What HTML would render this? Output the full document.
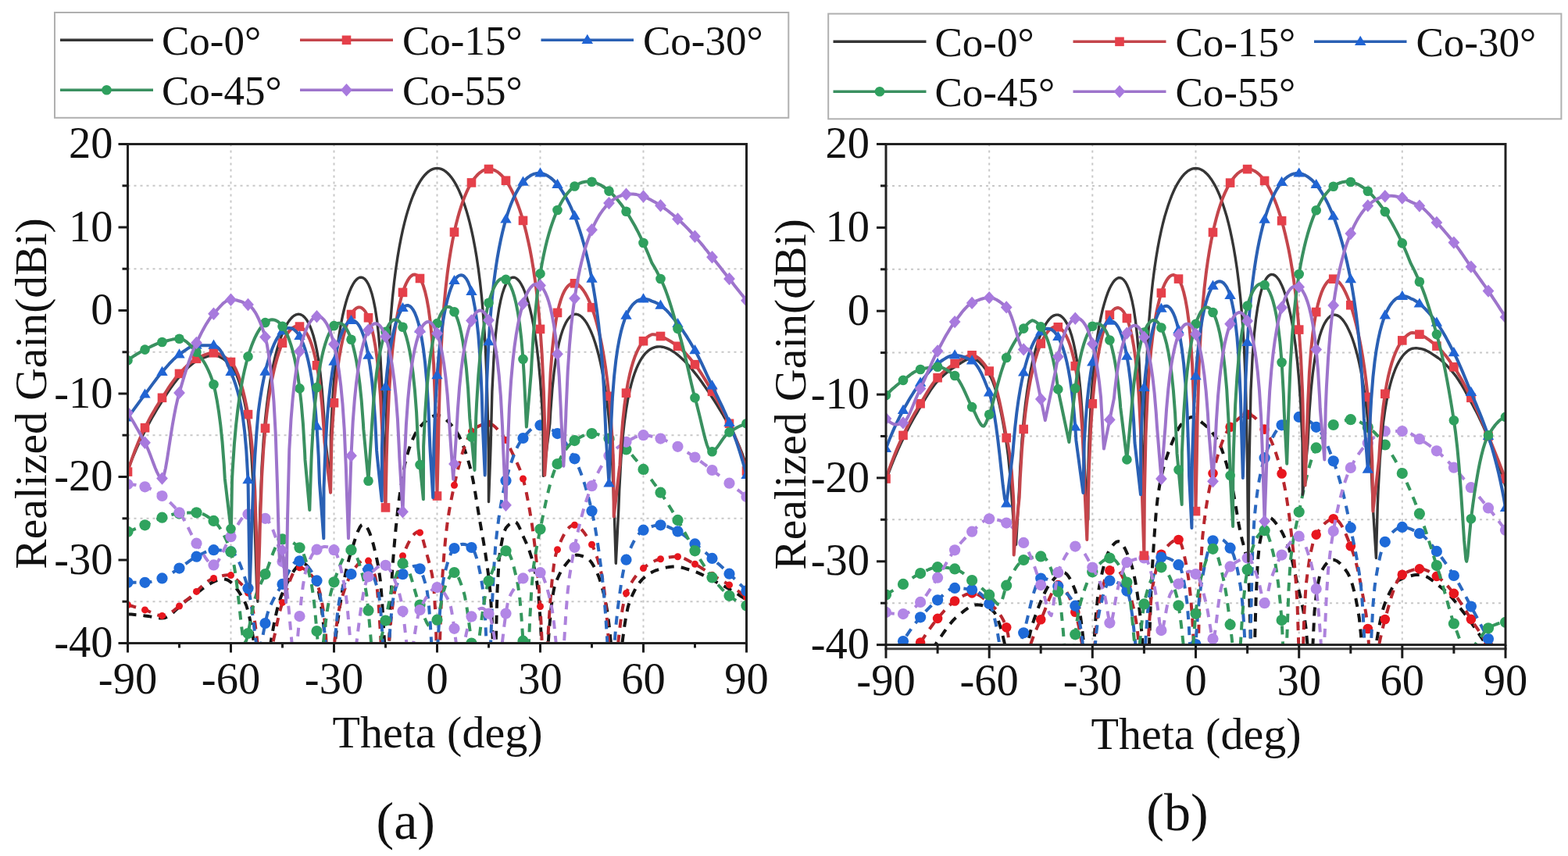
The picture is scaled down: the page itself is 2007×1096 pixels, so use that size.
<!DOCTYPE html><html><head><meta charset="utf-8"><style>html,body{margin:0;padding:0;background:#fff;overflow:hidden}svg{display:block}</style></head><body><svg width="2007" height="1096" viewBox="0 0 2007 1096" font-family="'Liberation Serif', 'Times New Roman', serif" font-size="54" fill="#111">
<rect width="2007" height="1096" fill="#fff"/>
<line x1="295.5" y1="184.5" x2="295.5" y2="823.5" stroke="#c8c8c8" stroke-width="2" stroke-dasharray="3 5"/>
<line x1="427.5" y1="184.5" x2="427.5" y2="823.5" stroke="#c8c8c8" stroke-width="2" stroke-dasharray="3 5"/>
<line x1="559.5" y1="184.5" x2="559.5" y2="823.5" stroke="#c8c8c8" stroke-width="2" stroke-dasharray="3 5"/>
<line x1="691.5" y1="184.5" x2="691.5" y2="823.5" stroke="#c8c8c8" stroke-width="2" stroke-dasharray="3 5"/>
<line x1="823.5" y1="184.5" x2="823.5" y2="823.5" stroke="#c8c8c8" stroke-width="2" stroke-dasharray="3 5"/>
<line x1="163.5" y1="237.8" x2="955.5" y2="237.8" stroke="#c8c8c8" stroke-width="2" stroke-dasharray="3 5"/>
<line x1="163.5" y1="344.2" x2="955.5" y2="344.2" stroke="#c8c8c8" stroke-width="2" stroke-dasharray="3 5"/>
<line x1="163.5" y1="450.8" x2="955.5" y2="450.8" stroke="#c8c8c8" stroke-width="2" stroke-dasharray="3 5"/>
<line x1="163.5" y1="557.2" x2="955.5" y2="557.2" stroke="#c8c8c8" stroke-width="2" stroke-dasharray="3 5"/>
<line x1="163.5" y1="663.8" x2="955.5" y2="663.8" stroke="#c8c8c8" stroke-width="2" stroke-dasharray="3 5"/>
<line x1="163.5" y1="770.2" x2="955.5" y2="770.2" stroke="#c8c8c8" stroke-width="2" stroke-dasharray="3 5"/>
<line x1="1266.2" y1="184.5" x2="1266.2" y2="825.6" stroke="#c8c8c8" stroke-width="2" stroke-dasharray="3 5"/>
<line x1="1398.3" y1="184.5" x2="1398.3" y2="825.6" stroke="#c8c8c8" stroke-width="2" stroke-dasharray="3 5"/>
<line x1="1530.5" y1="184.5" x2="1530.5" y2="825.6" stroke="#c8c8c8" stroke-width="2" stroke-dasharray="3 5"/>
<line x1="1662.7" y1="184.5" x2="1662.7" y2="825.6" stroke="#c8c8c8" stroke-width="2" stroke-dasharray="3 5"/>
<line x1="1794.8" y1="184.5" x2="1794.8" y2="825.6" stroke="#c8c8c8" stroke-width="2" stroke-dasharray="3 5"/>
<line x1="1134.0" y1="237.9" x2="1927.0" y2="237.9" stroke="#c8c8c8" stroke-width="2" stroke-dasharray="3 5"/>
<line x1="1134.0" y1="344.8" x2="1927.0" y2="344.8" stroke="#c8c8c8" stroke-width="2" stroke-dasharray="3 5"/>
<line x1="1134.0" y1="451.6" x2="1927.0" y2="451.6" stroke="#c8c8c8" stroke-width="2" stroke-dasharray="3 5"/>
<line x1="1134.0" y1="558.5" x2="1927.0" y2="558.5" stroke="#c8c8c8" stroke-width="2" stroke-dasharray="3 5"/>
<line x1="1134.0" y1="665.3" x2="1927.0" y2="665.3" stroke="#c8c8c8" stroke-width="2" stroke-dasharray="3 5"/>
<line x1="1134.0" y1="772.2" x2="1927.0" y2="772.2" stroke="#c8c8c8" stroke-width="2" stroke-dasharray="3 5"/>
<clipPath id="clipa"><rect x="163.5" y="184.5" width="792.0" height="639.0"/></clipPath>
<g clip-path="url(#clipa)" fill="none" stroke-linejoin="round" stroke-linecap="butt">
<path d="M163.5,786.2L165.7,786.4L167.9,786.6L170.1,786.8L172.3,787.0L174.5,787.2L176.7,787.4L178.9,787.6L181.1,787.9L183.3,788.1L185.5,788.4L187.7,788.7L189.9,789.0L192.1,789.4L194.3,789.8L196.5,790.3L198.7,790.7L200.9,791.0L203.1,791.3L205.3,791.5L207.5,791.5L209.7,791.3L211.9,790.7L214.1,789.7L216.3,788.4L218.5,786.8L220.7,785.1L222.9,783.1L225.1,781.1L227.3,779.1L229.5,777.0L231.7,774.9L233.9,772.9L236.1,771.0L238.3,769.1L240.5,767.5L242.7,766.0L244.9,764.5L247.1,763.0L249.3,761.4L251.5,759.7L253.7,758.0L255.9,756.3L258.1,754.7L260.3,753.0L262.5,751.5L264.7,749.9L266.9,748.5L269.1,747.2L271.3,746.0L273.5,744.9L275.7,743.9L277.9,743.1L280.1,742.4L282.3,741.9L284.5,741.6L286.7,741.5L288.9,741.8L291.1,742.5L293.3,743.8L295.5,745.4L297.7,747.5L299.9,749.9L302.1,752.7L304.3,755.7L306.5,759.0L308.7,762.6L310.9,766.4L313.1,770.2L315.3,775.3L317.5,782.7L319.7,792.1L321.9,803.5L324.1,816.8L326.3,831.4L328.5,846.8L330.7,861.3L332.9,872.4L335.1,876.8L337.3,873.4L339.5,864.7L341.7,852.6L343.9,839.0L346.1,825.3L348.3,812.2L350.5,800.2L352.7,789.3L354.9,779.8L357.1,771.7L359.3,764.9L361.5,759.6L363.7,754.9L365.9,750.2L368.1,745.5L370.3,741.1L372.5,736.9L374.7,733.1L376.9,729.7L379.1,726.9L381.3,724.5L383.5,722.7L385.7,721.6L387.9,721.3L390.1,721.8L392.3,723.5L394.5,726.1L396.7,729.5L398.9,733.6L401.1,738.3L403.3,743.5L405.5,748.9L407.7,756.4L409.9,767.8L412.1,782.8L414.3,801.6L416.5,823.6L418.7,847.2L420.9,867.8L423.1,876.8L425.3,863.3L427.5,837.9L429.7,815.4L431.9,798.3L434.1,782.3L436.3,767.5L438.5,754.0L440.7,742.0L442.9,731.2L445.1,721.8L447.3,713.5L449.5,706.4L451.7,699.4L453.9,692.3L456.1,685.6L458.3,679.8L460.5,675.3L462.7,672.3L464.9,671.2L467.1,672.1L469.3,674.5L471.5,678.4L473.7,683.6L475.9,690.1L478.1,697.9L480.3,706.8L482.5,716.8L484.7,727.6L486.9,743.9L489.1,770.2L491.3,807.2L493.5,851.1L495.7,876.8L497.9,831.4L500.1,770.5L502.3,728.0L504.5,700.1L506.7,676.0L508.9,655.2L511.1,637.5L513.3,622.6L515.5,608.8L517.7,596.6L519.9,587.1L522.1,579.5L524.3,572.7L526.5,566.7L528.7,561.3L530.9,556.7L533.1,552.6L535.3,549.3L537.5,546.6L539.7,544.3L541.9,542.0L544.1,539.9L546.3,537.9L548.5,536.2L550.7,534.7L552.9,533.4L555.1,532.5L557.3,531.9L559.5,531.7L561.7,531.9L563.9,532.6L566.1,533.7L568.3,535.2L570.5,536.9L572.7,538.9L574.9,541.2L577.1,543.6L579.3,546.1L581.5,548.7L583.7,551.7L585.9,555.2L588.1,559.4L590.3,564.2L592.5,569.6L594.7,575.6L596.9,582.1L599.1,589.1L601.3,596.7L603.5,605.4L605.7,616.0L607.9,628.3L610.1,641.9L612.3,655.8L614.5,668.8L616.7,681.1L618.9,693.7L621.1,707.4L623.3,722.4L625.5,738.9L627.7,759.6L629.9,795.6L632.1,862.9L634.3,838.7L636.5,756.2L638.7,717.0L640.9,701.2L643.1,689.4L645.3,681.1L647.5,676.1L649.7,673.5L651.9,671.3L654.1,669.6L656.3,668.5L658.5,668.0L660.7,668.8L662.9,671.6L665.1,675.9L667.3,681.0L669.5,686.3L671.7,691.0L673.9,695.9L676.1,701.3L678.3,707.3L680.5,714.2L682.7,722.4L684.9,732.2L687.1,744.1L689.3,761.9L691.5,791.9L693.7,832.9L695.9,871.6L698.1,870.6L700.3,843.4L702.5,812.2L704.7,785.8L706.9,766.2L709.1,753.8L711.3,746.7L713.5,741.0L715.7,736.1L717.9,731.9L720.1,728.3L722.3,725.1L724.5,722.3L726.7,719.6L728.9,716.9L731.1,714.4L733.3,712.4L735.5,711.1L737.7,710.6L739.9,710.7L742.1,711.1L744.3,711.7L746.5,712.5L748.7,713.4L750.9,714.4L753.1,715.7L755.3,717.9L757.5,720.8L759.7,724.4L761.9,728.5L764.1,733.0L766.3,738.2L768.5,744.6L770.7,752.2L772.9,760.8L775.1,770.2L777.3,782.5L779.5,799.5L781.7,820.8L783.9,844.8L786.1,866.8L788.3,876.8L790.5,870.3L792.7,855.0L794.9,836.3L797.1,818.0L799.3,801.7L801.5,788.1L803.7,777.6L805.9,770.2L808.1,764.9L810.3,760.0L812.5,755.6L814.7,751.7L816.9,748.2L819.1,745.2L821.3,742.6L823.5,740.4L825.7,738.5L827.9,736.8L830.1,735.2L832.3,733.8L834.5,732.6L836.7,731.5L838.9,730.5L841.1,729.8L843.3,729.1L845.5,728.5L847.7,727.9L849.9,727.3L852.1,726.8L854.3,726.4L856.5,726.0L858.7,725.8L860.9,725.6L863.1,725.5L865.3,725.6L867.5,725.8L869.7,726.1L871.9,726.5L874.1,727.0L876.3,727.6L878.5,728.3L880.7,729.0L882.9,729.7L885.1,730.4L887.3,731.2L889.5,731.9L891.7,732.7L893.9,733.6L896.1,734.6L898.3,735.6L900.5,736.7L902.7,737.9L904.9,739.1L907.1,740.2L909.3,741.4L911.5,742.6L913.7,743.7L915.9,744.8L918.1,745.9L920.3,747.1L922.5,748.2L924.7,749.4L926.9,750.6L929.1,751.8L931.3,753.0L933.5,754.3L935.7,755.6L937.9,756.9L940.1,758.2L942.3,759.5L944.5,760.9L946.7,762.3L948.9,763.7L951.1,765.1L953.3,766.6L955.5,768.1" stroke="#141414" stroke-width="4" stroke-dasharray="11 9"/>
<path d="M163.5,774.5L165.7,775.1L167.9,775.7L170.1,776.3L172.3,777.0L174.5,777.6L176.7,778.2L178.9,778.9L181.1,779.5L183.3,780.2L185.5,780.9L187.7,781.7L189.9,782.5L192.1,783.5L194.3,784.5L196.5,785.5L198.7,786.4L200.9,787.2L203.1,787.8L205.3,788.2L207.5,788.4L209.7,788.2L211.9,787.7L214.1,786.9L216.3,785.8L218.5,784.5L220.7,783.0L222.9,781.4L225.1,779.6L227.3,777.8L229.5,776.0L231.7,774.1L233.9,772.2L236.1,770.4L238.3,768.6L240.5,767.0L242.7,765.3L244.9,763.6L247.1,761.6L249.3,759.5L251.5,757.4L253.7,755.2L255.9,753.0L258.1,750.9L260.3,748.9L262.5,747.0L264.7,745.3L266.9,743.7L269.1,742.4L271.3,741.3L273.5,740.4L275.7,739.7L277.9,739.0L280.1,738.4L282.3,737.8L284.5,737.2L286.7,736.8L288.9,736.5L291.1,736.2L293.3,736.2L295.5,736.6L297.7,737.9L299.9,739.6L302.1,741.6L304.3,743.6L306.5,745.5L308.7,747.6L310.9,749.9L313.1,752.5L315.3,755.5L317.5,759.1L319.7,763.8L321.9,771.7L324.1,782.8L326.3,797.1L328.5,814.2L330.7,833.5L332.9,853.4L335.1,869.8L337.3,876.8L339.5,873.4L341.7,864.7L343.9,853.1L346.1,840.7L348.3,828.6L350.5,817.6L352.7,807.9L354.9,797.0L357.1,786.9L359.3,778.7L361.5,771.4L363.7,764.9L365.9,758.5L368.1,752.0L370.3,745.6L372.5,739.9L374.7,734.9L376.9,730.9L379.1,728.1L381.3,726.7L383.5,726.7L385.7,727.1L387.9,727.9L390.1,729.1L392.3,730.6L394.5,732.4L396.7,734.5L398.9,737.0L401.1,739.6L403.3,742.6L405.5,746.6L407.7,752.5L409.9,760.6L412.1,771.2L414.3,784.7L416.5,802.2L418.7,844.2L420.9,876.4L423.1,866.6L425.3,848.3L427.5,827.9L429.7,808.9L431.9,792.7L434.1,779.7L436.3,770.2L438.5,762.8L440.7,755.9L442.9,749.6L445.1,743.9L447.3,738.8L449.5,734.4L451.7,730.7L453.9,727.6L456.1,725.0L458.3,722.4L460.5,720.1L462.7,718.1L464.9,716.7L467.1,716.0L469.3,716.3L471.5,718.1L473.7,721.4L475.9,726.0L478.1,731.7L480.3,738.3L482.5,751.0L484.7,775.0L486.9,809.9L489.1,852.0L491.3,876.8L493.5,867.1L495.7,845.2L497.9,820.3L500.1,797.2L502.3,777.4L504.5,761.3L506.7,748.9L508.9,738.2L511.1,728.0L513.3,719.0L515.5,711.8L517.7,706.4L519.9,701.4L522.1,696.7L524.3,692.4L526.5,688.6L528.7,685.5L530.9,683.1L533.1,681.5L535.3,680.8L537.5,681.9L539.7,686.2L541.9,692.7L544.1,700.9L546.3,709.5L548.5,717.4L550.7,725.3L552.9,735.1L555.1,748.9L557.3,784.3L559.5,850.8L561.7,864.2L563.9,793.6L566.1,741.2L568.3,710.9L570.5,687.0L572.7,668.8L574.9,654.4L577.1,642.3L579.3,631.4L581.5,621.2L583.7,611.2L585.9,601.7L588.1,592.9L590.3,584.9L592.5,578.0L594.7,571.9L596.9,566.1L599.1,560.5L601.3,555.8L603.5,552.1L605.7,549.8L607.9,548.4L610.1,547.0L612.3,545.9L614.5,544.8L616.7,544.0L618.9,543.3L621.1,542.8L623.3,542.4L625.5,542.3L627.7,542.7L629.9,543.7L632.1,545.2L634.3,547.1L636.5,549.4L638.7,552.0L640.9,554.6L643.1,557.2L645.3,560.1L647.5,563.6L649.7,567.6L651.9,571.9L654.1,576.5L656.3,581.2L658.5,585.9L660.7,590.4L662.9,595.1L665.1,600.2L667.3,606.0L669.5,613.0L671.7,621.5L673.9,631.5L676.1,642.8L678.3,655.3L680.5,668.6L682.7,683.9L684.9,701.9L687.1,722.9L689.3,747.0L691.5,776.5L693.7,821.3L695.9,869.7L698.1,868.9L700.3,834.6L702.5,796.7L704.7,764.9L706.9,740.2L709.1,722.2L711.3,710.4L713.5,703.7L715.7,698.0L717.9,692.7L720.1,688.0L722.3,683.8L724.5,680.2L726.7,677.2L728.9,674.9L731.1,673.3L733.3,672.4L735.5,672.3L737.7,672.9L739.9,674.1L742.1,675.7L744.3,677.9L746.5,680.4L748.7,683.3L750.9,686.5L753.1,689.9L755.3,693.5L757.5,697.2L759.7,701.7L761.9,707.1L764.1,713.4L766.3,720.6L768.5,728.9L770.7,738.3L772.9,751.4L775.1,770.8L777.3,796.8L779.5,828.4L781.7,860.6L783.9,876.8L786.1,869.0L788.3,850.9L790.5,829.7L792.7,809.4L794.9,791.9L797.1,777.6L799.3,766.8L801.5,759.6L803.7,754.6L805.9,750.2L808.1,746.2L810.3,742.7L812.5,739.5L814.7,736.6L816.9,734.0L819.1,731.7L821.3,729.6L823.5,727.6L825.7,725.9L827.9,724.1L830.1,722.6L832.3,721.1L834.5,719.8L836.7,718.7L838.9,717.7L841.1,717.0L843.3,716.4L845.5,715.8L847.7,715.3L849.9,714.8L852.1,714.3L854.3,713.9L856.5,713.5L858.7,713.2L860.9,713.0L863.1,712.8L865.3,712.7L867.5,712.8L869.7,713.1L871.9,713.6L874.1,714.4L876.3,715.3L878.5,716.4L880.7,717.5L882.9,718.7L885.1,720.0L887.3,721.2L889.5,722.3L891.7,723.5L893.9,724.7L896.1,726.1L898.3,727.5L900.5,728.9L902.7,730.4L904.9,731.9L907.1,733.4L909.3,734.8L911.5,736.2L913.7,737.5L915.9,738.8L918.1,740.0L920.3,741.2L922.5,742.5L924.7,743.7L926.9,745.0L929.1,746.2L931.3,747.6L933.5,748.9L935.7,750.4L937.9,751.8L940.1,753.4L942.3,754.9L944.5,756.5L946.7,758.1L948.9,759.7L951.1,761.4L953.3,763.1L955.5,764.9" stroke="#b8262d" stroke-width="4" stroke-dasharray="11 9"/>
<circle cx="163.5" cy="774.5" r="4.5" fill="#e8161e"/>
<circle cx="185.5" cy="780.9" r="4.5" fill="#e8161e"/>
<circle cx="207.5" cy="788.4" r="4.5" fill="#e8161e"/>
<circle cx="229.5" cy="776.0" r="4.5" fill="#e8161e"/>
<circle cx="251.5" cy="757.4" r="4.5" fill="#e8161e"/>
<circle cx="273.5" cy="740.4" r="4.5" fill="#e8161e"/>
<circle cx="295.5" cy="736.6" r="4.5" fill="#e8161e"/>
<circle cx="317.5" cy="759.1" r="4.5" fill="#e8161e"/>
<circle cx="361.5" cy="771.4" r="4.5" fill="#e8161e"/>
<circle cx="383.5" cy="726.7" r="4.5" fill="#e8161e"/>
<circle cx="405.5" cy="746.6" r="4.5" fill="#e8161e"/>
<circle cx="427.5" cy="827.9" r="4.5" fill="#e8161e"/>
<circle cx="449.5" cy="734.4" r="4.5" fill="#e8161e"/>
<circle cx="471.5" cy="718.1" r="4.5" fill="#e8161e"/>
<circle cx="515.5" cy="711.8" r="4.5" fill="#e8161e"/>
<circle cx="537.5" cy="681.9" r="4.5" fill="#e8161e"/>
<circle cx="581.5" cy="621.2" r="4.5" fill="#e8161e"/>
<circle cx="603.5" cy="552.1" r="4.5" fill="#e8161e"/>
<circle cx="625.5" cy="542.3" r="4.5" fill="#e8161e"/>
<circle cx="647.5" cy="563.6" r="4.5" fill="#e8161e"/>
<circle cx="669.5" cy="613.0" r="4.5" fill="#e8161e"/>
<circle cx="691.5" cy="776.5" r="4.5" fill="#e8161e"/>
<circle cx="713.5" cy="703.7" r="4.5" fill="#e8161e"/>
<circle cx="735.5" cy="672.3" r="4.5" fill="#e8161e"/>
<circle cx="757.5" cy="697.2" r="4.5" fill="#e8161e"/>
<circle cx="779.5" cy="828.4" r="4.5" fill="#e8161e"/>
<circle cx="801.5" cy="759.6" r="4.5" fill="#e8161e"/>
<circle cx="823.5" cy="727.6" r="4.5" fill="#e8161e"/>
<circle cx="845.5" cy="715.8" r="4.5" fill="#e8161e"/>
<circle cx="867.5" cy="712.8" r="4.5" fill="#e8161e"/>
<circle cx="889.5" cy="722.3" r="4.5" fill="#e8161e"/>
<circle cx="911.5" cy="736.2" r="4.5" fill="#e8161e"/>
<circle cx="933.5" cy="748.9" r="4.5" fill="#e8161e"/>
<circle cx="955.5" cy="764.9" r="4.5" fill="#e8161e"/>
<path d="M163.5,745.8L165.7,745.8L167.9,745.8L170.1,745.8L172.3,745.8L174.5,745.8L176.7,745.8L178.9,745.8L181.1,745.8L183.3,745.8L185.5,745.8L187.7,745.7L189.9,745.4L192.1,745.1L194.3,744.6L196.5,744.0L198.7,743.4L200.9,742.7L203.1,741.9L205.3,741.2L207.5,740.4L209.7,739.6L211.9,738.6L214.1,737.4L216.3,736.1L218.5,734.8L220.7,733.4L222.9,731.9L225.1,730.5L227.3,729.0L229.5,727.6L231.7,726.2L233.9,724.7L236.1,723.1L238.3,721.4L240.5,719.8L242.7,718.2L244.9,716.7L247.1,715.2L249.3,713.9L251.5,712.7L253.7,711.6L255.9,710.5L258.1,709.3L260.3,708.2L262.5,707.1L264.7,706.2L266.9,705.4L269.1,704.8L271.3,704.4L273.5,704.2L275.7,704.2L277.9,704.3L280.1,704.4L282.3,704.6L284.5,704.8L286.7,705.0L288.9,705.3L291.1,705.6L293.3,706.0L295.5,706.4L297.7,707.3L299.9,709.3L302.1,712.3L304.3,716.1L306.5,720.7L308.7,726.1L310.9,732.2L313.1,738.8L315.3,745.9L317.5,753.2L319.7,762.8L321.9,776.5L324.1,793.3L326.3,811.5L328.5,827.3L330.7,834.1L332.9,830.3L335.1,821.0L337.3,809.4L339.5,798.0L341.7,788.2L343.9,780.9L346.1,775.5L348.3,770.8L350.5,766.5L352.7,762.5L354.9,758.8L357.1,755.1L359.3,751.5L361.5,747.9L363.7,743.9L365.9,739.4L368.1,734.8L370.3,730.4L372.5,726.4L374.7,723.0L376.9,720.4L379.1,718.7L381.3,718.1L383.5,718.3L385.7,719.1L387.9,720.3L390.1,721.9L392.3,723.9L394.5,726.3L396.7,729.0L398.9,732.1L401.1,735.5L403.3,739.2L405.5,743.4L407.7,751.1L409.9,762.7L412.1,778.2L414.3,797.5L416.5,820.4L418.7,845.1L420.9,867.1L423.1,876.8L425.3,863.5L427.5,836.3L429.7,808.8L431.9,786.1L434.1,769.6L436.3,759.6L438.5,753.4L440.7,748.0L442.9,743.4L445.1,739.6L447.3,736.9L449.5,735.1L451.7,733.9L453.9,732.9L456.1,731.9L458.3,731.0L460.5,730.3L462.7,729.7L464.9,729.2L467.1,728.9L469.3,728.7L471.5,728.9L473.7,730.4L475.9,733.6L478.1,738.2L480.3,744.1L482.5,751.3L484.7,759.6L486.9,776.4L489.1,807.9L491.3,850.1L493.5,876.8L495.7,858.7L497.9,825.0L500.1,794.6L502.3,772.5L504.5,759.6L506.7,752.3L508.9,746.2L511.1,741.4L513.3,737.8L515.5,735.2L517.7,733.0L519.9,731.0L522.1,729.1L524.3,727.5L526.5,726.3L528.7,725.3L530.9,724.7L533.1,724.5L535.3,725.5L537.5,728.3L539.7,732.8L541.9,738.8L544.1,746.0L546.3,754.3L548.5,769.6L550.7,797.5L552.9,836.0L555.1,872.0L557.3,869.2L559.5,836.9L561.7,801.6L563.9,772.7L566.1,751.6L568.3,738.3L570.5,729.3L572.7,721.3L574.9,714.4L577.1,708.8L579.3,704.7L581.5,702.1L583.7,700.4L585.9,698.9L588.1,697.8L590.3,697.0L592.5,696.8L594.7,697.0L596.9,697.6L599.1,698.5L601.3,699.6L603.5,701.0L605.7,703.6L607.9,708.1L610.1,714.6L612.3,723.0L614.5,733.4L616.7,745.9L618.9,761.0L621.1,791.4L623.3,840.4L625.5,876.8L627.7,834.8L629.9,774.4L632.1,729.1L634.3,698.0L636.5,677.9L638.7,661.7L640.9,647.5L643.1,635.2L645.3,624.5L647.5,615.4L649.7,607.3L651.9,599.8L654.1,592.9L656.3,586.5L658.5,580.7L660.7,575.5L662.9,570.9L665.1,567.0L667.3,563.7L669.5,561.0L671.7,558.3L673.9,555.7L676.1,553.3L678.3,551.0L680.5,549.1L682.7,547.4L684.9,546.0L687.1,545.1L689.3,544.6L691.5,544.5L693.7,544.7L695.9,545.2L698.1,546.0L700.3,546.9L702.5,548.0L704.7,549.2L706.9,550.6L709.1,552.1L711.3,553.6L713.5,555.1L715.7,556.9L717.9,559.0L720.1,561.6L722.3,564.5L724.5,567.7L726.7,571.2L728.9,574.9L731.1,578.9L733.3,583.0L735.5,587.3L737.7,591.7L739.9,596.6L742.1,602.0L744.3,607.8L746.5,614.2L748.7,621.0L750.9,628.4L753.1,636.4L755.3,645.0L757.5,654.2L759.7,664.4L761.9,676.2L764.1,689.6L766.3,704.6L768.5,721.0L770.7,738.3L772.9,759.2L775.1,787.0L777.3,821.6L779.5,858.0L781.7,876.8L783.9,860.7L786.1,830.0L788.3,801.7L790.5,780.9L792.7,764.2L794.9,748.6L797.1,735.1L799.3,724.4L801.5,716.7L803.7,710.5L805.9,704.8L808.1,699.7L810.3,695.1L812.5,691.0L814.7,687.5L816.9,684.5L819.1,682.0L821.3,680.1L823.5,678.7L825.7,677.6L827.9,676.6L830.1,675.6L832.3,674.8L834.5,674.0L836.7,673.4L838.9,672.9L841.1,672.5L843.3,672.3L845.5,672.3L847.7,672.5L849.9,672.9L852.1,673.5L854.3,674.2L856.5,675.1L858.7,676.1L860.9,677.2L863.1,678.2L865.3,679.3L867.5,680.4L869.7,681.6L871.9,682.9L874.1,684.4L876.3,686.0L878.5,687.7L880.7,689.4L882.9,691.2L885.1,692.9L887.3,694.7L889.5,696.4L891.7,698.1L893.9,699.9L896.1,701.7L898.3,703.5L900.5,705.4L902.7,707.2L904.9,709.1L907.1,711.0L909.3,713.0L911.5,714.9L913.7,716.8L915.9,718.7L918.1,720.7L920.3,722.6L922.5,724.6L924.7,726.6L926.9,728.6L929.1,730.6L931.3,732.6L933.5,734.7L935.7,736.8L937.9,738.9L940.1,741.0L942.3,743.1L944.5,745.3L946.7,747.5L948.9,749.7L951.1,751.9L953.3,754.1L955.5,756.4" stroke="#2a68c0" stroke-width="4" stroke-dasharray="11 9"/>
<circle cx="163.5" cy="745.8" r="7.1" fill="#1e6ad8"/>
<circle cx="185.5" cy="745.8" r="7.1" fill="#1e6ad8"/>
<circle cx="207.5" cy="740.4" r="7.1" fill="#1e6ad8"/>
<circle cx="229.5" cy="727.6" r="7.1" fill="#1e6ad8"/>
<circle cx="251.5" cy="712.7" r="7.1" fill="#1e6ad8"/>
<circle cx="273.5" cy="704.2" r="7.1" fill="#1e6ad8"/>
<circle cx="295.5" cy="706.4" r="7.1" fill="#1e6ad8"/>
<circle cx="317.5" cy="753.2" r="7.1" fill="#1e6ad8"/>
<circle cx="339.5" cy="798.0" r="7.1" fill="#1e6ad8"/>
<circle cx="361.5" cy="747.9" r="7.1" fill="#1e6ad8"/>
<circle cx="383.5" cy="718.3" r="7.1" fill="#1e6ad8"/>
<circle cx="405.5" cy="743.4" r="7.1" fill="#1e6ad8"/>
<circle cx="427.5" cy="836.3" r="7.1" fill="#1e6ad8"/>
<circle cx="449.5" cy="735.1" r="7.1" fill="#1e6ad8"/>
<circle cx="471.5" cy="728.9" r="7.1" fill="#1e6ad8"/>
<circle cx="515.5" cy="735.2" r="7.1" fill="#1e6ad8"/>
<circle cx="537.5" cy="728.3" r="7.1" fill="#1e6ad8"/>
<circle cx="559.5" cy="836.9" r="7.1" fill="#1e6ad8"/>
<circle cx="581.5" cy="702.1" r="7.1" fill="#1e6ad8"/>
<circle cx="603.5" cy="701.0" r="7.1" fill="#1e6ad8"/>
<circle cx="647.5" cy="615.4" r="7.1" fill="#1e6ad8"/>
<circle cx="669.5" cy="561.0" r="7.1" fill="#1e6ad8"/>
<circle cx="691.5" cy="544.5" r="7.1" fill="#1e6ad8"/>
<circle cx="713.5" cy="555.1" r="7.1" fill="#1e6ad8"/>
<circle cx="735.5" cy="587.3" r="7.1" fill="#1e6ad8"/>
<circle cx="757.5" cy="654.2" r="7.1" fill="#1e6ad8"/>
<circle cx="801.5" cy="716.7" r="7.1" fill="#1e6ad8"/>
<circle cx="823.5" cy="678.7" r="7.1" fill="#1e6ad8"/>
<circle cx="845.5" cy="672.3" r="7.1" fill="#1e6ad8"/>
<circle cx="867.5" cy="680.4" r="7.1" fill="#1e6ad8"/>
<circle cx="889.5" cy="696.4" r="7.1" fill="#1e6ad8"/>
<circle cx="911.5" cy="714.9" r="7.1" fill="#1e6ad8"/>
<circle cx="933.5" cy="734.7" r="7.1" fill="#1e6ad8"/>
<circle cx="955.5" cy="756.4" r="7.1" fill="#1e6ad8"/>
<path d="M163.5,680.8L165.7,680.0L167.9,679.2L170.1,678.4L172.3,677.5L174.5,676.7L176.7,675.8L178.9,674.9L181.1,674.1L183.3,673.2L185.5,672.3L187.7,671.3L189.9,670.3L192.1,669.3L194.3,668.2L196.5,667.2L198.7,666.2L200.9,665.2L203.1,664.3L205.3,663.4L207.5,662.7L209.7,662.0L211.9,661.3L214.1,660.6L216.3,660.0L218.5,659.4L220.7,658.8L222.9,658.3L225.1,657.9L227.3,657.6L229.5,657.4L231.7,657.2L233.9,657.0L236.1,656.9L238.3,656.7L240.5,656.6L242.7,656.5L244.9,656.4L247.1,656.3L249.3,656.3L251.5,656.3L253.7,656.4L255.9,656.9L258.1,657.5L260.3,658.4L262.5,659.5L264.7,660.8L266.9,662.2L269.1,663.7L271.3,665.3L273.5,666.9L275.7,668.8L277.9,671.2L280.1,674.0L282.3,677.3L284.5,681.0L286.7,685.2L288.9,689.8L291.1,694.8L293.3,700.4L295.5,706.4L297.7,714.3L299.9,725.6L302.1,740.2L304.3,757.8L306.5,777.8L308.7,798.6L310.9,816.1L313.1,823.5L315.3,819.9L317.5,811.0L319.7,799.5L321.9,787.5L324.1,776.3L326.3,766.9L328.5,759.6L330.7,754.0L332.9,749.0L335.1,744.4L337.3,739.8L339.5,735.1L341.7,729.7L343.9,723.7L346.1,717.4L348.3,711.2L350.5,705.6L352.7,700.5L354.9,696.3L357.1,693.1L359.3,691.1L361.5,690.4L363.7,690.5L365.9,690.9L368.1,691.5L370.3,692.3L372.5,693.3L374.7,694.6L376.9,696.0L379.1,697.6L381.3,699.3L383.5,701.3L385.7,703.7L387.9,707.7L390.1,713.4L392.3,720.6L394.5,729.1L396.7,738.7L398.9,748.9L401.1,762.9L403.3,783.1L405.5,808.1L407.7,832.8L409.9,844.8L412.1,836.8L414.3,819.1L416.5,799.6L418.7,782.7L420.9,770.2L423.1,760.6L425.3,752.2L427.5,745.3L429.7,738.7L431.9,732.4L434.1,726.5L436.3,721.1L438.5,716.3L440.7,712.2L442.9,708.8L445.1,706.3L447.3,704.8L449.5,704.2L451.7,705.1L453.9,707.7L456.1,711.8L458.3,717.2L460.5,723.8L462.7,731.4L464.9,739.9L467.1,748.9L469.3,761.9L471.5,781.7L473.7,806.9L475.9,832.3L478.1,844.8L480.3,842.8L482.5,837.4L484.7,829.8L486.9,821.1L489.1,812.3L491.3,803.8L493.5,794.6L495.7,783.0L497.9,771.0L500.1,759.9L502.3,750.6L504.5,743.6L506.7,737.7L508.9,732.0L511.1,727.0L513.3,723.4L515.5,721.4L517.7,721.7L519.9,724.0L522.1,728.0L524.3,733.6L526.5,740.3L528.7,747.8L530.9,755.6L533.1,763.1L535.3,769.2L537.5,774.6L539.7,780.6L541.9,786.6L544.1,792.5L546.3,797.4L548.5,800.9L550.7,802.2L552.9,801.5L555.1,799.6L557.3,796.9L559.5,793.7L561.7,787.0L563.9,776.4L566.1,765.1L568.3,755.5L570.5,748.9L572.7,744.3L574.9,739.9L577.1,736.3L579.3,733.9L581.5,733.0L583.7,734.2L585.9,737.5L588.1,742.3L590.3,748.2L592.5,754.3L594.7,762.2L596.9,773.7L599.1,788.5L601.3,805.6L603.5,823.5L605.7,838.5L607.9,844.8L610.1,839.2L612.3,825.5L614.5,808.4L616.7,791.2L618.9,775.6L621.1,762.3L623.3,751.6L625.5,743.8L627.7,737.9L629.9,732.3L632.1,726.8L634.3,721.8L636.5,717.3L638.7,713.4L640.9,710.1L643.1,707.7L645.3,706.0L647.5,705.3L649.7,706.1L651.9,709.1L654.1,714.1L656.3,720.9L658.5,729.2L660.7,738.7L662.9,748.9L665.1,764.0L667.3,788.1L669.5,820.7L671.7,857.0L673.9,876.8L676.1,842.5L678.3,790.9L680.5,752.1L682.7,727.6L684.9,712.2L687.1,699.6L689.3,688.3L691.5,677.6L693.7,666.8L695.9,655.9L698.1,645.3L700.3,635.4L702.5,626.2L704.7,617.9L706.9,610.5L709.1,604.0L711.3,598.6L713.5,594.0L715.7,589.6L717.9,585.6L720.1,581.8L722.3,578.3L724.5,575.1L726.7,572.2L728.9,569.7L731.1,567.5L733.3,565.6L735.5,564.1L737.7,562.7L739.9,561.4L742.1,560.1L744.3,558.9L746.5,557.8L748.7,556.9L750.9,556.2L753.1,555.6L755.3,555.2L757.5,555.1L759.7,555.2L761.9,555.5L764.1,555.9L766.3,556.5L768.5,557.2L770.7,558.0L772.9,558.8L775.1,559.7L777.3,560.6L779.5,561.5L781.7,562.4L783.9,563.5L786.1,564.7L788.3,565.9L790.5,567.3L792.7,568.7L794.9,570.3L797.1,571.9L799.3,573.6L801.5,575.4L803.7,577.3L805.9,579.4L808.1,581.7L810.3,584.2L812.5,586.9L814.7,589.6L816.9,592.4L819.1,595.3L821.3,598.1L823.5,600.9L825.7,603.7L827.9,606.5L830.1,609.4L832.3,612.3L834.5,615.2L836.7,618.3L838.9,621.3L841.1,624.4L843.3,627.6L845.5,630.7L847.7,634.0L849.9,637.3L852.1,640.7L854.3,644.1L856.5,647.7L858.7,651.3L860.9,654.9L863.1,658.5L865.3,662.2L867.5,665.9L869.7,669.6L871.9,673.5L874.1,677.4L876.3,681.4L878.5,685.5L880.7,689.6L882.9,693.7L885.1,697.7L887.3,701.6L889.5,705.3L891.7,708.9L893.9,712.5L896.1,716.2L898.3,719.8L900.5,723.3L902.7,726.8L904.9,730.2L907.1,733.4L909.3,736.5L911.5,739.4L913.7,742.1L915.9,744.8L918.1,747.4L920.3,750.0L922.5,752.4L924.7,754.8L926.9,757.0L929.1,759.1L931.3,761.0L933.5,762.8L935.7,764.4L937.9,766.1L940.1,767.6L942.3,769.1L944.5,770.6L946.7,771.9L948.9,773.1L951.1,774.1L953.3,774.9L955.5,775.6" stroke="#34975d" stroke-width="4" stroke-dasharray="11 9"/>
<circle cx="163.5" cy="680.8" r="7.1" fill="#2fa35e"/>
<circle cx="185.5" cy="672.3" r="7.1" fill="#2fa35e"/>
<circle cx="207.5" cy="662.7" r="7.1" fill="#2fa35e"/>
<circle cx="229.5" cy="657.4" r="7.1" fill="#2fa35e"/>
<circle cx="251.5" cy="656.3" r="7.1" fill="#2fa35e"/>
<circle cx="273.5" cy="666.9" r="7.1" fill="#2fa35e"/>
<circle cx="295.5" cy="706.4" r="7.1" fill="#2fa35e"/>
<circle cx="317.5" cy="811.0" r="7.1" fill="#2fa35e"/>
<circle cx="339.5" cy="735.1" r="7.1" fill="#2fa35e"/>
<circle cx="361.5" cy="690.4" r="7.1" fill="#2fa35e"/>
<circle cx="383.5" cy="701.3" r="7.1" fill="#2fa35e"/>
<circle cx="405.5" cy="808.1" r="7.1" fill="#2fa35e"/>
<circle cx="427.5" cy="745.3" r="7.1" fill="#2fa35e"/>
<circle cx="449.5" cy="704.2" r="7.1" fill="#2fa35e"/>
<circle cx="471.5" cy="781.7" r="7.1" fill="#2fa35e"/>
<circle cx="493.5" cy="794.6" r="7.1" fill="#2fa35e"/>
<circle cx="515.5" cy="721.4" r="7.1" fill="#2fa35e"/>
<circle cx="537.5" cy="774.6" r="7.1" fill="#2fa35e"/>
<circle cx="559.5" cy="793.7" r="7.1" fill="#2fa35e"/>
<circle cx="581.5" cy="733.0" r="7.1" fill="#2fa35e"/>
<circle cx="603.5" cy="823.5" r="7.1" fill="#2fa35e"/>
<circle cx="625.5" cy="743.8" r="7.1" fill="#2fa35e"/>
<circle cx="647.5" cy="705.3" r="7.1" fill="#2fa35e"/>
<circle cx="669.5" cy="820.7" r="7.1" fill="#2fa35e"/>
<circle cx="691.5" cy="677.6" r="7.1" fill="#2fa35e"/>
<circle cx="713.5" cy="594.0" r="7.1" fill="#2fa35e"/>
<circle cx="735.5" cy="564.1" r="7.1" fill="#2fa35e"/>
<circle cx="757.5" cy="555.1" r="7.1" fill="#2fa35e"/>
<circle cx="779.5" cy="561.5" r="7.1" fill="#2fa35e"/>
<circle cx="801.5" cy="575.4" r="7.1" fill="#2fa35e"/>
<circle cx="823.5" cy="600.9" r="7.1" fill="#2fa35e"/>
<circle cx="845.5" cy="630.7" r="7.1" fill="#2fa35e"/>
<circle cx="867.5" cy="665.9" r="7.1" fill="#2fa35e"/>
<circle cx="889.5" cy="705.3" r="7.1" fill="#2fa35e"/>
<circle cx="911.5" cy="739.4" r="7.1" fill="#2fa35e"/>
<circle cx="933.5" cy="762.8" r="7.1" fill="#2fa35e"/>
<circle cx="955.5" cy="775.6" r="7.1" fill="#2fa35e"/>
<path d="M163.5,620.1L165.7,620.1L167.9,620.3L170.1,620.5L172.3,620.7L174.5,621.1L176.7,621.4L178.9,621.9L181.1,622.3L183.3,622.8L185.5,623.3L187.7,623.9L189.9,624.7L192.1,625.6L194.3,626.7L196.5,627.9L198.7,629.2L200.9,630.5L203.1,632.0L205.3,633.5L207.5,635.0L209.7,636.6L211.9,638.3L214.1,640.1L216.3,642.0L218.5,644.1L220.7,646.3L222.9,648.6L225.1,651.1L227.3,653.6L229.5,656.3L231.7,659.3L233.9,662.7L236.1,666.5L238.3,670.6L240.5,674.9L242.7,679.3L244.9,683.8L247.1,688.1L249.3,692.2L251.5,695.7L253.7,699.0L255.9,702.6L258.1,706.2L260.3,709.8L262.5,713.3L264.7,716.5L266.9,719.2L269.1,721.4L271.3,722.9L273.5,723.4L275.7,722.6L277.9,720.3L280.1,717.0L282.3,712.9L284.5,708.4L286.7,703.7L288.9,699.0L291.1,694.7L293.3,690.7L295.5,687.2L297.7,683.7L299.9,679.9L302.1,675.9L304.3,672.0L306.5,668.4L308.7,665.1L310.9,662.4L313.1,660.3L315.3,658.9L317.5,658.4L319.7,658.5L321.9,658.7L324.1,659.0L326.3,659.4L328.5,659.9L330.7,660.5L332.9,661.2L335.1,662.0L337.3,662.8L339.5,663.8L341.7,665.3L343.9,667.9L346.1,671.5L348.3,676.0L350.5,681.5L352.7,687.7L354.9,694.7L357.1,702.4L359.3,710.6L361.5,719.1L363.7,729.9L365.9,744.8L368.1,763.9L370.3,786.8L372.5,812.0L374.7,834.7L376.9,844.8L379.1,835.0L381.3,813.2L383.5,789.1L385.7,767.4L387.9,749.6L390.1,736.3L392.3,727.6L394.5,721.6L396.7,716.2L398.9,711.6L401.1,707.9L403.3,705.2L405.5,703.7L407.7,702.5L409.9,701.5L412.1,700.7L414.3,700.1L416.5,700.0L418.7,700.2L420.9,700.7L423.1,701.7L425.3,702.8L427.5,704.2L429.7,707.0L431.9,712.1L434.1,719.3L436.3,728.1L438.5,738.3L440.7,748.9L442.9,763.0L445.1,783.3L447.3,808.3L449.5,832.9L451.7,844.8L453.9,839.0L456.1,824.9L458.3,807.5L460.5,790.1L462.7,774.4L464.9,761.0L467.1,750.5L469.3,742.8L471.5,738.3L473.7,735.6L475.9,733.0L478.1,730.7L480.3,728.7L482.5,726.9L484.7,725.5L486.9,724.4L489.1,723.7L491.3,723.4L493.5,723.8L495.7,725.3L497.9,727.9L500.1,731.5L502.3,735.9L504.5,741.0L506.7,746.8L508.9,753.0L511.1,759.6L513.3,768.8L515.5,782.6L517.7,800.1L519.9,819.7L522.1,837.1L524.3,844.8L526.5,839.3L528.7,826.5L530.9,811.6L533.1,798.0L535.3,787.4L537.5,781.0L539.7,776.2L541.9,771.6L544.1,767.5L546.3,763.7L548.5,760.4L550.7,757.6L552.9,755.3L555.1,753.6L557.3,752.5L559.5,752.1L561.7,752.6L563.9,754.0L566.1,756.1L568.3,758.9L570.5,762.2L572.7,766.1L574.9,770.2L577.1,777.3L579.3,789.2L581.5,804.8L583.7,822.4L585.9,837.9L588.1,844.8L590.3,841.3L592.5,832.7L594.7,821.8L596.9,810.9L599.1,801.3L601.3,793.9L603.5,789.4L605.7,786.7L607.9,784.1L610.1,782.0L612.3,780.3L614.5,779.2L616.7,778.8L618.9,779.3L621.1,780.8L623.3,783.0L625.5,785.7L627.7,790.3L629.9,799.5L632.1,812.3L634.3,826.7L636.5,839.3L638.7,844.8L640.9,837.4L643.1,820.7L645.3,802.0L647.5,785.5L649.7,772.8L651.9,764.9L654.1,760.3L656.3,756.5L658.5,753.3L660.7,750.5L662.9,748.0L665.1,745.5L667.3,743.1L669.5,740.4L671.7,737.4L673.9,734.5L676.1,732.1L678.3,730.4L680.5,729.8L682.7,729.9L684.9,730.4L687.1,731.2L689.3,732.1L691.5,733.2L693.7,735.8L695.9,740.2L698.1,746.2L700.3,753.4L702.5,761.6L704.7,770.2L706.9,781.7L709.1,798.2L711.3,819.4L713.5,843.8L715.7,866.4L717.9,876.8L720.1,856.4L722.3,818.5L724.5,783.8L726.7,757.0L728.9,738.3L731.1,724.5L733.3,712.3L735.5,700.8L737.7,690.0L739.9,679.9L742.1,670.6L744.3,661.9L746.5,653.9L748.7,646.5L750.9,639.6L753.1,633.3L755.3,627.5L757.5,622.2L759.7,617.2L761.9,612.4L764.1,607.8L766.3,603.4L768.5,599.3L770.7,595.5L772.9,592.0L775.1,588.8L777.3,586.0L779.5,583.5L781.7,581.1L783.9,578.9L786.1,576.8L788.3,574.9L790.5,573.0L792.7,571.3L794.9,569.8L797.1,568.3L799.3,567.0L801.5,565.8L803.7,564.6L805.9,563.4L808.1,562.2L810.3,561.1L812.5,560.0L814.7,559.1L816.9,558.4L819.1,557.8L821.3,557.4L823.5,557.2L825.7,557.3L827.9,557.5L830.1,557.8L832.3,558.2L834.5,558.7L836.7,559.2L838.9,559.8L841.1,560.4L843.3,561.0L845.5,561.6L847.7,562.3L849.9,563.1L852.1,564.0L854.3,565.0L856.5,566.1L858.7,567.2L860.9,568.3L863.1,569.5L865.3,570.6L867.5,571.8L869.7,573.0L871.9,574.3L874.1,575.6L876.3,576.9L878.5,578.3L880.7,579.7L882.9,581.1L885.1,582.6L887.3,584.1L889.5,585.5L891.7,587.1L893.9,588.6L896.1,590.2L898.3,591.9L900.5,593.6L902.7,595.2L904.9,596.9L907.1,598.6L909.3,600.3L911.5,602.0L913.7,603.6L915.9,605.3L918.1,606.9L920.3,608.6L922.5,610.3L924.7,611.9L926.9,613.6L929.1,615.3L931.3,617.0L933.5,618.7L935.7,620.4L937.9,622.1L940.1,623.8L942.3,625.6L944.5,627.3L946.7,629.0L948.9,630.8L951.1,632.5L953.3,634.3L955.5,636.1" stroke="#ad82dc" stroke-width="4" stroke-dasharray="11 9"/>
<circle cx="163.5" cy="620.1" r="7.1" fill="#b286e6"/>
<circle cx="185.5" cy="623.3" r="7.1" fill="#b286e6"/>
<circle cx="207.5" cy="635.0" r="7.1" fill="#b286e6"/>
<circle cx="229.5" cy="656.3" r="7.1" fill="#b286e6"/>
<circle cx="251.5" cy="695.7" r="7.1" fill="#b286e6"/>
<circle cx="273.5" cy="723.4" r="7.1" fill="#b286e6"/>
<circle cx="295.5" cy="687.2" r="7.1" fill="#b286e6"/>
<circle cx="317.5" cy="658.4" r="7.1" fill="#b286e6"/>
<circle cx="339.5" cy="663.8" r="7.1" fill="#b286e6"/>
<circle cx="361.5" cy="719.1" r="7.1" fill="#b286e6"/>
<circle cx="383.5" cy="789.1" r="7.1" fill="#b286e6"/>
<circle cx="405.5" cy="703.7" r="7.1" fill="#b286e6"/>
<circle cx="427.5" cy="704.2" r="7.1" fill="#b286e6"/>
<circle cx="449.5" cy="832.9" r="7.1" fill="#b286e6"/>
<circle cx="471.5" cy="738.3" r="7.1" fill="#b286e6"/>
<circle cx="493.5" cy="723.8" r="7.1" fill="#b286e6"/>
<circle cx="515.5" cy="782.6" r="7.1" fill="#b286e6"/>
<circle cx="537.5" cy="781.0" r="7.1" fill="#b286e6"/>
<circle cx="559.5" cy="752.1" r="7.1" fill="#b286e6"/>
<circle cx="581.5" cy="804.8" r="7.1" fill="#b286e6"/>
<circle cx="603.5" cy="789.4" r="7.1" fill="#b286e6"/>
<circle cx="625.5" cy="785.7" r="7.1" fill="#b286e6"/>
<circle cx="647.5" cy="785.5" r="7.1" fill="#b286e6"/>
<circle cx="669.5" cy="740.4" r="7.1" fill="#b286e6"/>
<circle cx="691.5" cy="733.2" r="7.1" fill="#b286e6"/>
<circle cx="735.5" cy="700.8" r="7.1" fill="#b286e6"/>
<circle cx="757.5" cy="622.2" r="7.1" fill="#b286e6"/>
<circle cx="779.5" cy="583.5" r="7.1" fill="#b286e6"/>
<circle cx="801.5" cy="565.8" r="7.1" fill="#b286e6"/>
<circle cx="823.5" cy="557.2" r="7.1" fill="#b286e6"/>
<circle cx="845.5" cy="561.6" r="7.1" fill="#b286e6"/>
<circle cx="867.5" cy="571.8" r="7.1" fill="#b286e6"/>
<circle cx="889.5" cy="585.5" r="7.1" fill="#b286e6"/>
<circle cx="911.5" cy="602.0" r="7.1" fill="#b286e6"/>
<circle cx="933.5" cy="618.7" r="7.1" fill="#b286e6"/>
<circle cx="955.5" cy="636.1" r="7.1" fill="#b286e6"/>
<path d="M163.5,602.0L165.7,596.2L167.9,590.6L170.1,585.2L172.3,580.0L174.5,574.9L176.7,570.0L178.9,565.3L181.1,560.7L183.3,556.3L185.5,551.9L187.7,547.7L189.9,543.6L192.1,539.5L194.3,535.5L196.5,531.6L198.7,527.8L200.9,524.1L203.1,520.5L205.3,517.0L207.5,513.6L209.7,510.2L211.9,506.8L214.1,503.4L216.3,500.1L218.5,496.9L220.7,493.8L222.9,490.8L225.1,487.9L227.3,485.2L229.5,482.7L231.7,480.3L233.9,477.8L236.1,475.4L238.3,473.1L240.5,470.8L242.7,468.8L244.9,466.9L247.1,465.2L249.3,463.7L251.5,462.5L253.7,461.4L255.9,460.3L258.1,459.2L260.3,458.3L262.5,457.4L264.7,456.6L266.9,455.9L269.1,455.4L271.3,455.1L273.5,455.0L275.7,455.2L277.9,455.7L280.1,456.4L282.3,457.5L284.5,458.7L286.7,460.2L288.9,461.9L291.1,463.7L293.3,465.7L295.5,467.8L297.7,470.4L299.9,474.0L302.1,478.4L304.3,483.8L306.5,490.2L308.7,497.5L310.9,505.9L313.1,515.4L315.3,526.1L317.5,538.1L319.7,555.3L321.9,582.4L324.1,622.1L326.3,678.7L328.5,748.5L329.8,770.2L330.7,738.5L331.8,698.9L332.9,652.1L335.1,597.4L337.3,562.8L339.5,537.3L341.7,517.2L343.9,500.7L346.1,486.7L348.3,474.6L350.5,464.0L352.7,454.7L354.9,446.5L357.1,439.2L359.3,432.7L361.5,427.0L363.7,421.9L365.9,417.5L368.1,413.6L370.3,410.4L372.5,407.7L374.7,405.5L376.9,403.9L379.1,402.8L381.3,402.3L383.5,402.4L385.7,403.1L387.9,404.4L390.1,406.5L392.3,409.2L394.5,412.8L396.7,417.4L398.9,423.0L401.1,429.8L403.3,438.2L405.5,448.4L407.7,461.1L409.9,477.1L412.1,498.1L414.3,527.2L415.8,556.4L416.5,562.3L418.7,581.9L420.9,601.5L423.1,621.2L423.5,554.9L425.3,518.7L427.5,486.9L429.7,463.1L431.9,444.2L434.1,428.7L436.3,415.7L438.5,404.5L440.7,395.0L442.9,386.7L445.1,379.6L447.3,373.6L449.5,368.4L451.7,364.2L453.9,360.7L456.1,358.1L458.3,356.3L460.5,355.3L462.7,355.1L464.9,355.8L467.1,357.4L469.3,360.1L471.5,363.9L473.7,369.0L475.9,375.7L478.1,384.3L480.3,395.4L482.5,409.9L484.7,429.4L486.9,457.0L489.1,501.1L490.9,570.1L491.3,582.2L493.5,642.5L493.7,576.1L495.7,490.2L497.9,440.7L500.1,407.4L502.3,382.0L504.5,361.5L506.7,344.3L508.9,329.4L511.1,316.5L513.3,304.9L515.5,294.7L517.7,285.4L519.9,277.0L522.1,269.4L524.3,262.5L526.5,256.2L528.7,250.5L530.9,245.3L533.1,240.6L535.3,236.4L537.5,232.6L539.7,229.3L541.9,226.3L544.1,223.7L546.3,221.5L548.5,219.6L550.7,218.1L552.9,216.9L555.1,216.1L557.3,215.6L559.5,215.4L561.7,215.6L563.9,216.1L566.1,216.9L568.3,218.1L570.5,219.6L572.7,221.5L574.9,223.7L577.1,226.3L579.3,229.3L581.5,232.6L583.7,236.4L585.9,240.6L588.1,245.3L590.3,250.5L592.5,256.2L594.7,262.5L596.9,269.4L599.1,277.0L601.3,285.4L603.5,294.7L605.7,304.9L607.9,316.5L610.1,329.4L612.3,344.3L614.5,361.5L616.7,382.0L618.9,407.4L621.1,440.7L623.3,490.2L625.3,576.1L625.5,642.5L627.7,582.2L628.1,570.1L629.9,501.1L632.1,457.0L634.3,429.4L636.5,409.9L638.7,395.4L640.9,384.3L643.1,375.7L645.3,369.0L647.5,363.9L649.7,360.1L651.9,357.4L654.1,355.8L656.3,355.1L658.5,355.3L660.7,356.3L662.9,358.1L665.1,360.7L667.3,364.2L669.5,368.4L671.7,373.6L673.9,379.6L676.1,386.7L678.3,395.0L680.5,404.5L682.7,415.7L684.9,428.7L687.1,444.2L689.3,463.1L691.5,486.9L693.7,518.7L695.0,544.5L695.5,609.4L695.9,605.9L698.1,588.3L700.3,570.8L702.5,553.2L703.8,542.6L704.7,527.2L706.9,498.1L709.1,477.1L711.3,461.1L713.5,448.4L715.7,438.2L717.9,429.8L720.1,423.0L722.3,417.4L724.5,412.8L726.7,409.2L728.9,406.5L731.1,404.4L733.3,403.1L735.5,402.4L737.7,402.3L739.9,402.8L742.1,403.9L744.3,405.5L746.5,407.7L748.7,410.4L750.9,413.6L753.1,417.5L755.3,421.9L757.5,427.0L759.7,432.7L761.9,439.2L764.1,446.5L766.3,454.7L768.5,464.0L770.7,474.6L772.9,486.7L775.1,500.7L777.3,517.2L779.5,537.3L781.7,562.8L783.9,597.4L786.1,652.1L788.3,721.3L790.5,677.8L791.8,651.7L792.7,627.9L794.9,587.2L797.1,560.0L799.3,539.9L801.5,524.1L803.7,511.2L805.9,500.6L808.1,491.6L810.3,483.9L812.5,477.3L814.7,471.6L816.9,466.7L819.1,462.4L821.3,458.8L823.5,455.6L825.7,452.9L827.9,450.7L830.1,448.8L832.3,447.2L834.5,446.0L836.7,445.1L838.9,444.4L841.1,444.0L843.3,443.9L845.5,443.9L847.7,444.2L849.9,444.6L852.1,445.3L854.3,446.1L856.5,447.1L858.7,448.3L860.9,449.6L863.1,451.0L865.3,452.6L867.5,454.4L869.7,456.2L871.9,458.2L874.1,460.2L876.3,462.4L878.5,464.7L880.7,467.1L882.9,469.6L885.1,472.2L887.3,474.9L889.5,477.6L891.7,480.4L893.9,483.3L896.1,486.3L898.3,489.3L900.5,492.4L902.7,495.6L904.9,498.8L907.1,502.1L909.3,505.4L911.5,508.8L913.7,512.2L915.9,515.7L918.1,519.2L920.3,522.8L922.5,526.4L924.7,530.0L926.9,533.8L929.1,537.6L931.3,541.4L933.5,545.4L935.7,549.5L937.9,553.6L940.1,558.0L942.3,562.5L944.5,567.3L946.7,572.4L948.9,577.8L951.1,583.8L953.3,590.4L955.5,598.0" stroke="#353535" stroke-width="3.4"/>
<path d="M163.5,604.1L165.7,597.0L167.9,590.4L170.1,584.1L172.3,578.1L174.5,572.5L176.7,567.1L178.9,561.9L181.1,557.0L183.3,552.2L185.5,547.7L187.7,543.3L189.9,539.1L192.1,535.0L194.3,531.0L196.5,527.2L198.7,523.4L200.9,519.8L203.1,516.2L205.3,512.7L207.5,509.3L209.7,505.9L211.9,502.5L214.1,499.1L216.3,495.7L218.5,492.5L220.7,489.4L222.9,486.4L225.1,483.5L227.3,480.9L229.5,478.4L231.7,476.1L233.9,473.8L236.1,471.5L238.3,469.3L240.5,467.2L242.7,465.3L244.9,463.5L247.1,461.9L249.3,460.5L251.5,459.3L253.7,458.2L255.9,457.1L258.1,456.1L260.3,455.1L262.5,454.2L264.7,453.4L266.9,452.7L269.1,452.2L271.3,451.9L273.5,451.8L275.7,452.0L277.9,452.4L280.1,453.1L282.3,454.0L284.5,455.2L286.7,456.6L288.9,458.1L291.1,459.8L293.3,461.6L295.5,463.5L297.7,466.0L299.9,469.3L302.1,473.5L304.3,478.7L306.5,484.7L308.7,491.7L310.9,499.7L313.1,508.8L315.3,519.1L317.5,530.6L319.7,545.6L321.9,564.6L324.1,590.2L326.3,628.0L328.5,697.4L329.8,766.0L330.7,741.3L332.2,698.0L332.9,669.5L335.1,610.5L337.3,574.3L339.5,548.3L341.7,527.9L343.9,511.3L346.1,497.3L348.3,485.4L350.5,475.0L352.7,465.9L354.9,457.9L357.1,450.9L359.3,444.6L361.5,439.2L363.7,434.4L365.9,430.3L368.1,426.8L370.3,423.8L372.5,421.5L374.7,419.7L376.9,418.4L379.1,417.7L381.3,417.6L383.5,418.1L385.7,419.1L387.9,420.8L390.1,423.2L392.3,426.4L394.5,430.4L396.7,435.3L398.9,441.3L401.1,448.5L403.3,457.2L405.5,467.8L407.7,480.7L409.9,496.9L412.1,517.9L414.3,546.5L415.4,565.7L416.5,575.0L418.7,593.6L420.9,612.2L423.1,630.7L424.4,564.9L425.3,548.0L427.5,515.8L429.7,492.1L431.9,473.5L434.1,458.4L436.3,445.8L438.5,435.3L440.7,426.3L442.9,418.7L445.1,412.3L447.3,406.9L449.5,402.5L451.7,399.0L453.9,396.4L456.1,394.5L458.3,393.6L460.5,393.4L462.7,394.1L464.9,395.8L467.1,398.3L469.3,402.0L471.5,406.8L473.7,412.9L475.9,420.7L478.1,430.3L480.3,442.5L482.5,458.0L484.7,478.3L486.9,506.4L489.1,550.0L490.2,584.6L491.3,606.4L493.5,649.9L494.8,585.2L495.7,554.5L497.9,504.6L500.1,472.2L502.3,448.3L504.5,429.6L506.7,414.3L508.9,401.6L511.1,391.0L513.3,382.0L515.5,374.4L517.7,368.1L519.9,362.9L522.1,358.7L524.3,355.4L526.5,353.2L528.7,351.8L530.9,351.5L533.1,352.1L535.3,353.7L537.5,356.5L539.7,360.6L541.9,366.1L544.1,373.4L546.3,382.9L548.5,395.2L550.7,411.4L552.9,433.6L555.1,466.3L557.3,523.6L558.2,565.0L559.5,635.0L561.0,570.3L561.7,532.9L563.9,462.2L566.1,421.0L568.3,391.6L570.5,368.6L572.7,349.8L574.9,333.8L577.1,320.0L579.3,307.9L581.5,297.2L583.7,287.5L585.9,278.9L588.1,271.1L590.3,264.1L592.5,257.7L594.7,251.9L596.9,246.7L599.1,241.9L601.3,237.7L603.5,233.9L605.7,230.5L607.9,227.5L610.1,225.0L612.3,222.7L614.5,220.8L616.7,219.3L618.9,218.1L621.1,217.2L623.3,216.7L625.5,216.5L627.7,216.5L629.9,216.9L632.1,217.6L634.3,218.6L636.5,219.9L638.7,221.5L640.9,223.5L643.1,225.7L645.3,228.3L647.5,231.2L649.7,234.5L651.9,238.1L654.1,242.1L656.3,246.5L658.5,251.3L660.7,256.5L662.9,262.2L665.1,268.4L667.3,275.1L669.5,282.4L671.7,290.4L673.9,299.1L676.1,308.7L678.3,319.2L680.5,330.9L682.7,344.1L684.9,358.9L687.1,376.1L689.3,396.4L691.5,421.4L693.7,453.8L695.9,501.2L697.0,536.9L697.2,608.4L698.1,595.5L700.3,563.2L702.1,537.3L702.5,523.6L704.7,476.7L706.9,447.8L709.1,427.5L711.3,412.2L713.5,400.4L715.7,391.1L717.9,383.6L720.1,377.6L722.3,372.9L724.5,369.3L726.7,366.5L728.9,364.5L731.1,363.3L733.3,362.8L735.5,362.8L737.7,363.5L739.9,364.7L742.1,366.4L744.3,368.7L746.5,371.5L748.7,374.8L750.9,378.7L753.1,383.1L755.3,388.1L757.5,393.7L759.7,400.0L761.9,407.0L764.1,414.7L766.3,423.4L768.5,433.1L770.7,444.0L772.9,456.4L775.1,470.6L777.3,487.3L779.5,507.3L781.7,532.4L783.9,565.9L785.2,593.3L785.7,661.6L786.1,657.8L788.3,638.9L790.5,620.0L792.7,601.1L793.4,595.4L794.9,567.7L797.1,539.6L799.3,519.1L801.5,503.2L803.7,490.4L805.9,479.8L808.1,471.0L810.3,463.5L812.5,457.1L814.7,451.7L816.9,447.0L819.1,443.0L821.3,439.6L823.5,436.7L825.7,434.2L827.9,432.2L830.1,430.5L832.3,429.2L834.5,428.2L836.7,428.2L838.9,428.4L841.1,428.9L843.3,429.6L845.5,430.5L847.7,431.5L849.9,432.5L852.1,433.6L854.3,434.7L856.5,436.0L858.7,437.3L860.9,438.7L863.1,440.1L865.3,441.7L867.5,443.3L869.7,445.0L871.9,446.9L874.1,449.0L876.3,451.2L878.5,453.6L880.7,456.0L882.9,458.6L885.1,461.2L887.3,464.0L889.5,466.7L891.7,469.6L893.9,472.6L896.1,475.9L898.3,479.2L900.5,482.8L902.7,486.4L904.9,490.1L907.1,493.8L909.3,497.6L911.5,501.3L913.7,505.1L915.9,508.8L918.1,512.7L920.3,516.6L922.5,520.6L924.7,524.6L926.9,528.8L929.1,533.2L931.3,537.7L933.5,542.3L935.7,547.2L937.9,552.3L940.1,557.6L942.3,563.1L944.5,568.9L946.7,575.0L948.9,581.4L951.1,588.2L953.3,595.4L955.5,603.0" stroke="#c4454b" stroke-width="4"/>
<rect x="157.7" y="598.3" width="11.6" height="11.6" fill="#e5404a"/>
<rect x="179.7" y="541.9" width="11.6" height="11.6" fill="#e5404a"/>
<rect x="201.7" y="503.5" width="11.6" height="11.6" fill="#e5404a"/>
<rect x="223.7" y="472.6" width="11.6" height="11.6" fill="#e5404a"/>
<rect x="245.7" y="453.5" width="11.6" height="11.6" fill="#e5404a"/>
<rect x="267.7" y="446.0" width="11.6" height="11.6" fill="#e5404a"/>
<rect x="289.7" y="457.7" width="11.6" height="11.6" fill="#e5404a"/>
<rect x="311.7" y="524.8" width="11.6" height="11.6" fill="#e5404a"/>
<rect x="333.7" y="542.5" width="11.6" height="11.6" fill="#e5404a"/>
<rect x="355.7" y="433.4" width="11.6" height="11.6" fill="#e5404a"/>
<rect x="377.7" y="412.3" width="11.6" height="11.6" fill="#e5404a"/>
<rect x="399.7" y="462.0" width="11.6" height="11.6" fill="#e5404a"/>
<rect x="421.7" y="510.0" width="11.6" height="11.6" fill="#e5404a"/>
<rect x="443.7" y="396.7" width="11.6" height="11.6" fill="#e5404a"/>
<rect x="465.7" y="401.0" width="11.6" height="11.6" fill="#e5404a"/>
<rect x="487.7" y="644.1" width="11.6" height="11.6" fill="#e5404a"/>
<rect x="509.7" y="368.6" width="11.6" height="11.6" fill="#e5404a"/>
<rect x="531.7" y="350.7" width="11.6" height="11.6" fill="#e5404a"/>
<rect x="553.7" y="629.2" width="11.6" height="11.6" fill="#e5404a"/>
<rect x="575.7" y="291.4" width="11.6" height="11.6" fill="#e5404a"/>
<rect x="597.7" y="228.1" width="11.6" height="11.6" fill="#e5404a"/>
<rect x="619.7" y="210.7" width="11.6" height="11.6" fill="#e5404a"/>
<rect x="641.7" y="225.4" width="11.6" height="11.6" fill="#e5404a"/>
<rect x="663.7" y="276.6" width="11.6" height="11.6" fill="#e5404a"/>
<rect x="685.7" y="415.6" width="11.6" height="11.6" fill="#e5404a"/>
<rect x="707.7" y="394.6" width="11.6" height="11.6" fill="#e5404a"/>
<rect x="729.7" y="357.0" width="11.6" height="11.6" fill="#e5404a"/>
<rect x="751.7" y="387.9" width="11.6" height="11.6" fill="#e5404a"/>
<rect x="773.7" y="501.5" width="11.6" height="11.6" fill="#e5404a"/>
<rect x="795.7" y="497.4" width="11.6" height="11.6" fill="#e5404a"/>
<rect x="817.7" y="430.9" width="11.6" height="11.6" fill="#e5404a"/>
<rect x="839.7" y="424.7" width="11.6" height="11.6" fill="#e5404a"/>
<rect x="861.7" y="437.5" width="11.6" height="11.6" fill="#e5404a"/>
<rect x="883.7" y="460.9" width="11.6" height="11.6" fill="#e5404a"/>
<rect x="905.7" y="495.5" width="11.6" height="11.6" fill="#e5404a"/>
<rect x="927.7" y="536.5" width="11.6" height="11.6" fill="#e5404a"/>
<rect x="949.7" y="597.2" width="11.6" height="11.6" fill="#e5404a"/>
<path d="M163.5,534.9L165.7,531.9L167.9,528.9L170.1,525.9L172.3,522.9L174.5,519.9L176.7,516.9L178.9,513.9L181.1,510.9L183.3,508.0L185.5,505.1L187.7,502.1L189.9,499.1L192.1,496.1L194.3,493.1L196.5,490.1L198.7,487.2L200.9,484.3L203.1,481.5L205.3,478.9L207.5,476.3L209.7,473.8L211.9,471.2L214.1,468.7L216.3,466.2L218.5,463.9L220.7,461.6L222.9,459.4L225.1,457.4L227.3,455.6L229.5,453.9L231.7,452.4L233.9,450.7L236.1,449.1L238.3,447.6L240.5,446.1L242.7,444.8L244.9,443.8L247.1,442.9L249.3,442.4L251.5,442.2L253.7,442.2L255.9,442.2L258.1,442.2L260.3,442.2L262.5,442.2L264.7,442.2L266.9,442.2L269.1,442.2L271.3,442.2L273.5,442.2L275.7,442.7L277.9,444.1L280.1,446.2L282.3,449.0L284.5,452.5L286.7,456.5L288.9,461.0L291.1,465.9L293.3,471.1L295.5,476.3L297.7,481.7L299.9,487.6L302.1,494.2L304.3,501.7L306.5,510.5L308.7,521.3L310.9,534.7L313.1,552.3L315.3,576.8L317.5,614.8L319.7,752.1L321.2,709.0L321.9,683.2L324.1,624.2L326.3,584.1L328.5,553.0L330.7,527.0L332.9,511.1L335.1,497.6L337.3,486.1L339.5,476.1L341.7,467.3L343.9,459.6L346.1,452.7L348.3,446.7L350.5,441.4L352.7,436.8L354.9,432.8L357.1,429.3L359.3,426.4L361.5,424.1L363.7,422.2L365.9,420.9L368.1,420.1L370.3,419.9L372.5,420.2L374.7,421.0L376.9,422.4L379.1,424.4L381.3,427.1L383.5,430.5L385.7,434.7L387.9,439.8L390.1,445.9L392.3,453.1L394.5,461.8L396.7,472.1L398.9,484.7L401.1,500.1L403.3,519.7L405.5,545.8L407.7,583.8L409.0,618.3L409.9,630.1L412.1,659.7L414.3,689.3L414.5,625.0L416.5,573.0L418.7,537.0L420.9,511.4L423.1,491.8L425.3,476.0L427.5,463.1L429.7,452.3L431.9,443.2L434.1,435.5L436.3,429.1L438.5,423.7L440.7,419.3L442.9,415.8L445.1,413.2L447.3,411.5L449.5,410.5L451.7,410.4L453.9,411.0L456.1,412.6L458.3,415.0L460.5,418.4L462.7,422.9L464.9,428.7L467.1,435.7L469.3,444.5L471.5,455.3L473.7,468.7L475.9,485.7L478.1,508.1L480.3,539.3L482.1,576.9L482.5,581.2L484.7,602.7L486.9,624.2L488.7,641.4L488.9,574.3L489.1,568.5L491.3,524.7L493.5,495.3L495.7,473.5L497.9,456.3L500.1,442.4L502.3,431.0L504.5,421.5L506.7,413.6L508.9,407.1L511.1,401.9L513.3,397.7L515.5,394.6L517.7,392.4L519.9,391.3L522.1,391.0L524.3,391.8L526.5,393.6L528.7,396.5L530.9,400.5L533.1,405.9L535.3,412.8L537.5,421.6L539.7,432.6L541.9,446.5L544.1,464.6L546.3,489.0L548.5,524.8L550.3,571.1L550.7,578.5L552.9,615.1L554.2,637.1L555.1,589.6L555.5,565.8L557.3,518.4L559.5,480.7L561.7,454.1L563.9,433.7L566.1,417.4L568.3,404.0L570.5,392.9L572.7,383.5L574.9,375.7L577.1,369.2L579.3,363.8L581.5,359.5L583.7,356.2L585.9,353.9L588.1,352.6L590.3,352.2L592.5,352.7L594.7,354.4L596.9,357.1L599.1,361.0L601.3,366.4L603.5,373.4L605.7,382.4L607.9,394.0L610.1,409.0L612.3,429.3L614.5,458.2L616.7,505.0L617.8,544.4L618.9,569.0L620.7,608.4L621.1,580.9L621.8,539.7L623.3,484.8L625.5,437.7L627.7,405.7L629.9,381.2L632.1,361.5L634.3,344.9L636.5,330.7L638.7,318.3L640.9,307.3L643.1,297.5L645.3,288.7L647.5,280.8L649.7,273.6L651.9,267.1L654.1,261.2L656.3,255.9L658.5,251.1L660.7,246.7L662.9,242.7L665.1,239.2L667.3,236.0L669.5,233.2L671.7,230.8L673.9,228.6L676.1,226.8L678.3,225.3L680.5,224.0L682.7,223.0L684.9,222.4L687.1,221.9L689.3,221.8L691.5,221.9L693.7,222.2L695.9,222.8L698.1,223.6L700.3,224.7L702.5,226.1L704.7,227.6L706.9,229.4L709.1,231.5L711.3,233.8L713.5,236.3L715.7,239.1L717.9,242.2L720.1,245.5L722.3,249.1L724.5,252.9L726.7,257.1L728.9,261.5L731.1,266.2L733.3,271.3L735.5,276.7L737.7,282.4L739.9,288.6L742.1,295.2L744.3,302.2L746.5,309.7L748.7,317.7L750.9,326.4L753.1,335.8L755.3,346.0L757.5,357.1L759.7,369.4L761.9,383.0L764.1,398.5L766.3,416.2L768.5,437.2L770.7,462.9L772.9,496.7L775.1,546.9L775.3,553.6L777.3,584.6L779.5,619.0L781.7,553.7L783.9,509.7L786.1,481.8L788.3,461.8L790.5,446.5L792.7,434.4L794.9,424.6L797.1,416.5L799.3,409.8L801.5,404.1L803.7,399.4L805.9,395.5L808.1,392.3L810.3,389.6L812.5,387.5L814.7,385.8L816.9,384.5L819.1,383.6L821.3,383.0L823.5,382.8L825.7,382.8L827.9,383.2L830.1,383.7L832.3,384.6L834.5,385.6L836.7,386.3L838.9,387.2L841.1,388.3L843.3,389.6L845.5,391.1L847.7,392.6L849.9,394.4L852.1,396.4L854.3,398.6L856.5,401.0L858.7,403.6L860.9,406.2L863.1,409.0L865.3,411.8L867.5,414.5L869.7,417.4L871.9,420.4L874.1,423.5L876.3,426.8L878.5,430.1L880.7,433.7L882.9,437.3L885.1,441.0L887.3,444.8L889.5,448.6L891.7,452.6L893.9,456.8L896.1,461.2L898.3,465.7L900.5,470.4L902.7,475.2L904.9,480.0L907.1,484.7L909.3,489.4L910.2,491.2L911.5,493.9L913.7,498.4L915.9,502.9L918.1,507.4L920.3,512.0L922.5,516.6L924.7,521.2L926.9,526.0L929.1,530.9L931.3,536.0L932.6,539.1L933.5,541.3L935.7,546.8L937.9,552.5L940.1,558.5L942.3,564.7L944.5,571.2L946.7,578.0L948.9,585.1L951.1,592.5L953.3,600.2L955.5,608.4" stroke="#2a60b4" stroke-width="4"/>
<path d="M163.5,527.3L170.7,539.4L156.3,539.4Z" fill="#2064d4"/>
<path d="M185.5,497.5L192.7,509.6L178.3,509.6Z" fill="#2064d4"/>
<path d="M207.5,468.7L214.7,480.9L200.3,480.9Z" fill="#2064d4"/>
<path d="M229.5,446.3L236.7,458.5L222.3,458.5Z" fill="#2064d4"/>
<path d="M251.5,434.6L258.7,446.8L244.3,446.8Z" fill="#2064d4"/>
<path d="M273.5,434.6L280.7,446.8L266.3,446.8Z" fill="#2064d4"/>
<path d="M295.5,468.7L302.7,480.9L288.3,480.9Z" fill="#2064d4"/>
<path d="M317.5,607.2L324.7,619.3L310.3,619.3Z" fill="#2064d4"/>
<path d="M339.5,468.5L346.7,480.7L332.3,480.7Z" fill="#2064d4"/>
<path d="M361.5,416.5L368.7,428.6L354.3,428.6Z" fill="#2064d4"/>
<path d="M383.5,422.9L390.7,435.1L376.3,435.1Z" fill="#2064d4"/>
<path d="M405.5,538.2L412.7,550.4L398.3,550.4Z" fill="#2064d4"/>
<path d="M427.5,455.5L434.7,467.7L420.3,467.7Z" fill="#2064d4"/>
<path d="M449.5,402.9L456.7,415.1L442.3,415.1Z" fill="#2064d4"/>
<path d="M471.5,447.7L478.7,459.8L464.3,459.8Z" fill="#2064d4"/>
<path d="M493.5,487.7L500.7,499.9L486.3,499.9Z" fill="#2064d4"/>
<path d="M515.5,387.0L522.7,399.1L508.3,399.1Z" fill="#2064d4"/>
<path d="M537.5,414.0L544.7,426.1L530.3,426.1Z" fill="#2064d4"/>
<path d="M559.5,473.1L566.7,485.3L552.3,485.3Z" fill="#2064d4"/>
<path d="M581.5,351.9L588.7,364.1L574.3,364.1Z" fill="#2064d4"/>
<path d="M603.5,365.8L610.7,377.9L596.3,377.9Z" fill="#2064d4"/>
<path d="M625.5,430.1L632.7,442.3L618.3,442.3Z" fill="#2064d4"/>
<path d="M647.5,273.2L654.7,285.4L640.3,285.4Z" fill="#2064d4"/>
<path d="M669.5,225.6L676.7,237.8L662.3,237.8Z" fill="#2064d4"/>
<path d="M691.5,214.3L698.7,226.4L684.3,226.4Z" fill="#2064d4"/>
<path d="M713.5,228.7L720.7,240.9L706.3,240.9Z" fill="#2064d4"/>
<path d="M735.5,269.1L742.7,281.2L728.3,281.2Z" fill="#2064d4"/>
<path d="M757.5,349.5L764.7,361.7L750.3,361.7Z" fill="#2064d4"/>
<path d="M779.5,611.4L786.7,623.6L772.3,623.6Z" fill="#2064d4"/>
<path d="M801.5,396.5L808.7,408.7L794.3,408.7Z" fill="#2064d4"/>
<path d="M823.5,375.2L830.7,387.4L816.3,387.4Z" fill="#2064d4"/>
<path d="M845.5,383.5L852.7,395.7L838.3,395.7Z" fill="#2064d4"/>
<path d="M867.5,406.9L874.7,419.1L860.3,419.1Z" fill="#2064d4"/>
<path d="M889.5,441.0L896.7,453.2L882.3,453.2Z" fill="#2064d4"/>
<path d="M911.5,486.3L918.7,498.5L904.3,498.5Z" fill="#2064d4"/>
<path d="M933.5,533.7L940.7,545.9L926.3,545.9Z" fill="#2064d4"/>
<path d="M955.5,600.8L962.7,612.9L948.3,612.9Z" fill="#2064d4"/>
<path d="M163.5,461.4L165.7,459.8L167.9,458.2L170.1,456.7L172.3,455.2L174.5,453.8L176.7,452.5L178.9,451.2L181.1,449.9L183.3,448.7L185.5,447.6L187.7,446.4L189.9,445.3L192.1,444.2L194.3,443.1L196.5,442.1L198.7,441.1L200.9,440.2L203.1,439.4L205.3,438.6L207.5,438.0L209.7,437.4L211.9,436.8L214.1,436.2L216.3,435.6L218.5,435.1L220.7,434.6L222.9,434.3L225.1,434.0L227.3,433.8L229.5,433.7L231.7,434.0L233.9,434.7L236.1,435.8L238.3,437.3L240.5,439.2L242.7,441.2L244.9,443.5L247.1,445.9L249.3,448.3L251.5,450.8L253.7,453.3L255.9,456.0L258.1,459.0L260.3,462.3L262.5,465.9L264.7,470.0L266.9,474.6L269.1,479.7L271.3,485.6L273.5,492.3L275.7,502.2L277.9,513.7L280.1,527.5L282.3,544.3L284.5,565.5L286.7,594.1L287.8,612.9L288.9,622.1L291.1,640.4L293.3,658.8L295.5,677.1L295.9,680.8L297.0,614.6L297.7,601.8L299.9,568.5L302.1,544.0L304.3,524.7L306.5,508.7L308.7,495.2L310.9,483.6L313.1,473.4L315.3,464.5L317.5,456.5L319.7,449.4L321.9,443.1L324.1,437.5L326.3,432.4L328.5,428.0L330.7,424.1L332.9,420.6L335.1,417.7L337.3,415.2L339.5,413.1L341.7,411.5L343.9,410.4L346.1,409.6L348.3,409.3L350.5,409.5L352.7,410.1L354.9,411.2L357.1,412.8L359.3,415.0L361.5,417.7L363.7,421.0L365.9,425.0L368.1,429.7L370.3,435.3L372.5,441.8L374.7,449.5L376.9,458.5L379.1,469.1L381.3,481.9L383.5,497.4L385.7,516.9L387.9,542.5L390.1,579.1L390.5,588.7L392.3,608.5L394.5,633.3L396.3,653.1L396.7,640.3L398.5,589.2L398.9,579.4L401.1,542.1L403.3,516.0L405.5,496.1L407.7,480.2L409.9,467.2L412.1,456.4L414.3,447.3L416.5,439.6L418.7,433.1L420.9,427.8L423.1,423.3L425.3,419.8L427.5,417.1L429.7,415.2L431.9,414.0L434.1,413.7L436.3,414.1L438.5,415.2L440.7,417.2L442.9,420.1L445.1,423.9L447.3,428.7L449.5,434.7L451.7,442.0L453.9,450.9L456.1,461.7L458.3,474.9L460.5,491.5L462.7,512.9L464.9,542.1L465.3,549.4L467.1,568.4L469.3,592.1L471.5,615.8L473.7,581.1L475.7,549.8L475.9,545.9L478.1,514.6L480.3,491.8L482.5,474.1L484.7,460.0L486.9,448.5L489.1,439.0L491.3,431.1L493.5,424.7L495.7,419.5L497.9,415.5L500.1,412.5L502.3,410.4L504.5,409.4L506.7,409.3L508.9,410.1L511.1,411.9L513.3,414.8L515.5,418.8L517.7,424.0L519.9,430.6L522.1,438.9L524.3,449.1L526.5,461.9L528.7,478.1L530.9,499.2L533.1,528.2L535.3,573.1L537.5,595.1L539.7,617.2L541.9,639.3L542.1,571.4L544.1,529.1L546.3,497.8L548.5,475.0L550.7,457.3L552.9,443.1L555.1,431.5L557.3,422.0L559.5,414.1L561.7,407.7L563.9,402.6L566.1,398.6L568.3,395.7L570.5,393.7L572.7,392.8L574.9,392.9L577.1,393.9L579.3,396.0L581.5,399.3L583.7,403.7L585.9,409.5L588.1,416.8L590.3,426.1L592.5,437.7L594.7,452.4L596.9,471.4L599.1,497.4L601.3,535.9L603.5,559.5L605.7,583.1L607.5,602.0L607.9,585.3L609.2,535.4L610.1,516.3L612.3,481.0L614.5,455.7L616.7,436.2L618.9,420.5L621.1,407.6L623.3,396.8L625.5,387.7L627.7,380.1L629.9,373.8L632.1,368.5L634.3,364.3L636.5,361.0L638.7,358.7L640.9,357.1L643.1,356.5L645.3,356.8L647.5,357.9L649.7,360.0L651.9,363.2L654.1,367.4L656.3,373.0L658.5,380.1L660.7,389.1L662.9,400.4L665.1,414.8L667.3,433.7L669.5,459.9L670.8,481.4L671.7,500.0L673.9,546.6L676.1,521.1L678.3,495.6L679.8,477.8L680.5,464.3L682.7,429.0L684.9,403.0L687.1,382.3L689.3,365.1L691.5,350.4L693.7,337.7L695.9,326.5L698.1,316.5L700.3,307.6L702.5,299.5L704.7,292.2L706.9,285.6L709.1,279.5L711.3,274.0L713.5,269.0L715.7,264.4L717.9,260.2L720.1,256.4L722.3,253.0L724.5,249.8L726.7,247.0L728.9,244.5L731.1,242.2L733.3,240.2L735.5,238.5L737.7,237.0L739.9,235.7L742.1,234.7L744.3,233.8L746.5,233.2L748.7,232.7L750.9,232.5L753.1,232.4L755.3,232.5L757.5,232.8L759.7,233.3L761.9,233.9L764.1,234.7L766.3,235.7L768.5,236.8L770.7,238.0L772.9,239.5L775.1,241.0L777.3,242.7L779.5,244.6L781.7,246.6L783.9,248.7L786.1,251.0L788.3,253.4L790.5,256.0L792.7,258.7L794.9,261.5L797.1,264.5L799.3,267.6L801.5,270.8L803.7,274.2L805.9,277.7L808.1,281.4L810.3,285.2L812.5,289.1L814.7,293.2L816.9,297.4L819.1,301.8L821.3,306.3L823.5,311.0L825.7,315.9L827.9,320.9L830.1,326.0L832.3,331.4L834.5,336.9L836.7,340.5L838.9,344.3L841.1,348.3L843.3,352.6L845.5,357.0L847.7,361.5L849.9,366.5L852.1,372.1L854.3,378.1L856.5,384.7L858.7,391.6L860.9,398.8L863.1,406.2L865.3,413.7L867.5,420.9L869.7,428.2L871.9,436.1L874.1,444.5L876.3,453.4L878.5,462.7L880.7,472.3L882.9,482.1L885.1,491.8L887.3,501.0L889.5,509.3L891.7,517.3L893.9,525.9L896.1,534.9L898.3,544.2L900.5,553.4L902.7,562.1L904.9,569.6L907.1,575.3L909.3,578.3L910.2,578.5L911.5,578.3L913.7,577.1L915.9,575.1L918.1,572.4L920.3,569.3L922.5,566.1L924.7,562.9L926.9,559.9L929.1,557.3L931.3,555.1L932.6,554.1L933.5,553.4L935.7,552.0L937.9,550.6L940.1,549.2L942.3,548.0L944.5,546.8L946.7,545.7L948.9,544.8L951.1,543.9L953.3,543.0L955.5,542.3" stroke="#3a9060" stroke-width="4"/>
<circle cx="163.5" cy="461.4" r="6.3" fill="#2fa05e"/>
<circle cx="185.5" cy="447.6" r="6.3" fill="#2fa05e"/>
<circle cx="207.5" cy="438.0" r="6.3" fill="#2fa05e"/>
<circle cx="229.5" cy="433.7" r="6.3" fill="#2fa05e"/>
<circle cx="251.5" cy="450.8" r="6.3" fill="#2fa05e"/>
<circle cx="273.5" cy="492.3" r="6.3" fill="#2fa05e"/>
<circle cx="295.5" cy="677.1" r="6.3" fill="#2fa05e"/>
<circle cx="317.5" cy="456.5" r="6.3" fill="#2fa05e"/>
<circle cx="339.5" cy="413.1" r="6.3" fill="#2fa05e"/>
<circle cx="361.5" cy="417.7" r="6.3" fill="#2fa05e"/>
<circle cx="383.5" cy="497.4" r="6.3" fill="#2fa05e"/>
<circle cx="405.5" cy="496.1" r="6.3" fill="#2fa05e"/>
<circle cx="427.5" cy="417.1" r="6.3" fill="#2fa05e"/>
<circle cx="449.5" cy="434.7" r="6.3" fill="#2fa05e"/>
<circle cx="471.5" cy="615.8" r="6.3" fill="#2fa05e"/>
<circle cx="493.5" cy="424.7" r="6.3" fill="#2fa05e"/>
<circle cx="515.5" cy="418.8" r="6.3" fill="#2fa05e"/>
<circle cx="537.5" cy="595.1" r="6.3" fill="#2fa05e"/>
<circle cx="559.5" cy="414.1" r="6.3" fill="#2fa05e"/>
<circle cx="581.5" cy="399.3" r="6.3" fill="#2fa05e"/>
<circle cx="603.5" cy="559.5" r="6.3" fill="#2fa05e"/>
<circle cx="625.5" cy="387.7" r="6.3" fill="#2fa05e"/>
<circle cx="647.5" cy="357.9" r="6.3" fill="#2fa05e"/>
<circle cx="669.5" cy="459.9" r="6.3" fill="#2fa05e"/>
<circle cx="691.5" cy="350.4" r="6.3" fill="#2fa05e"/>
<circle cx="713.5" cy="269.0" r="6.3" fill="#2fa05e"/>
<circle cx="735.5" cy="238.5" r="6.3" fill="#2fa05e"/>
<circle cx="757.5" cy="232.8" r="6.3" fill="#2fa05e"/>
<circle cx="779.5" cy="244.6" r="6.3" fill="#2fa05e"/>
<circle cx="801.5" cy="270.8" r="6.3" fill="#2fa05e"/>
<circle cx="823.5" cy="311.0" r="6.3" fill="#2fa05e"/>
<circle cx="845.5" cy="357.0" r="6.3" fill="#2fa05e"/>
<circle cx="867.5" cy="420.9" r="6.3" fill="#2fa05e"/>
<circle cx="889.5" cy="509.3" r="6.3" fill="#2fa05e"/>
<circle cx="911.5" cy="578.3" r="6.3" fill="#2fa05e"/>
<circle cx="933.5" cy="553.4" r="6.3" fill="#2fa05e"/>
<circle cx="955.5" cy="542.3" r="6.3" fill="#2fa05e"/>
<path d="M163.5,528.5L165.7,532.0L167.9,535.7L170.1,539.3L172.3,543.1L174.5,546.9L176.7,550.8L178.9,554.7L181.1,558.7L183.3,562.8L185.5,566.8L187.7,571.3L189.9,576.3L192.1,581.8L194.3,587.6L196.5,593.5L198.7,599.3L200.9,604.4L203.1,608.7L205.3,611.6L207.5,612.6L209.7,609.0L211.9,599.6L214.1,586.8L216.3,572.5L218.5,558.2L220.7,544.5L222.9,532.1L225.1,520.9L227.3,511.2L229.5,502.9L231.7,495.4L233.9,487.9L236.1,480.6L238.3,473.6L240.5,466.9L242.7,460.6L244.9,454.6L247.1,449.0L249.3,443.8L251.5,439.0L253.7,434.5L255.9,430.0L258.1,425.7L260.3,421.5L262.5,417.6L264.7,413.8L266.9,410.4L269.1,407.2L271.3,404.3L273.5,401.8L275.7,399.3L277.9,396.7L280.1,394.2L282.3,391.8L284.5,389.6L286.7,387.6L288.9,386.0L291.1,384.7L293.3,383.9L295.5,383.7L297.7,383.7L299.9,384.0L302.1,384.3L304.3,384.8L306.5,385.5L308.7,386.2L310.9,387.0L313.1,388.0L315.3,389.0L317.5,390.0L319.7,391.5L321.9,393.5L324.1,396.1L326.3,399.3L328.5,403.1L330.7,407.5L332.9,412.6L335.1,418.2L337.3,424.5L339.5,431.6L341.7,440.9L343.9,453.9L346.1,470.4L348.3,490.1L349.2,498.7L350.5,514.4L352.7,554.6L354.9,618.4L357.1,702.6L358.0,718.1L359.3,709.6L361.5,704.4L363.7,723.2L364.1,733.5L365.9,767.0L366.1,771.2L368.1,660.5L370.3,575.3L372.5,536.8L374.7,510.1L376.9,490.0L379.1,474.0L381.3,460.9L383.5,450.0L385.7,440.8L387.9,433.0L390.1,426.4L392.3,420.9L394.5,416.3L396.7,412.6L398.9,409.6L401.1,407.4L403.3,406.0L405.5,405.2L407.7,405.1L409.9,405.7L412.1,407.0L414.3,409.1L416.5,411.9L418.7,415.6L420.9,420.2L423.1,425.8L425.3,432.6L427.5,440.7L429.7,450.4L431.9,462.1L434.1,476.4L436.3,494.3L438.5,517.4L440.7,549.3L442.9,599.6L443.6,622.5L445.1,665.0L446.0,689.3L447.3,649.9L448.4,617.1L449.5,583.5L451.7,540.0L453.9,511.2L456.1,489.9L458.3,473.4L460.5,460.2L462.7,449.4L464.9,440.5L467.1,433.2L469.3,427.3L471.5,422.6L473.7,419.0L475.9,416.5L478.1,414.9L480.3,414.2L482.5,414.4L484.7,415.7L486.9,417.8L489.1,421.0L491.3,425.3L493.5,430.9L495.7,437.8L497.9,446.4L500.1,456.9L502.3,469.9L504.5,486.2L506.7,507.3L508.9,536.1L511.1,579.9L511.3,585.7L513.3,618.6L515.5,655.2L517.7,593.3L517.9,587.1L519.9,543.7L522.1,512.1L524.3,489.3L526.5,471.8L528.7,457.9L530.9,446.7L533.1,437.6L535.3,430.1L537.5,424.2L539.7,419.5L541.9,416.0L544.1,413.7L546.3,412.3L548.5,412.0L550.7,412.8L552.9,414.6L555.1,417.5L557.3,421.5L559.5,426.9L561.7,433.8L563.9,442.3L566.1,453.0L568.3,466.4L570.5,483.4L572.7,505.8L574.9,537.1L575.6,549.4L577.1,570.8L579.3,601.4L580.2,613.7L581.5,594.1L583.7,561.3L584.6,548.2L585.9,524.6L588.1,495.5L590.3,474.0L592.5,457.3L594.7,443.8L596.9,432.8L599.1,423.8L601.3,416.4L603.5,410.5L605.7,405.7L607.9,402.1L610.1,399.6L612.3,398.0L614.5,397.5L616.7,397.9L618.9,399.3L621.1,401.7L623.3,405.3L625.5,410.1L627.7,416.2L629.9,423.9L632.1,433.6L634.3,445.6L636.5,460.7L638.7,480.4L640.9,507.1L643.1,547.1L644.2,577.2L645.3,600.4L647.5,646.7L649.7,577.4L651.9,522.1L654.1,487.8L656.3,463.1L658.5,443.9L660.7,428.5L662.9,415.8L665.1,405.2L667.3,396.2L669.5,388.7L671.7,382.3L673.9,377.0L676.1,372.7L678.3,369.3L680.5,366.7L682.7,364.9L684.9,363.9L687.1,363.6L689.3,364.2L691.5,365.5L693.7,367.7L695.9,370.9L698.1,375.0L700.3,380.2L702.5,386.7L704.7,394.8L706.9,404.8L709.1,417.1L711.3,432.7L713.5,453.2L715.7,481.5L717.9,525.5L718.1,531.5L720.1,570.6L721.4,596.7L722.3,576.9L724.3,532.4L724.5,525.6L726.7,475.8L728.9,442.9L731.1,418.2L733.3,398.5L735.5,382.1L737.7,368.1L739.9,355.9L742.1,345.1L744.3,335.5L746.5,326.9L748.7,319.1L750.9,312.0L753.1,305.6L755.3,299.7L757.5,294.3L759.7,289.4L761.9,284.9L764.1,280.7L766.3,276.9L768.5,273.4L770.7,270.3L772.9,267.4L775.1,264.7L777.3,262.3L779.5,260.1L781.7,258.2L783.9,256.4L786.1,254.9L788.3,253.5L790.5,252.3L792.7,251.3L794.9,250.5L797.1,249.8L799.3,249.2L801.5,248.8L803.7,248.6L805.9,248.4L808.1,248.4L810.3,248.5L812.5,248.8L814.7,249.1L816.9,249.6L819.1,250.1L821.3,250.8L823.5,251.5L825.7,252.4L827.9,253.4L830.1,254.4L832.3,255.5L834.5,256.7L836.7,257.9L838.9,259.1L841.1,260.5L843.3,261.8L845.5,263.3L847.7,264.8L849.9,266.3L852.1,267.9L854.3,269.5L856.5,271.2L858.7,273.0L860.9,274.7L863.1,276.6L865.3,278.4L867.5,280.4L869.7,282.3L871.9,284.4L874.1,286.5L876.3,288.7L878.5,290.9L880.7,293.2L882.9,295.5L885.1,297.9L887.3,300.3L889.5,302.7L891.7,305.2L893.9,307.7L896.1,310.3L898.3,312.9L900.5,315.6L902.7,318.4L904.9,321.1L907.1,323.9L909.3,326.6L911.5,329.3L913.7,332.0L915.9,334.8L918.1,337.5L920.3,340.3L922.5,343.1L924.7,345.9L926.9,348.7L929.1,351.5L931.3,354.3L933.5,357.0L935.7,359.8L937.9,362.6L940.1,365.4L942.3,368.2L944.5,371.0L946.7,373.8L948.9,376.5L951.1,379.3L953.3,382.0L955.5,384.7" stroke="#9d74cb" stroke-width="4"/>
<path d="M163.5,520.3L170.9,528.5L163.5,536.7L156.1,528.5Z" fill="#a87ade"/>
<path d="M185.5,558.6L192.9,566.8L185.5,575.0L178.1,566.8Z" fill="#a87ade"/>
<path d="M207.5,604.4L214.9,612.6L207.5,620.8L200.1,612.6Z" fill="#a87ade"/>
<path d="M229.5,494.7L236.9,502.9L229.5,511.1L222.1,502.9Z" fill="#a87ade"/>
<path d="M251.5,430.8L258.9,439.0L251.5,447.2L244.1,439.0Z" fill="#a87ade"/>
<path d="M273.5,393.6L280.9,401.8L273.5,410.0L266.1,401.8Z" fill="#a87ade"/>
<path d="M295.5,375.5L302.9,383.7L295.5,391.9L288.1,383.7Z" fill="#a87ade"/>
<path d="M317.5,381.8L324.9,390.0L317.5,398.2L310.1,390.0Z" fill="#a87ade"/>
<path d="M339.5,423.4L346.9,431.6L339.5,439.8L332.1,431.6Z" fill="#a87ade"/>
<path d="M361.5,696.2L368.9,704.4L361.5,712.6L354.1,704.4Z" fill="#a87ade"/>
<path d="M383.5,441.8L390.9,450.0L383.5,458.2L376.1,450.0Z" fill="#a87ade"/>
<path d="M405.5,397.0L412.9,405.2L405.5,413.4L398.1,405.2Z" fill="#a87ade"/>
<path d="M427.5,432.5L434.9,440.7L427.5,448.9L420.1,440.7Z" fill="#a87ade"/>
<path d="M449.5,575.3L456.9,583.5L449.5,591.7L442.1,583.5Z" fill="#a87ade"/>
<path d="M471.5,414.4L478.9,422.6L471.5,430.8L464.1,422.6Z" fill="#a87ade"/>
<path d="M493.5,422.7L500.9,430.9L493.5,439.1L486.1,430.9Z" fill="#a87ade"/>
<path d="M515.5,647.0L522.9,655.2L515.5,663.4L508.1,655.2Z" fill="#a87ade"/>
<path d="M537.5,416.0L544.9,424.2L537.5,432.4L530.1,424.2Z" fill="#a87ade"/>
<path d="M559.5,418.7L566.9,426.9L559.5,435.1L552.1,426.9Z" fill="#a87ade"/>
<path d="M581.5,585.9L588.9,594.1L581.5,602.3L574.1,594.1Z" fill="#a87ade"/>
<path d="M603.5,402.3L610.9,410.5L603.5,418.7L596.1,410.5Z" fill="#a87ade"/>
<path d="M625.5,401.9L632.9,410.1L625.5,418.3L618.1,410.1Z" fill="#a87ade"/>
<path d="M647.5,638.5L654.9,646.7L647.5,654.9L640.1,646.7Z" fill="#a87ade"/>
<path d="M669.5,380.5L676.9,388.7L669.5,396.9L662.1,388.7Z" fill="#a87ade"/>
<path d="M691.5,357.3L698.9,365.5L691.5,373.7L684.1,365.5Z" fill="#a87ade"/>
<path d="M713.5,445.0L720.9,453.2L713.5,461.4L706.1,453.2Z" fill="#a87ade"/>
<path d="M735.5,373.9L742.9,382.1L735.5,390.3L728.1,382.1Z" fill="#a87ade"/>
<path d="M757.5,286.1L764.9,294.3L757.5,302.5L750.1,294.3Z" fill="#a87ade"/>
<path d="M779.5,251.9L786.9,260.1L779.5,268.3L772.1,260.1Z" fill="#a87ade"/>
<path d="M801.5,240.6L808.9,248.8L801.5,257.0L794.1,248.8Z" fill="#a87ade"/>
<path d="M823.5,243.3L830.9,251.5L823.5,259.7L816.1,251.5Z" fill="#a87ade"/>
<path d="M845.5,255.1L852.9,263.3L845.5,271.5L838.1,263.3Z" fill="#a87ade"/>
<path d="M867.5,272.2L874.9,280.4L867.5,288.6L860.1,280.4Z" fill="#a87ade"/>
<path d="M889.5,294.5L896.9,302.7L889.5,310.9L882.1,302.7Z" fill="#a87ade"/>
<path d="M911.5,321.1L918.9,329.3L911.5,337.5L904.1,329.3Z" fill="#a87ade"/>
<path d="M933.5,348.8L940.9,357.0L933.5,365.2L926.1,357.0Z" fill="#a87ade"/>
<path d="M955.5,376.5L962.9,384.7L955.5,392.9L948.1,384.7Z" fill="#a87ade"/>
</g>
<clipPath id="clipb"><rect x="1134.0" y="184.5" width="793.0" height="641.1"/></clipPath>
<g clip-path="url(#clipb)" fill="none" stroke-linejoin="round" stroke-linecap="butt">
<path d="M1134.0,911.1L1136.2,910.1L1138.4,908.8L1140.6,907.1L1142.8,905.2L1145.0,902.9L1147.2,900.4L1149.4,897.8L1151.6,894.9L1153.8,892.0L1156.0,888.9L1158.2,885.8L1160.4,882.6L1162.6,879.4L1164.8,876.2L1167.0,873.0L1169.2,869.8L1171.4,866.7L1173.7,863.6L1175.9,860.6L1178.1,857.7L1180.3,854.5L1182.5,851.0L1184.7,847.3L1186.9,843.4L1189.1,839.5L1191.3,835.6L1193.5,831.7L1195.7,828.0L1197.9,824.4L1200.1,821.1L1202.3,817.9L1204.5,814.8L1206.7,811.6L1208.9,808.5L1211.1,805.4L1213.3,802.4L1215.5,799.6L1217.7,796.9L1219.9,794.4L1222.1,792.1L1224.3,790.0L1226.5,788.2L1228.7,786.5L1230.9,784.7L1233.1,782.9L1235.3,781.2L1237.5,779.6L1239.7,778.1L1241.9,776.9L1244.1,775.8L1246.3,775.0L1248.5,774.5L1250.7,774.3L1253.0,774.4L1255.2,774.7L1257.4,775.2L1259.6,775.9L1261.8,776.8L1264.0,777.8L1266.2,779.0L1268.4,780.3L1270.6,781.8L1272.8,784.1L1275.0,787.8L1277.2,792.9L1279.4,799.2L1281.6,806.6L1283.8,815.1L1286.0,824.5L1288.2,838.4L1290.4,860.0L1292.6,888.1L1294.8,911.1L1297.0,911.1L1299.2,911.1L1301.4,911.1L1303.6,902.9L1305.8,886.8L1308.0,870.7L1310.2,855.6L1312.4,841.7L1314.6,829.2L1316.8,818.2L1319.0,808.6L1321.2,800.4L1323.4,793.5L1325.6,787.4L1327.8,781.3L1330.0,775.5L1332.2,769.9L1334.5,764.7L1336.7,759.9L1338.9,755.5L1341.1,751.6L1343.3,748.3L1345.5,745.5L1347.7,742.9L1349.9,740.3L1352.1,737.9L1354.3,735.8L1356.5,734.1L1358.7,733.0L1360.9,732.6L1363.1,733.3L1365.3,735.0L1367.5,737.7L1369.7,741.3L1371.9,745.7L1374.1,750.7L1376.3,756.1L1378.5,763.5L1380.7,774.3L1382.9,788.4L1385.1,805.7L1387.3,825.6L1389.5,855.8L1391.7,901.1L1393.9,911.1L1396.1,906.1L1398.3,859.9L1400.5,819.4L1402.7,788.4L1404.9,765.9L1407.1,750.8L1409.3,739.7L1411.5,729.7L1413.8,721.0L1416.0,713.7L1418.2,707.9L1420.4,703.8L1422.6,700.6L1424.8,697.7L1427.0,695.3L1429.2,693.7L1431.4,693.1L1433.6,693.8L1435.8,695.8L1438.0,698.9L1440.2,703.0L1442.4,707.8L1444.6,713.1L1446.8,718.8L1449.0,725.5L1451.2,734.5L1453.4,745.7L1455.6,759.2L1457.8,775.1L1460.0,793.5L1462.2,821.1L1464.4,864.8L1466.6,911.1L1468.8,911.1L1471.0,825.9L1473.2,760.1L1475.4,718.8L1477.6,684.9L1479.8,655.6L1482.0,635.4L1484.2,621.8L1486.4,610.6L1488.6,601.2L1490.8,593.1L1493.1,586.0L1495.3,579.5L1497.5,573.6L1499.7,568.1L1501.9,562.7L1504.1,557.5L1506.3,552.7L1508.5,548.5L1510.7,545.1L1512.9,542.4L1515.1,540.3L1517.3,538.3L1519.5,536.6L1521.7,535.2L1523.9,534.2L1526.1,533.9L1528.3,534.2L1530.5,535.1L1532.7,536.3L1534.9,537.9L1537.1,539.8L1539.3,541.7L1541.5,543.5L1543.7,545.4L1545.9,547.5L1548.1,549.7L1550.3,552.2L1552.5,554.9L1554.7,557.9L1556.9,561.2L1559.1,564.9L1561.3,569.2L1563.5,574.5L1565.7,580.6L1567.9,587.6L1570.2,595.2L1572.4,603.4L1574.6,611.9L1576.8,621.4L1579.0,632.4L1581.2,644.9L1583.4,658.0L1585.6,671.1L1587.8,682.4L1590.0,691.5L1592.2,699.7L1594.4,709.0L1596.6,722.1L1598.8,749.9L1601.0,826.1L1603.2,911.1L1605.4,847.3L1607.6,766.6L1609.8,720.1L1612.0,697.4L1614.2,686.0L1616.4,676.6L1618.6,669.2L1620.8,664.3L1623.0,662.2L1625.2,662.5L1627.4,663.7L1629.6,665.7L1631.8,668.2L1634.0,671.0L1636.2,673.9L1638.4,677.0L1640.6,680.7L1642.8,685.0L1645.0,689.8L1647.2,695.2L1649.5,701.3L1651.7,708.8L1653.9,717.5L1656.1,727.2L1658.3,737.4L1660.5,747.4L1662.7,756.9L1664.9,766.1L1667.1,776.0L1669.3,787.7L1671.5,803.5L1673.7,828.0L1675.9,896.6L1678.1,911.1L1680.3,828.0L1682.5,782.9L1684.7,762.8L1686.9,747.9L1689.1,737.6L1691.3,731.8L1693.5,727.8L1695.7,724.3L1697.9,721.5L1700.1,719.2L1702.3,717.6L1704.5,716.8L1706.7,716.7L1708.9,717.2L1711.1,718.2L1713.3,719.8L1715.5,721.7L1717.7,724.0L1719.9,726.7L1722.1,729.5L1724.3,732.6L1726.5,736.5L1728.8,741.8L1731.0,748.5L1733.2,756.7L1735.4,766.5L1737.6,778.0L1739.8,791.4L1742.0,813.3L1744.2,850.1L1746.4,899.7L1748.6,911.1L1750.8,911.1L1753.0,898.3L1755.2,873.6L1757.4,852.4L1759.6,836.3L1761.8,822.7L1764.0,809.5L1766.2,797.5L1768.4,787.2L1770.6,778.7L1772.8,772.2L1775.0,766.9L1777.2,762.0L1779.4,757.5L1781.6,753.5L1783.8,750.0L1786.0,747.1L1788.2,744.7L1790.4,743.0L1792.6,741.9L1794.8,740.9L1797.0,740.0L1799.2,739.2L1801.4,738.4L1803.6,737.8L1805.8,737.2L1808.0,736.7L1810.3,736.3L1812.5,736.0L1814.7,735.9L1816.9,735.9L1819.1,736.1L1821.3,736.6L1823.5,737.3L1825.7,738.3L1827.9,739.4L1830.1,740.8L1832.3,742.3L1834.5,743.9L1836.7,745.7L1838.9,747.5L1841.1,749.3L1843.3,751.1L1845.5,753.0L1847.7,754.7L1849.9,756.6L1852.1,758.7L1854.3,760.9L1856.5,763.2L1858.7,765.7L1860.9,768.3L1863.1,771.0L1865.3,773.8L1867.5,776.6L1869.7,779.4L1871.9,782.2L1874.1,785.0L1876.3,787.8L1878.5,790.7L1880.7,793.7L1882.9,796.8L1885.1,800.0L1887.3,803.2L1889.6,806.5L1891.8,809.8L1894.0,813.1L1896.2,816.4L1898.4,819.6L1900.6,822.7L1902.8,825.7L1905.0,828.7L1907.2,831.8L1909.4,834.8L1911.6,837.8L1913.8,840.8L1916.0,843.8L1918.2,846.8L1920.4,849.6L1922.6,852.4L1924.8,855.1L1927.0,857.7" stroke="#141414" stroke-width="4" stroke-dasharray="11 9"/>
<path d="M1134.0,911.1L1136.2,904.3L1138.4,897.9L1140.6,891.9L1142.8,886.3L1145.0,880.9L1147.2,875.8L1149.4,871.0L1151.6,866.3L1153.8,861.9L1156.0,857.7L1158.2,853.6L1160.4,849.7L1162.6,846.0L1164.8,842.5L1167.0,839.0L1169.2,835.6L1171.4,832.3L1173.7,829.1L1175.9,825.8L1178.1,822.6L1180.3,819.4L1182.5,816.1L1184.7,812.9L1186.9,809.6L1189.1,806.4L1191.3,803.3L1193.5,800.3L1195.7,797.4L1197.9,794.5L1200.1,791.9L1202.3,789.3L1204.5,786.8L1206.7,784.2L1208.9,781.7L1211.1,779.3L1213.3,777.0L1215.5,774.9L1217.7,772.9L1219.9,771.1L1222.1,769.5L1224.3,768.1L1226.5,766.8L1228.7,765.4L1230.9,764.1L1233.1,762.8L1235.3,761.7L1237.5,760.8L1239.7,760.1L1241.9,759.6L1244.1,759.4L1246.3,759.5L1248.5,760.0L1250.7,760.8L1253.0,762.0L1255.2,763.3L1257.4,764.9L1259.6,766.6L1261.8,768.4L1264.0,770.3L1266.2,772.2L1268.4,774.0L1270.6,776.0L1272.8,778.1L1275.0,780.4L1277.2,783.0L1279.4,786.0L1281.6,789.3L1283.8,793.2L1286.0,797.8L1288.2,803.2L1290.4,812.9L1292.6,830.0L1294.8,854.2L1297.0,884.7L1299.2,911.1L1301.4,911.1L1303.6,911.1L1305.8,911.1L1308.0,894.0L1310.2,875.9L1312.4,859.5L1314.6,845.5L1316.8,834.2L1319.0,825.6L1321.2,819.0L1323.4,813.1L1325.6,807.7L1327.8,802.7L1330.0,797.9L1332.2,793.2L1334.5,788.4L1336.7,783.0L1338.9,777.3L1341.1,771.6L1343.3,766.1L1345.5,761.2L1347.7,756.8L1349.9,753.3L1352.1,750.7L1354.3,749.1L1356.5,748.7L1358.7,749.5L1360.9,751.4L1363.1,754.2L1365.3,757.8L1367.5,762.0L1369.7,766.9L1371.9,772.1L1374.1,777.5L1376.3,783.8L1378.5,791.6L1380.7,801.2L1382.9,812.5L1385.1,825.6L1387.3,845.4L1389.5,875.8L1391.7,911.1L1393.9,911.1L1396.1,911.1L1398.3,872.5L1400.5,836.2L1402.7,807.5L1404.9,786.4L1407.1,772.2L1409.3,761.5L1411.5,751.7L1413.8,743.3L1416.0,736.8L1418.2,732.6L1420.4,730.4L1422.6,728.8L1424.8,727.7L1427.0,727.3L1429.2,728.0L1431.4,729.9L1433.6,732.8L1435.8,736.6L1438.0,741.0L1440.2,745.8L1442.4,750.8L1444.6,756.3L1446.8,762.9L1449.0,770.7L1451.2,780.0L1453.4,791.1L1455.6,804.2L1457.8,825.4L1460.0,860.0L1462.2,904.6L1464.4,911.1L1466.6,896.0L1468.8,840.7L1471.0,798.0L1473.2,768.6L1475.4,750.8L1477.6,739.2L1479.8,729.2L1482.0,721.0L1484.2,714.5L1486.4,709.8L1488.6,706.5L1490.8,703.5L1493.1,700.7L1495.3,698.2L1497.5,696.1L1499.7,694.2L1501.9,692.8L1504.1,691.7L1506.3,691.1L1508.5,691.0L1510.7,693.6L1512.9,699.4L1515.1,707.7L1517.3,718.0L1519.5,729.4L1521.7,743.7L1523.9,763.6L1526.1,790.3L1528.3,832.4L1530.5,911.1L1532.7,884.1L1534.9,781.1L1537.1,720.2L1539.3,686.7L1541.5,666.6L1543.7,650.5L1545.9,637.0L1548.1,625.4L1550.3,615.2L1552.5,606.1L1554.7,597.7L1556.9,589.6L1559.1,582.0L1561.3,574.9L1563.5,568.4L1565.7,562.7L1567.9,557.6L1570.2,553.2L1572.4,549.6L1574.6,546.7L1576.8,544.3L1579.0,542.0L1581.2,539.8L1583.4,537.7L1585.6,535.8L1587.8,534.2L1590.0,532.9L1592.2,531.8L1594.4,531.1L1596.6,530.7L1598.8,530.8L1601.0,531.4L1603.2,532.5L1605.4,534.0L1607.6,536.0L1609.8,538.3L1612.0,540.8L1614.2,543.6L1616.4,546.6L1618.6,549.6L1620.8,552.7L1623.0,556.2L1625.2,560.3L1627.4,565.0L1629.6,570.3L1631.8,576.2L1634.0,582.8L1636.2,590.0L1638.4,597.9L1640.6,606.5L1642.8,615.8L1645.0,626.8L1647.2,640.0L1649.5,655.3L1651.7,672.7L1653.9,692.0L1656.1,713.4L1658.3,738.8L1660.5,772.2L1662.7,840.1L1664.9,911.1L1667.1,858.2L1669.3,786.8L1671.5,750.8L1673.7,732.3L1675.9,717.5L1678.1,705.6L1680.3,696.3L1682.5,689.3L1684.7,684.6L1686.9,681.1L1689.1,677.9L1691.3,675.0L1693.5,672.4L1695.7,670.2L1697.9,668.3L1700.1,666.7L1702.3,665.5L1704.5,664.7L1706.7,664.3L1708.9,664.4L1711.1,665.5L1713.3,667.5L1715.5,670.3L1717.7,673.8L1719.9,678.0L1722.1,682.7L1724.3,687.9L1726.5,693.4L1728.8,699.2L1731.0,705.0L1733.2,711.5L1735.4,719.2L1737.6,728.2L1739.8,738.2L1742.0,749.4L1744.2,761.5L1746.4,773.7L1748.6,786.9L1750.8,805.0L1753.0,843.2L1755.2,911.1L1757.4,908.6L1759.6,871.9L1761.8,847.0L1764.0,832.3L1766.2,820.3L1768.4,810.2L1770.6,801.2L1772.8,793.0L1775.0,785.0L1777.2,777.0L1779.4,769.2L1781.6,762.0L1783.8,755.4L1786.0,749.6L1788.2,744.7L1790.4,740.7L1792.6,737.7L1794.8,735.8L1797.0,734.6L1799.2,733.4L1801.4,732.4L1803.6,731.4L1805.8,730.6L1808.0,729.9L1810.3,729.3L1812.5,728.8L1814.7,728.5L1816.9,728.4L1819.1,728.4L1821.3,728.7L1823.5,729.3L1825.7,730.1L1827.9,731.1L1830.1,732.3L1832.3,733.6L1834.5,735.0L1836.7,736.4L1838.9,737.9L1841.1,739.3L1843.3,740.9L1845.5,742.8L1847.7,744.8L1849.9,747.0L1852.1,749.4L1854.3,751.9L1856.5,754.5L1858.7,757.2L1860.9,759.9L1863.1,762.6L1865.3,765.5L1867.5,768.6L1869.7,771.8L1871.9,775.2L1874.1,778.8L1876.3,782.3L1878.5,785.9L1880.7,789.4L1882.9,792.9L1885.1,796.2L1887.3,799.5L1889.6,802.9L1891.8,806.2L1894.0,809.6L1896.2,812.9L1898.4,816.2L1900.6,819.4L1902.8,822.6L1905.0,825.8L1907.2,829.0L1909.4,832.3L1911.6,835.6L1913.8,838.9L1916.0,842.1L1918.2,845.4L1920.4,848.6L1922.6,851.7L1924.8,854.7L1927.0,857.7" stroke="#b8262d" stroke-width="4" stroke-dasharray="11 9"/>
<circle cx="1178.1" cy="822.6" r="6.3" fill="#e8161e"/>
<circle cx="1200.1" cy="791.9" r="6.3" fill="#e8161e"/>
<circle cx="1222.1" cy="769.5" r="6.3" fill="#e8161e"/>
<circle cx="1244.1" cy="759.4" r="6.3" fill="#e8161e"/>
<circle cx="1266.2" cy="772.2" r="6.3" fill="#e8161e"/>
<circle cx="1288.2" cy="803.2" r="6.3" fill="#e8161e"/>
<circle cx="1332.2" cy="793.2" r="6.3" fill="#e8161e"/>
<circle cx="1354.3" cy="749.1" r="6.3" fill="#e8161e"/>
<circle cx="1376.3" cy="783.8" r="6.3" fill="#e8161e"/>
<circle cx="1420.4" cy="730.4" r="6.3" fill="#e8161e"/>
<circle cx="1442.4" cy="750.8" r="6.3" fill="#e8161e"/>
<circle cx="1486.4" cy="709.8" r="6.3" fill="#e8161e"/>
<circle cx="1508.5" cy="691.0" r="6.3" fill="#e8161e"/>
<circle cx="1552.5" cy="606.1" r="6.3" fill="#e8161e"/>
<circle cx="1574.6" cy="546.7" r="6.3" fill="#e8161e"/>
<circle cx="1596.6" cy="530.7" r="6.3" fill="#e8161e"/>
<circle cx="1618.6" cy="549.6" r="6.3" fill="#e8161e"/>
<circle cx="1640.6" cy="606.5" r="6.3" fill="#e8161e"/>
<circle cx="1662.7" cy="840.1" r="6.3" fill="#e8161e"/>
<circle cx="1684.7" cy="684.6" r="6.3" fill="#e8161e"/>
<circle cx="1706.7" cy="664.3" r="6.3" fill="#e8161e"/>
<circle cx="1728.8" cy="699.2" r="6.3" fill="#e8161e"/>
<circle cx="1750.8" cy="805.0" r="6.3" fill="#e8161e"/>
<circle cx="1772.8" cy="793.0" r="6.3" fill="#e8161e"/>
<circle cx="1794.8" cy="735.8" r="6.3" fill="#e8161e"/>
<circle cx="1816.9" cy="728.4" r="6.3" fill="#e8161e"/>
<circle cx="1838.9" cy="737.9" r="6.3" fill="#e8161e"/>
<circle cx="1860.9" cy="759.9" r="6.3" fill="#e8161e"/>
<circle cx="1882.9" cy="792.9" r="6.3" fill="#e8161e"/>
<circle cx="1905.0" cy="825.8" r="6.3" fill="#e8161e"/>
<path d="M1134.0,868.3L1136.2,862.3L1138.4,856.7L1140.6,851.3L1142.8,846.3L1145.0,841.6L1147.2,837.1L1149.4,832.8L1151.6,828.7L1153.8,824.7L1156.0,821.0L1158.2,817.4L1160.4,813.9L1162.6,810.6L1164.8,807.4L1167.0,804.2L1169.2,801.3L1171.4,798.4L1173.7,795.6L1175.9,792.9L1178.1,790.3L1180.3,787.8L1182.5,785.3L1184.7,782.9L1186.9,780.6L1189.1,778.4L1191.3,776.2L1193.5,774.1L1195.7,772.1L1197.9,770.1L1200.1,768.3L1202.3,766.4L1204.5,764.3L1206.7,762.2L1208.9,760.1L1211.1,758.1L1213.3,756.4L1215.5,754.9L1217.7,753.8L1219.9,753.1L1222.1,752.9L1224.3,753.0L1226.5,753.1L1228.7,753.2L1230.9,753.3L1233.1,753.5L1235.3,753.8L1237.5,754.0L1239.7,754.3L1241.9,754.7L1244.1,755.0L1246.3,755.5L1248.5,756.2L1250.7,757.3L1253.0,758.7L1255.2,760.3L1257.4,762.3L1259.6,764.5L1261.8,767.0L1264.0,769.8L1266.2,773.0L1268.4,776.8L1270.6,782.7L1272.8,790.6L1275.0,800.6L1277.2,812.3L1279.4,825.6L1281.6,845.3L1283.8,875.6L1286.0,911.1L1288.2,911.1L1290.4,911.1L1292.6,901.1L1294.8,878.7L1297.0,860.1L1299.2,847.0L1301.4,838.0L1303.6,830.4L1305.8,823.6L1308.0,817.1L1310.2,810.3L1312.4,802.7L1314.6,793.8L1316.8,784.2L1319.0,774.8L1321.2,766.0L1323.4,758.2L1325.6,751.6L1327.8,746.3L1330.0,742.6L1332.2,740.5L1334.5,740.2L1336.7,740.5L1338.9,741.1L1341.1,742.1L1343.3,743.2L1345.5,744.6L1347.7,746.0L1349.9,747.6L1352.1,749.2L1354.3,750.8L1356.5,752.4L1358.7,754.0L1360.9,755.8L1363.1,757.7L1365.3,759.8L1367.5,762.1L1369.7,764.8L1371.9,767.9L1374.1,771.5L1376.3,775.7L1378.5,780.9L1380.7,789.7L1382.9,802.1L1385.1,817.9L1387.3,836.3L1389.5,864.1L1391.7,905.1L1393.9,911.1L1396.1,911.1L1398.3,877.3L1400.5,843.0L1402.7,815.8L1404.9,795.8L1407.1,782.9L1409.3,773.4L1411.5,764.4L1413.8,756.6L1416.0,750.3L1418.2,745.8L1420.4,743.5L1422.6,743.4L1424.8,743.7L1427.0,744.3L1429.2,745.2L1431.4,746.4L1433.6,747.8L1435.8,749.6L1438.0,751.6L1440.2,754.0L1442.4,756.6L1444.6,761.4L1446.8,771.3L1449.0,786.0L1451.2,804.6L1453.4,825.6L1455.6,855.9L1457.8,901.2L1460.0,911.1L1462.2,904.7L1464.4,857.1L1466.6,816.3L1468.8,785.8L1471.0,764.3L1473.2,750.8L1475.4,741.4L1477.6,732.7L1479.8,725.2L1482.0,719.3L1484.2,715.2L1486.4,713.5L1488.6,713.5L1490.8,713.7L1493.1,714.2L1495.3,714.9L1497.5,715.7L1499.7,716.8L1501.9,718.1L1504.1,719.6L1506.3,721.3L1508.5,723.2L1510.7,726.2L1512.9,732.8L1515.1,742.9L1517.3,756.3L1519.5,772.2L1521.7,799.9L1523.9,845.6L1526.1,879.0L1528.3,860.3L1530.5,825.0L1532.7,792.4L1534.9,767.5L1537.1,750.8L1539.3,738.3L1541.5,726.4L1543.7,715.9L1545.9,707.0L1548.1,700.0L1550.3,695.0L1552.5,692.3L1554.7,691.3L1556.9,690.6L1559.1,690.1L1561.3,689.9L1563.5,690.3L1565.7,691.5L1567.9,693.3L1570.2,695.7L1572.4,698.5L1574.6,701.7L1576.8,705.4L1579.0,710.7L1581.2,718.0L1583.4,727.2L1585.6,738.2L1587.8,750.8L1590.0,769.3L1592.2,799.0L1594.4,841.9L1596.6,896.7L1598.8,911.1L1601.0,797.4L1603.2,707.4L1605.4,665.3L1607.6,643.6L1609.8,626.8L1612.0,613.3L1614.2,602.5L1616.4,593.6L1618.6,586.2L1620.8,579.6L1623.0,573.5L1625.2,568.0L1627.4,563.0L1629.6,558.6L1631.8,554.7L1634.0,551.3L1636.2,548.4L1638.4,546.1L1640.6,544.3L1642.8,542.6L1645.0,541.1L1647.2,539.6L1649.5,538.3L1651.7,537.1L1653.9,536.0L1656.1,535.2L1658.3,534.5L1660.5,534.1L1662.7,533.9L1664.9,534.0L1667.1,534.5L1669.3,535.2L1671.5,536.3L1673.7,537.5L1675.9,539.1L1678.1,540.8L1680.3,542.7L1682.5,544.7L1684.7,546.8L1686.9,549.0L1689.1,551.4L1691.3,554.5L1693.5,558.2L1695.7,562.5L1697.9,567.4L1700.1,572.8L1702.3,578.5L1704.5,584.4L1706.7,590.3L1708.9,596.3L1711.1,602.7L1713.3,609.8L1715.5,617.4L1717.7,625.7L1719.9,634.6L1722.1,644.1L1724.3,654.2L1726.5,664.8L1728.8,675.7L1731.0,686.8L1733.2,697.7L1735.4,708.7L1737.6,720.5L1739.8,734.0L1742.0,750.8L1744.2,777.6L1746.4,821.5L1748.6,884.6L1750.8,911.1L1753.0,882.0L1755.2,818.0L1757.4,775.1L1759.6,750.8L1761.8,736.1L1764.0,723.7L1766.2,713.3L1768.4,704.9L1770.6,698.4L1772.8,693.8L1775.0,690.5L1777.2,687.5L1779.4,684.8L1781.6,682.3L1783.8,680.2L1786.0,678.4L1788.2,676.9L1790.4,675.8L1792.6,675.2L1794.8,674.9L1797.0,675.1L1799.2,675.4L1801.4,675.9L1803.6,676.6L1805.8,677.4L1808.0,678.4L1810.3,679.5L1812.5,680.6L1814.7,681.8L1816.9,683.0L1819.1,684.3L1821.3,685.9L1823.5,687.7L1825.7,689.9L1827.9,692.2L1830.1,694.8L1832.3,697.4L1834.5,700.2L1836.7,703.1L1838.9,705.9L1841.1,708.6L1843.3,711.4L1845.5,714.3L1847.7,717.3L1849.9,720.4L1852.1,723.5L1854.3,726.8L1856.5,730.1L1858.7,733.5L1860.9,737.0L1863.1,740.5L1865.3,744.1L1867.5,747.8L1869.7,751.7L1871.9,755.7L1874.1,759.8L1876.3,764.0L1878.5,768.2L1880.7,772.4L1882.9,776.6L1885.1,780.7L1887.3,784.8L1889.6,789.0L1891.8,793.1L1894.0,797.4L1896.2,801.6L1898.4,805.8L1900.6,810.0L1902.8,814.1L1905.0,818.1L1907.2,822.1L1909.4,826.2L1911.6,830.3L1913.8,834.4L1916.0,838.5L1918.2,842.5L1920.4,846.5L1922.6,850.4L1924.8,854.1L1927.0,857.7" stroke="#2a68c0" stroke-width="4" stroke-dasharray="11 9"/>
<circle cx="1156.0" cy="821.0" r="7.1" fill="#1e6ad8"/>
<circle cx="1178.1" cy="790.3" r="7.1" fill="#1e6ad8"/>
<circle cx="1200.1" cy="768.3" r="7.1" fill="#1e6ad8"/>
<circle cx="1222.1" cy="752.9" r="7.1" fill="#1e6ad8"/>
<circle cx="1244.1" cy="755.0" r="7.1" fill="#1e6ad8"/>
<circle cx="1266.2" cy="773.0" r="7.1" fill="#1e6ad8"/>
<circle cx="1310.2" cy="810.3" r="7.1" fill="#1e6ad8"/>
<circle cx="1332.2" cy="740.5" r="7.1" fill="#1e6ad8"/>
<circle cx="1354.3" cy="750.8" r="7.1" fill="#1e6ad8"/>
<circle cx="1376.3" cy="775.7" r="7.1" fill="#1e6ad8"/>
<circle cx="1420.4" cy="743.5" r="7.1" fill="#1e6ad8"/>
<circle cx="1442.4" cy="756.6" r="7.1" fill="#1e6ad8"/>
<circle cx="1486.4" cy="713.5" r="7.1" fill="#1e6ad8"/>
<circle cx="1508.5" cy="723.2" r="7.1" fill="#1e6ad8"/>
<circle cx="1530.5" cy="825.0" r="7.1" fill="#1e6ad8"/>
<circle cx="1552.5" cy="692.3" r="7.1" fill="#1e6ad8"/>
<circle cx="1574.6" cy="701.7" r="7.1" fill="#1e6ad8"/>
<circle cx="1618.6" cy="586.2" r="7.1" fill="#1e6ad8"/>
<circle cx="1640.6" cy="544.3" r="7.1" fill="#1e6ad8"/>
<circle cx="1662.7" cy="533.9" r="7.1" fill="#1e6ad8"/>
<circle cx="1684.7" cy="546.8" r="7.1" fill="#1e6ad8"/>
<circle cx="1706.7" cy="590.3" r="7.1" fill="#1e6ad8"/>
<circle cx="1728.8" cy="675.7" r="7.1" fill="#1e6ad8"/>
<circle cx="1772.8" cy="693.8" r="7.1" fill="#1e6ad8"/>
<circle cx="1794.8" cy="674.9" r="7.1" fill="#1e6ad8"/>
<circle cx="1816.9" cy="683.0" r="7.1" fill="#1e6ad8"/>
<circle cx="1838.9" cy="705.9" r="7.1" fill="#1e6ad8"/>
<circle cx="1860.9" cy="737.0" r="7.1" fill="#1e6ad8"/>
<circle cx="1882.9" cy="776.6" r="7.1" fill="#1e6ad8"/>
<circle cx="1905.0" cy="818.1" r="7.1" fill="#1e6ad8"/>
<path d="M1134.0,761.5L1136.2,760.1L1138.4,758.8L1140.6,757.4L1142.8,756.1L1145.0,754.7L1147.2,753.3L1149.4,752.0L1151.6,750.6L1153.8,749.2L1156.0,747.9L1158.2,746.5L1160.4,745.0L1162.6,743.5L1164.8,742.1L1167.0,740.6L1169.2,739.1L1171.4,737.7L1173.7,736.4L1175.9,735.2L1178.1,734.1L1180.3,733.1L1182.5,732.1L1184.7,731.0L1186.9,730.0L1189.1,729.0L1191.3,728.2L1193.5,727.4L1195.7,726.8L1197.9,726.4L1200.1,726.2L1202.3,726.2L1204.5,726.3L1206.7,726.4L1208.9,726.6L1211.1,726.8L1213.3,727.1L1215.5,727.4L1217.7,727.7L1219.9,728.1L1222.1,728.4L1224.3,729.1L1226.5,730.0L1228.7,731.2L1230.9,732.6L1233.1,734.1L1235.3,735.9L1237.5,737.6L1239.7,739.5L1241.9,741.3L1244.1,743.0L1246.3,744.7L1248.5,746.4L1250.7,748.1L1253.0,750.0L1255.2,751.8L1257.4,753.8L1259.6,755.7L1261.8,757.7L1264.0,759.7L1266.2,761.7L1268.4,763.9L1270.6,766.5L1272.8,769.2L1275.0,771.8L1277.2,773.6L1279.4,774.3L1281.6,771.4L1283.8,764.7L1286.0,756.7L1288.2,749.7L1290.4,744.8L1292.6,740.5L1294.8,736.3L1297.0,732.3L1299.2,728.7L1301.4,725.4L1303.6,722.5L1305.8,720.1L1308.0,718.3L1310.2,717.0L1312.4,716.2L1314.6,715.5L1316.8,714.9L1319.0,714.3L1321.2,713.8L1323.4,713.3L1325.6,713.0L1327.8,712.7L1330.0,712.5L1332.2,712.4L1334.5,712.4L1336.7,713.6L1338.9,715.9L1341.1,719.2L1343.3,723.6L1345.5,728.9L1347.7,735.0L1349.9,741.9L1352.1,749.5L1354.3,757.7L1356.5,768.3L1358.7,785.3L1360.9,808.6L1363.1,836.9L1365.3,865.2L1367.5,879.0L1369.7,871.3L1371.9,853.2L1374.1,832.2L1376.3,812.3L1378.5,795.4L1380.7,781.9L1382.9,772.2L1385.1,764.6L1387.3,757.6L1389.5,751.2L1391.7,745.4L1393.9,740.4L1396.1,736.0L1398.3,732.3L1400.5,729.4L1402.7,727.0L1404.9,724.6L1407.1,722.3L1409.3,720.3L1411.5,718.5L1413.8,717.0L1416.0,715.8L1418.2,714.9L1420.4,714.5L1422.6,714.6L1424.8,715.5L1427.0,717.1L1429.2,719.4L1431.4,722.4L1433.6,726.0L1435.8,730.1L1438.0,734.7L1440.2,739.9L1442.4,745.5L1444.6,754.5L1446.8,769.5L1449.0,789.7L1451.2,813.6L1453.4,836.4L1455.6,847.0L1457.8,835.4L1460.0,812.2L1462.2,789.8L1464.4,773.4L1466.6,763.6L1468.8,755.6L1471.0,748.8L1473.2,743.0L1475.4,738.3L1477.6,734.8L1479.8,731.8L1482.0,729.2L1484.2,727.2L1486.4,726.3L1488.6,726.7L1490.8,728.3L1493.1,731.1L1495.3,734.9L1497.5,739.4L1499.7,744.6L1501.9,750.3L1504.1,756.1L1506.3,763.9L1508.5,775.3L1510.7,790.1L1512.9,808.4L1515.1,829.5L1517.3,851.8L1519.5,870.8L1521.7,879.0L1523.9,866.4L1526.1,839.4L1528.3,810.8L1530.5,785.8L1532.7,765.7L1534.9,750.5L1537.1,740.1L1539.3,732.2L1541.5,724.6L1543.7,717.7L1545.9,711.8L1548.1,707.2L1550.3,704.1L1552.5,702.8L1554.7,703.7L1556.9,707.5L1559.1,713.6L1561.3,721.6L1563.5,730.7L1565.7,740.1L1567.9,751.0L1570.2,764.9L1572.4,781.6L1574.6,799.8L1576.8,818.2L1579.0,841.5L1581.2,866.4L1583.4,879.0L1585.6,860.7L1587.8,825.0L1590.0,791.0L1592.2,763.6L1594.4,743.2L1596.6,729.4L1598.8,719.3L1601.0,710.2L1603.2,702.2L1605.4,695.6L1607.6,690.3L1609.8,686.7L1612.0,683.9L1614.2,681.5L1616.4,679.9L1618.6,679.2L1620.8,680.8L1623.0,685.2L1625.2,691.6L1627.4,699.5L1629.6,708.1L1631.8,718.1L1634.0,731.3L1636.2,748.0L1638.4,768.6L1640.6,794.1L1642.8,839.6L1645.0,879.0L1647.2,819.0L1649.5,754.0L1651.7,718.8L1653.9,700.7L1656.1,687.2L1658.3,676.1L1660.5,665.8L1662.7,655.6L1664.9,645.1L1667.1,634.5L1669.3,624.3L1671.5,614.6L1673.7,605.6L1675.9,597.4L1678.1,590.1L1680.3,583.7L1682.5,578.1L1684.7,573.4L1686.9,569.3L1689.1,565.3L1691.3,561.6L1693.5,558.1L1695.7,554.9L1697.9,552.0L1700.1,549.4L1702.3,547.2L1704.5,545.4L1706.7,544.0L1708.9,542.9L1711.1,541.9L1713.3,541.0L1715.5,540.2L1717.7,539.4L1719.9,538.7L1722.1,538.2L1724.3,537.7L1726.5,537.4L1728.8,537.2L1731.0,537.1L1733.2,537.4L1735.4,537.9L1737.6,538.7L1739.8,539.8L1742.0,541.0L1744.2,542.4L1746.4,543.8L1748.6,545.4L1750.8,546.9L1753.0,548.4L1755.2,550.1L1757.4,552.0L1759.6,554.0L1761.8,556.3L1764.0,558.7L1766.2,561.2L1768.4,563.9L1770.6,566.6L1772.8,569.5L1775.0,572.4L1777.2,575.4L1779.4,578.6L1781.6,582.1L1783.8,585.7L1786.0,589.5L1788.2,593.5L1790.4,597.6L1792.6,601.8L1794.8,606.1L1797.0,610.4L1799.2,614.9L1801.4,619.7L1803.6,624.6L1805.8,629.8L1808.0,635.1L1810.3,640.6L1812.5,646.3L1814.7,652.0L1816.9,657.7L1819.1,663.5L1821.3,669.5L1823.5,675.8L1825.7,682.4L1827.9,689.1L1830.1,696.1L1832.3,703.2L1834.5,710.3L1836.7,717.3L1838.9,724.1L1841.1,730.9L1843.3,737.9L1845.5,745.3L1847.7,753.0L1849.9,760.8L1852.1,768.8L1854.3,776.7L1856.5,784.4L1858.7,791.8L1860.9,798.5L1863.1,804.4L1865.3,810.3L1867.5,816.4L1869.7,822.3L1871.9,827.7L1874.1,832.2L1876.3,835.2L1878.5,836.3L1880.7,835.4L1882.9,833.2L1885.1,830.1L1887.3,826.6L1889.6,823.2L1891.8,820.3L1894.0,817.5L1896.2,814.5L1898.4,811.5L1900.6,808.7L1902.8,806.3L1905.0,804.3L1907.2,802.9L1909.4,801.8L1911.6,800.8L1913.8,799.8L1916.0,799.0L1918.2,798.2L1920.4,797.6L1922.6,797.1L1924.8,796.9L1927.0,796.8" stroke="#34975d" stroke-width="4" stroke-dasharray="11 9"/>
<circle cx="1134.0" cy="761.5" r="7.1" fill="#2fa35e"/>
<circle cx="1156.0" cy="747.9" r="7.1" fill="#2fa35e"/>
<circle cx="1178.1" cy="734.1" r="7.1" fill="#2fa35e"/>
<circle cx="1200.1" cy="726.2" r="7.1" fill="#2fa35e"/>
<circle cx="1222.1" cy="728.4" r="7.1" fill="#2fa35e"/>
<circle cx="1244.1" cy="743.0" r="7.1" fill="#2fa35e"/>
<circle cx="1266.2" cy="761.7" r="7.1" fill="#2fa35e"/>
<circle cx="1288.2" cy="749.7" r="7.1" fill="#2fa35e"/>
<circle cx="1310.2" cy="717.0" r="7.1" fill="#2fa35e"/>
<circle cx="1332.2" cy="712.4" r="7.1" fill="#2fa35e"/>
<circle cx="1354.3" cy="757.7" r="7.1" fill="#2fa35e"/>
<circle cx="1376.3" cy="812.3" r="7.1" fill="#2fa35e"/>
<circle cx="1398.3" cy="732.3" r="7.1" fill="#2fa35e"/>
<circle cx="1420.4" cy="714.5" r="7.1" fill="#2fa35e"/>
<circle cx="1442.4" cy="745.5" r="7.1" fill="#2fa35e"/>
<circle cx="1464.4" cy="773.4" r="7.1" fill="#2fa35e"/>
<circle cx="1486.4" cy="726.3" r="7.1" fill="#2fa35e"/>
<circle cx="1508.5" cy="775.3" r="7.1" fill="#2fa35e"/>
<circle cx="1530.5" cy="785.8" r="7.1" fill="#2fa35e"/>
<circle cx="1552.5" cy="702.8" r="7.1" fill="#2fa35e"/>
<circle cx="1574.6" cy="799.8" r="7.1" fill="#2fa35e"/>
<circle cx="1596.6" cy="729.4" r="7.1" fill="#2fa35e"/>
<circle cx="1618.6" cy="679.2" r="7.1" fill="#2fa35e"/>
<circle cx="1640.6" cy="794.1" r="7.1" fill="#2fa35e"/>
<circle cx="1662.7" cy="655.6" r="7.1" fill="#2fa35e"/>
<circle cx="1684.7" cy="573.4" r="7.1" fill="#2fa35e"/>
<circle cx="1706.7" cy="544.0" r="7.1" fill="#2fa35e"/>
<circle cx="1728.8" cy="537.2" r="7.1" fill="#2fa35e"/>
<circle cx="1750.8" cy="546.9" r="7.1" fill="#2fa35e"/>
<circle cx="1772.8" cy="569.5" r="7.1" fill="#2fa35e"/>
<circle cx="1794.8" cy="606.1" r="7.1" fill="#2fa35e"/>
<circle cx="1816.9" cy="657.7" r="7.1" fill="#2fa35e"/>
<circle cx="1838.9" cy="724.1" r="7.1" fill="#2fa35e"/>
<circle cx="1860.9" cy="798.5" r="7.1" fill="#2fa35e"/>
<circle cx="1882.9" cy="833.2" r="7.1" fill="#2fa35e"/>
<circle cx="1905.0" cy="804.3" r="7.1" fill="#2fa35e"/>
<circle cx="1927.0" cy="796.8" r="7.1" fill="#2fa35e"/>
<path d="M1134.0,783.9L1136.2,784.5L1138.4,784.9L1140.6,785.3L1142.8,785.6L1145.0,785.8L1147.2,785.9L1149.4,786.0L1151.6,786.0L1153.8,786.1L1156.0,786.1L1158.2,785.9L1160.4,785.3L1162.6,784.2L1164.8,782.9L1167.0,781.2L1169.2,779.3L1171.4,777.3L1173.7,775.2L1175.9,773.0L1178.1,770.9L1180.3,768.7L1182.5,766.2L1184.7,763.3L1186.9,760.2L1189.1,756.9L1191.3,753.5L1193.5,750.0L1195.7,746.5L1197.9,743.1L1200.1,739.7L1202.3,736.3L1204.5,732.7L1206.7,728.9L1208.9,725.0L1211.1,721.2L1213.3,717.4L1215.5,713.8L1217.7,710.4L1219.9,707.2L1222.1,704.3L1224.3,701.5L1226.5,698.8L1228.7,696.2L1230.9,693.7L1233.1,691.3L1235.3,689.0L1237.5,686.8L1239.7,684.6L1241.9,682.6L1244.1,680.7L1246.3,678.7L1248.5,676.6L1250.7,674.5L1253.0,672.3L1255.2,670.3L1257.4,668.5L1259.6,666.9L1261.8,665.6L1264.0,664.8L1266.2,664.3L1268.4,664.3L1270.6,664.5L1272.8,664.8L1275.0,665.2L1277.2,665.7L1279.4,666.4L1281.6,667.1L1283.8,667.9L1286.0,668.7L1288.2,669.6L1290.4,670.7L1292.6,672.3L1294.8,674.2L1297.0,676.4L1299.2,679.0L1301.4,681.8L1303.6,684.8L1305.8,688.1L1308.0,691.5L1310.2,694.9L1312.4,698.5L1314.6,702.5L1316.8,707.1L1319.0,712.1L1321.2,717.6L1323.4,723.5L1325.6,729.7L1327.8,736.1L1330.0,742.6L1332.2,749.1L1334.5,755.6L1336.7,763.2L1338.9,771.5L1341.1,779.6L1343.3,785.7L1345.5,788.2L1347.7,779.4L1349.9,761.5L1352.1,744.4L1354.3,732.9L1356.5,727.1L1358.7,721.9L1360.9,717.3L1363.1,713.1L1365.3,709.5L1367.5,706.3L1369.7,703.8L1371.9,701.8L1374.1,700.4L1376.3,699.6L1378.5,699.6L1380.7,700.4L1382.9,702.0L1385.1,704.4L1387.3,707.3L1389.5,710.7L1391.7,714.5L1393.9,718.5L1396.1,722.6L1398.3,726.5L1400.5,730.4L1402.7,734.4L1404.9,738.7L1407.1,743.4L1409.3,748.6L1411.5,754.6L1413.8,761.5L1416.0,772.2L1418.2,786.5L1420.4,797.6L1422.6,796.8L1424.8,786.8L1427.0,773.3L1429.2,760.5L1431.4,750.8L1433.6,742.9L1435.8,735.0L1438.0,728.2L1440.2,723.0L1442.4,720.1L1444.6,719.0L1446.8,718.1L1449.0,717.3L1451.2,716.6L1453.4,716.0L1455.6,715.5L1457.8,715.1L1460.0,714.8L1462.2,714.6L1464.4,714.5L1466.6,715.1L1468.8,718.6L1471.0,724.5L1473.2,732.4L1475.4,741.5L1477.6,750.8L1479.8,762.8L1482.0,779.4L1484.2,796.6L1486.4,807.1L1488.6,803.9L1490.8,792.8L1493.1,779.8L1495.3,768.5L1497.5,761.5L1499.7,757.7L1501.9,754.8L1504.1,752.3L1506.3,750.0L1508.5,747.6L1510.7,744.7L1512.9,741.2L1515.1,737.7L1517.3,734.6L1519.5,732.4L1521.7,731.6L1523.9,731.8L1526.1,732.6L1528.3,733.7L1530.5,735.1L1532.7,737.0L1534.9,741.1L1537.1,747.2L1539.3,754.9L1541.5,763.5L1543.7,772.2L1545.9,782.8L1548.1,796.5L1550.3,810.1L1552.5,817.9L1554.7,812.6L1556.9,796.0L1559.1,777.1L1561.3,761.2L1563.5,750.8L1565.7,744.0L1567.9,737.9L1570.2,732.7L1572.4,728.5L1574.6,725.4L1576.8,723.4L1579.0,721.8L1581.2,720.3L1583.4,718.9L1585.6,717.7L1587.8,716.7L1590.0,715.8L1592.2,715.2L1594.4,714.7L1596.6,714.5L1598.8,714.9L1601.0,717.5L1603.2,721.8L1605.4,727.5L1607.6,733.8L1609.8,740.1L1612.0,748.0L1614.2,758.3L1616.4,767.9L1618.6,772.2L1620.8,768.0L1623.0,758.5L1625.2,748.2L1627.4,740.1L1629.6,734.0L1631.8,728.3L1634.0,723.1L1636.2,718.3L1638.4,714.2L1640.6,710.6L1642.8,707.1L1645.0,703.7L1647.2,700.4L1649.5,697.3L1651.7,694.4L1653.9,691.9L1656.1,689.9L1658.3,688.2L1660.5,687.2L1662.7,686.7L1664.9,687.4L1667.1,690.2L1669.3,694.6L1671.5,700.3L1673.7,706.7L1675.9,713.4L1678.1,720.9L1680.3,730.2L1682.5,741.2L1684.7,754.0L1686.9,772.6L1689.1,799.9L1691.3,830.5L1693.5,847.0L1695.7,811.0L1697.9,761.4L1700.1,729.4L1702.3,709.8L1704.5,693.7L1706.7,679.9L1708.9,667.8L1711.1,656.8L1713.3,646.8L1715.5,637.7L1717.7,629.5L1719.9,622.0L1722.1,615.2L1724.3,609.1L1726.5,603.7L1728.8,598.9L1731.0,594.6L1733.2,590.6L1735.4,586.9L1737.6,583.4L1739.8,580.1L1742.0,577.1L1744.2,574.3L1746.4,571.7L1748.6,569.3L1750.8,567.2L1753.0,565.2L1755.2,563.1L1757.4,561.1L1759.6,559.1L1761.8,557.3L1764.0,555.6L1766.2,554.2L1768.4,553.1L1770.6,552.4L1772.8,552.1L1775.0,552.1L1777.2,552.1L1779.4,552.1L1781.6,552.1L1783.8,552.1L1786.0,552.1L1788.2,552.1L1790.4,552.1L1792.6,552.1L1794.8,552.1L1797.0,552.1L1799.2,552.4L1801.4,553.1L1803.6,554.0L1805.8,555.2L1808.0,556.5L1810.3,557.9L1812.5,559.4L1814.7,560.8L1816.9,562.2L1819.1,563.5L1821.3,564.9L1823.5,566.2L1825.7,567.7L1827.9,569.2L1830.1,570.7L1832.3,572.3L1834.5,573.9L1836.7,575.6L1838.9,577.3L1841.1,579.1L1843.3,581.0L1845.5,583.0L1847.7,585.1L1849.9,587.2L1852.1,589.4L1854.3,591.7L1856.5,594.0L1858.7,596.4L1860.9,598.7L1863.1,601.1L1865.3,603.5L1867.5,606.0L1869.7,608.5L1871.9,611.1L1874.1,613.7L1876.3,616.3L1878.5,619.0L1880.7,621.6L1882.9,624.2L1885.1,626.8L1887.3,629.4L1889.6,631.9L1891.8,634.5L1894.0,637.1L1896.2,639.7L1898.4,642.4L1900.6,645.0L1902.8,647.7L1905.0,650.4L1907.2,653.1L1909.4,655.8L1911.6,658.6L1913.8,661.4L1916.0,664.3L1918.2,667.1L1920.4,670.0L1922.6,672.9L1924.8,675.8L1927.0,678.7" stroke="#ad82dc" stroke-width="4" stroke-dasharray="11 9"/>
<circle cx="1134.0" cy="783.9" r="7.1" fill="#b286e6"/>
<circle cx="1156.0" cy="786.1" r="7.1" fill="#b286e6"/>
<circle cx="1178.1" cy="770.9" r="7.1" fill="#b286e6"/>
<circle cx="1200.1" cy="739.7" r="7.1" fill="#b286e6"/>
<circle cx="1222.1" cy="704.3" r="7.1" fill="#b286e6"/>
<circle cx="1244.1" cy="680.7" r="7.1" fill="#b286e6"/>
<circle cx="1266.2" cy="664.3" r="7.1" fill="#b286e6"/>
<circle cx="1288.2" cy="669.6" r="7.1" fill="#b286e6"/>
<circle cx="1310.2" cy="694.9" r="7.1" fill="#b286e6"/>
<circle cx="1332.2" cy="749.1" r="7.1" fill="#b286e6"/>
<circle cx="1354.3" cy="732.9" r="7.1" fill="#b286e6"/>
<circle cx="1376.3" cy="699.6" r="7.1" fill="#b286e6"/>
<circle cx="1398.3" cy="726.5" r="7.1" fill="#b286e6"/>
<circle cx="1420.4" cy="797.6" r="7.1" fill="#b286e6"/>
<circle cx="1442.4" cy="720.1" r="7.1" fill="#b286e6"/>
<circle cx="1464.4" cy="714.5" r="7.1" fill="#b286e6"/>
<circle cx="1486.4" cy="807.1" r="7.1" fill="#b286e6"/>
<circle cx="1508.5" cy="747.6" r="7.1" fill="#b286e6"/>
<circle cx="1530.5" cy="735.1" r="7.1" fill="#b286e6"/>
<circle cx="1552.5" cy="817.9" r="7.1" fill="#b286e6"/>
<circle cx="1574.6" cy="725.4" r="7.1" fill="#b286e6"/>
<circle cx="1596.6" cy="714.5" r="7.1" fill="#b286e6"/>
<circle cx="1618.6" cy="772.2" r="7.1" fill="#b286e6"/>
<circle cx="1640.6" cy="710.6" r="7.1" fill="#b286e6"/>
<circle cx="1662.7" cy="686.7" r="7.1" fill="#b286e6"/>
<circle cx="1684.7" cy="754.0" r="7.1" fill="#b286e6"/>
<circle cx="1706.7" cy="679.9" r="7.1" fill="#b286e6"/>
<circle cx="1728.8" cy="598.9" r="7.1" fill="#b286e6"/>
<circle cx="1750.8" cy="567.2" r="7.1" fill="#b286e6"/>
<circle cx="1772.8" cy="552.1" r="7.1" fill="#b286e6"/>
<circle cx="1794.8" cy="552.1" r="7.1" fill="#b286e6"/>
<circle cx="1816.9" cy="562.2" r="7.1" fill="#b286e6"/>
<circle cx="1838.9" cy="577.3" r="7.1" fill="#b286e6"/>
<circle cx="1860.9" cy="598.7" r="7.1" fill="#b286e6"/>
<circle cx="1882.9" cy="624.2" r="7.1" fill="#b286e6"/>
<circle cx="1905.0" cy="650.4" r="7.1" fill="#b286e6"/>
<circle cx="1927.0" cy="678.7" r="7.1" fill="#b286e6"/>
<path d="M1134.0,615.1L1136.2,608.9L1138.4,602.9L1140.6,597.2L1142.8,591.6L1145.0,586.2L1147.2,581.0L1149.4,575.9L1151.6,571.0L1153.8,566.3L1156.0,561.7L1158.2,557.2L1160.4,552.8L1162.6,548.5L1164.8,544.3L1167.0,540.2L1169.2,536.2L1171.4,532.3L1173.7,528.5L1175.9,524.7L1178.1,521.1L1180.3,517.4L1182.5,513.7L1184.7,510.0L1186.9,506.3L1189.1,502.8L1191.3,499.4L1193.5,496.2L1195.7,493.2L1197.9,490.4L1200.1,488.0L1202.3,485.7L1204.5,483.5L1206.7,481.5L1208.9,479.5L1211.1,477.6L1213.3,475.9L1215.5,474.2L1217.7,472.7L1219.9,471.2L1222.1,469.8L1224.3,468.4L1226.5,466.9L1228.7,465.5L1230.9,464.1L1233.1,462.7L1235.3,461.5L1237.5,460.5L1239.7,459.8L1241.9,459.3L1244.1,459.1L1246.3,459.4L1248.5,460.2L1250.7,461.4L1253.0,463.1L1255.2,465.2L1257.4,467.5L1259.6,470.2L1261.8,473.1L1264.0,476.2L1266.2,479.4L1268.4,483.2L1270.6,488.2L1272.8,494.3L1275.0,501.5L1277.2,509.8L1279.4,519.2L1281.6,529.7L1283.8,541.3L1286.0,553.8L1288.2,567.0L1290.4,583.3L1292.6,605.4L1294.8,633.4L1297.0,665.0L1299.2,691.6L1300.5,697.4L1301.4,681.9L1303.6,643.3L1304.5,627.9L1305.8,598.8L1308.0,564.0L1310.2,538.5L1312.4,518.3L1314.6,501.7L1316.8,487.7L1319.0,475.5L1321.2,464.9L1323.4,455.6L1325.6,447.4L1327.8,440.0L1330.0,433.5L1332.2,427.8L1334.5,422.7L1336.7,418.2L1338.9,414.4L1341.1,411.1L1343.3,408.4L1345.5,406.2L1347.7,404.6L1349.9,403.6L1352.1,403.1L1354.3,403.1L1356.5,403.8L1358.7,405.2L1360.9,407.2L1363.1,410.0L1365.3,413.6L1367.5,418.1L1369.7,423.7L1371.9,430.6L1374.1,439.0L1376.3,449.3L1378.5,462.0L1380.7,478.1L1382.9,499.1L1385.1,528.3L1387.3,574.1L1388.0,594.5L1389.5,617.0L1391.7,649.2L1392.8,665.3L1393.0,596.9L1393.9,567.9L1396.1,519.8L1398.3,487.8L1400.5,464.0L1402.7,445.1L1404.9,429.5L1407.1,416.4L1409.3,405.3L1411.5,395.7L1413.8,387.4L1416.0,380.3L1418.2,374.2L1420.4,369.0L1422.6,364.8L1424.8,361.3L1427.0,358.7L1429.2,356.9L1431.4,355.8L1433.6,355.7L1435.8,356.4L1438.0,358.0L1440.2,360.7L1442.4,364.5L1444.6,369.6L1446.8,376.3L1449.0,385.0L1451.2,396.1L1453.4,410.7L1455.6,430.2L1457.8,457.9L1460.0,502.2L1462.2,602.8L1464.0,686.7L1464.2,614.5L1464.4,594.2L1466.6,491.2L1468.8,441.6L1471.0,408.1L1473.2,382.7L1475.4,362.1L1477.6,344.8L1479.8,329.9L1482.0,316.9L1484.2,305.3L1486.4,295.0L1488.6,285.7L1490.8,277.3L1493.1,269.7L1495.3,262.8L1497.5,256.5L1499.7,250.7L1501.9,245.5L1504.1,240.8L1506.3,236.6L1508.5,232.8L1510.7,229.4L1512.9,226.4L1515.1,223.8L1517.3,221.6L1519.5,219.7L1521.7,218.2L1523.9,217.0L1526.1,216.2L1528.3,215.7L1530.5,215.5L1532.7,215.7L1534.9,216.2L1537.1,217.0L1539.3,218.2L1541.5,219.7L1543.7,221.6L1545.9,223.8L1548.1,226.4L1550.3,229.4L1552.5,232.8L1554.7,236.6L1556.9,240.8L1559.1,245.5L1561.3,250.7L1563.5,256.5L1565.7,262.8L1567.9,269.7L1570.2,277.3L1572.4,285.7L1574.6,295.0L1576.8,305.3L1579.0,316.8L1581.2,329.8L1583.4,344.5L1585.6,361.7L1587.8,382.1L1590.0,407.3L1592.2,440.6L1594.4,490.0L1596.6,592.7L1597.0,638.9L1597.9,718.8L1598.3,649.8L1598.8,601.1L1601.0,500.2L1603.2,455.6L1605.4,427.6L1607.6,407.9L1609.8,393.1L1612.0,381.7L1614.2,372.8L1616.4,365.9L1618.6,360.6L1620.8,356.6L1623.0,353.9L1625.2,352.1L1627.4,351.4L1629.6,351.6L1631.8,352.6L1634.0,354.5L1636.2,357.2L1638.4,360.7L1640.6,365.2L1642.8,370.5L1645.0,376.8L1647.2,384.1L1649.5,392.6L1651.7,402.5L1653.9,413.9L1656.1,427.3L1658.3,443.1L1660.5,462.3L1662.7,486.4L1664.9,518.5L1667.1,566.9L1667.3,633.3L1669.3,613.7L1671.5,591.9L1673.7,570.1L1673.9,567.9L1675.9,528.1L1678.1,499.0L1680.3,478.0L1682.5,462.0L1684.7,449.3L1686.9,439.0L1689.1,430.6L1691.3,423.7L1693.5,418.1L1695.7,413.6L1697.9,410.0L1700.1,407.2L1702.3,405.2L1704.5,403.8L1706.7,403.1L1708.9,403.1L1711.1,403.6L1713.3,404.6L1715.5,406.2L1717.7,408.4L1719.9,411.1L1722.1,414.4L1724.3,418.2L1726.5,422.7L1728.8,427.8L1731.0,433.5L1733.2,440.0L1735.4,447.4L1737.6,455.6L1739.8,464.9L1742.0,475.5L1744.2,487.7L1746.4,501.7L1748.6,518.3L1750.8,538.5L1753.0,564.0L1755.2,598.8L1757.2,646.6L1757.4,650.1L1759.6,685.9L1761.4,714.5L1761.8,699.4L1763.3,646.6L1764.0,629.4L1766.2,588.6L1768.4,561.3L1770.6,541.0L1772.8,525.2L1775.0,512.3L1777.2,501.6L1779.4,492.6L1781.6,484.9L1783.8,478.3L1786.0,472.5L1788.2,467.6L1790.4,463.4L1792.6,459.7L1794.8,456.5L1797.0,453.8L1799.2,451.6L1801.4,449.7L1803.6,448.1L1805.8,446.9L1808.0,446.2L1810.3,445.9L1812.5,445.8L1814.7,445.9L1816.9,446.3L1819.1,446.6L1821.3,447.1L1823.5,447.9L1825.7,448.9L1827.9,450.0L1830.1,451.3L1832.3,452.6L1834.5,454.1L1836.7,455.5L1838.9,457.0L1841.1,458.5L1843.3,460.1L1845.5,462.0L1847.7,464.0L1849.9,466.1L1852.1,468.3L1854.3,470.7L1856.5,473.1L1858.7,475.7L1860.9,478.3L1863.1,481.1L1865.3,484.2L1867.5,487.5L1869.7,491.0L1871.9,494.7L1874.1,498.5L1876.3,502.5L1878.5,506.6L1880.7,510.6L1882.9,514.7L1885.1,518.7L1887.3,522.9L1889.6,527.2L1891.8,531.6L1894.0,536.2L1896.2,540.8L1898.4,545.6L1900.6,550.5L1902.8,555.5L1905.0,560.6L1907.2,565.8L1909.4,571.3L1911.6,576.9L1913.8,582.7L1916.0,588.7L1918.2,595.0L1920.4,601.5L1922.6,608.3L1924.8,615.3L1927.0,622.6" stroke="#353535" stroke-width="3.4"/>
<path d="M1134.0,613.0L1136.2,606.3L1138.4,600.0L1140.6,593.9L1142.8,588.1L1145.0,582.5L1147.2,577.1L1149.4,571.9L1151.6,566.9L1153.8,562.1L1156.0,557.4L1158.2,552.9L1160.4,548.5L1162.6,544.2L1164.8,540.0L1167.0,535.9L1169.2,531.9L1171.4,528.0L1173.7,524.2L1175.9,520.4L1178.1,516.8L1180.3,513.1L1182.5,509.4L1184.7,505.7L1186.9,502.0L1189.1,498.5L1191.3,495.1L1193.5,491.9L1195.7,488.9L1197.9,486.2L1200.1,483.7L1202.3,481.4L1204.5,479.2L1206.7,477.2L1208.9,475.2L1211.1,473.4L1213.3,471.6L1215.5,469.9L1217.7,468.4L1219.9,466.9L1222.1,465.5L1224.3,464.1L1226.5,462.7L1228.7,461.2L1230.9,459.8L1233.1,458.5L1235.3,457.3L1237.5,456.3L1239.7,455.5L1241.9,455.0L1244.1,454.8L1246.3,455.1L1248.5,455.9L1250.7,457.2L1253.0,458.8L1255.2,460.9L1257.4,463.3L1259.6,466.0L1261.8,468.9L1264.0,471.9L1266.2,475.1L1268.4,478.9L1270.6,483.8L1272.8,489.8L1275.0,496.9L1277.2,505.1L1279.4,514.3L1281.6,524.6L1283.8,535.8L1286.0,547.9L1288.2,560.6L1290.4,569.8L1292.6,583.2L1294.8,603.1L1297.0,635.2L1297.4,644.2L1297.7,710.5L1299.2,690.8L1301.4,669.3L1303.6,647.7L1304.7,636.9L1305.8,611.9L1308.0,575.6L1310.2,549.5L1312.4,529.1L1314.6,512.4L1316.8,498.4L1319.0,486.4L1321.2,475.9L1323.4,466.8L1325.6,458.8L1327.8,451.7L1330.0,445.5L1332.2,440.0L1334.5,435.2L1336.7,431.1L1338.9,427.6L1341.1,424.6L1343.3,422.3L1345.5,420.4L1347.7,419.2L1349.9,418.5L1352.1,418.4L1354.3,418.8L1356.5,419.9L1358.7,421.6L1360.9,424.0L1363.1,427.2L1365.3,431.2L1367.5,436.1L1369.7,442.1L1371.9,449.4L1374.1,458.1L1376.3,468.7L1378.5,481.7L1380.7,498.0L1382.9,519.0L1385.1,547.7L1387.3,591.8L1388.4,626.4L1389.5,651.2L1391.3,691.0L1391.7,675.5L1393.3,621.5L1393.9,599.2L1396.1,549.2L1398.3,516.9L1400.5,493.1L1402.7,474.5L1404.9,459.3L1407.1,446.7L1409.3,436.1L1411.5,427.1L1413.8,419.5L1416.0,413.0L1418.2,407.6L1420.4,403.2L1422.6,399.7L1424.8,397.0L1427.0,395.2L1429.2,394.3L1431.4,394.1L1433.6,394.8L1435.8,396.5L1438.0,399.0L1440.2,402.7L1442.4,407.5L1444.6,413.7L1446.8,421.4L1449.0,431.2L1451.2,443.3L1453.4,458.9L1455.6,479.2L1457.8,507.5L1460.0,551.2L1462.2,643.6L1464.4,711.3L1464.9,632.6L1466.6,555.7L1468.8,505.7L1471.0,473.2L1473.2,449.2L1475.4,430.4L1477.6,415.1L1479.8,402.3L1482.0,391.7L1484.2,382.7L1486.4,375.1L1488.6,368.7L1490.8,363.4L1493.1,359.2L1495.3,356.0L1497.5,353.7L1499.7,352.4L1501.9,352.0L1504.1,352.6L1506.3,354.3L1508.5,357.1L1510.7,361.2L1512.9,366.7L1515.1,374.0L1517.3,383.5L1519.5,395.8L1521.7,412.1L1523.9,434.4L1526.1,467.2L1528.3,524.7L1529.4,580.7L1530.5,654.6L1531.8,588.3L1532.7,534.1L1534.9,463.1L1537.1,421.8L1539.3,392.3L1541.5,369.2L1543.7,350.3L1545.9,334.3L1548.1,320.5L1550.3,308.3L1552.5,297.5L1554.7,287.9L1556.9,279.2L1559.1,271.4L1561.3,264.3L1563.5,257.9L1565.7,252.1L1567.9,246.9L1570.2,242.1L1572.4,237.9L1574.6,234.1L1576.8,230.7L1579.0,227.7L1581.2,225.1L1583.4,222.8L1585.6,221.0L1587.8,219.4L1590.0,218.2L1592.2,217.4L1594.4,216.8L1596.6,216.6L1598.8,216.6L1601.0,217.0L1603.2,217.7L1605.4,218.7L1607.6,220.0L1609.8,221.7L1612.0,223.6L1614.2,225.9L1616.4,228.5L1618.6,231.4L1620.8,234.7L1623.0,238.3L1625.2,242.3L1627.4,246.7L1629.6,251.5L1631.8,256.7L1634.0,262.4L1636.2,268.6L1638.4,275.4L1640.6,282.7L1642.8,290.7L1645.0,299.5L1647.2,309.1L1649.5,319.7L1651.7,331.4L1653.9,344.6L1656.1,359.5L1658.3,376.7L1660.5,397.1L1662.7,422.1L1664.9,454.7L1667.1,502.2L1668.6,557.1L1669.3,578.6L1670.6,621.5L1671.5,594.9L1672.8,554.9L1673.7,524.7L1675.9,477.5L1678.1,448.2L1680.3,427.5L1682.5,411.8L1684.7,399.5L1686.9,389.6L1689.1,381.6L1691.3,375.1L1693.5,369.8L1695.7,365.6L1697.9,362.3L1700.1,359.9L1702.3,358.2L1704.5,357.4L1706.7,357.2L1708.9,357.7L1711.1,358.9L1713.3,360.7L1715.5,363.1L1717.7,366.1L1719.9,369.8L1722.1,374.1L1724.3,379.0L1726.5,384.5L1728.8,390.7L1731.0,397.5L1733.2,405.1L1735.4,413.4L1737.6,422.6L1739.8,432.8L1742.0,444.1L1744.2,456.8L1746.4,471.4L1748.6,488.2L1750.8,508.4L1753.0,533.5L1755.2,567.2L1756.3,589.5L1757.4,654.6L1759.6,635.6L1761.8,616.5L1764.0,597.4L1765.1,587.8L1766.2,569.0L1768.4,540.8L1770.6,520.2L1772.8,504.3L1775.0,491.4L1777.2,480.7L1779.4,471.8L1781.6,464.1L1783.8,457.6L1786.0,451.9L1788.2,447.0L1790.4,442.7L1792.6,439.1L1794.8,435.9L1797.0,433.2L1799.2,430.9L1801.4,429.0L1803.6,427.5L1805.8,426.3L1808.0,426.1L1810.3,426.2L1812.5,426.6L1814.7,427.2L1816.9,428.1L1819.1,429.1L1821.3,430.2L1823.5,431.4L1825.7,432.8L1827.9,434.3L1830.1,435.9L1832.3,437.6L1834.5,439.3L1836.7,441.2L1838.9,443.1L1841.1,445.1L1843.3,447.3L1845.5,449.6L1847.7,452.2L1849.9,454.8L1852.1,457.6L1854.3,460.5L1856.5,463.6L1858.7,466.6L1860.9,469.8L1863.1,473.1L1865.3,476.5L1867.5,480.2L1869.7,484.0L1871.9,488.0L1874.1,492.1L1876.3,496.3L1878.5,500.7L1880.7,505.0L1882.9,509.3L1885.1,513.7L1887.3,518.3L1889.6,523.0L1891.8,527.8L1894.0,532.8L1896.2,537.9L1898.4,543.0L1900.6,548.2L1902.8,553.4L1905.0,558.5L1907.2,563.6L1909.4,568.8L1911.6,574.2L1913.8,579.7L1916.0,585.2L1918.2,590.8L1920.4,596.4L1922.6,602.1L1924.8,607.6L1927.0,613.0" stroke="#c4454b" stroke-width="4"/>
<rect x="1128.2" y="607.2" width="11.6" height="11.6" fill="#e5404a"/>
<rect x="1150.2" y="551.6" width="11.6" height="11.6" fill="#e5404a"/>
<rect x="1172.3" y="511.0" width="11.6" height="11.6" fill="#e5404a"/>
<rect x="1194.3" y="477.9" width="11.6" height="11.6" fill="#e5404a"/>
<rect x="1216.3" y="459.7" width="11.6" height="11.6" fill="#e5404a"/>
<rect x="1238.3" y="449.0" width="11.6" height="11.6" fill="#e5404a"/>
<rect x="1260.4" y="469.3" width="11.6" height="11.6" fill="#e5404a"/>
<rect x="1282.4" y="554.8" width="11.6" height="11.6" fill="#e5404a"/>
<rect x="1304.4" y="543.7" width="11.6" height="11.6" fill="#e5404a"/>
<rect x="1326.5" y="434.2" width="11.6" height="11.6" fill="#e5404a"/>
<rect x="1348.5" y="413.0" width="11.6" height="11.6" fill="#e5404a"/>
<rect x="1370.5" y="462.9" width="11.6" height="11.6" fill="#e5404a"/>
<rect x="1392.5" y="511.1" width="11.6" height="11.6" fill="#e5404a"/>
<rect x="1414.6" y="397.4" width="11.6" height="11.6" fill="#e5404a"/>
<rect x="1436.6" y="401.7" width="11.6" height="11.6" fill="#e5404a"/>
<rect x="1458.6" y="705.5" width="11.6" height="11.6" fill="#e5404a"/>
<rect x="1480.6" y="369.3" width="11.6" height="11.6" fill="#e5404a"/>
<rect x="1502.7" y="351.3" width="11.6" height="11.6" fill="#e5404a"/>
<rect x="1524.7" y="648.8" width="11.6" height="11.6" fill="#e5404a"/>
<rect x="1546.7" y="291.7" width="11.6" height="11.6" fill="#e5404a"/>
<rect x="1568.8" y="228.3" width="11.6" height="11.6" fill="#e5404a"/>
<rect x="1590.8" y="210.8" width="11.6" height="11.6" fill="#e5404a"/>
<rect x="1612.8" y="225.6" width="11.6" height="11.6" fill="#e5404a"/>
<rect x="1634.8" y="276.9" width="11.6" height="11.6" fill="#e5404a"/>
<rect x="1656.9" y="416.3" width="11.6" height="11.6" fill="#e5404a"/>
<rect x="1678.9" y="393.7" width="11.6" height="11.6" fill="#e5404a"/>
<rect x="1700.9" y="351.4" width="11.6" height="11.6" fill="#e5404a"/>
<rect x="1723.0" y="384.9" width="11.6" height="11.6" fill="#e5404a"/>
<rect x="1745.0" y="502.6" width="11.6" height="11.6" fill="#e5404a"/>
<rect x="1767.0" y="498.5" width="11.6" height="11.6" fill="#e5404a"/>
<rect x="1789.0" y="430.1" width="11.6" height="11.6" fill="#e5404a"/>
<rect x="1811.1" y="422.3" width="11.6" height="11.6" fill="#e5404a"/>
<rect x="1833.1" y="437.3" width="11.6" height="11.6" fill="#e5404a"/>
<rect x="1855.1" y="464.0" width="11.6" height="11.6" fill="#e5404a"/>
<rect x="1877.1" y="503.5" width="11.6" height="11.6" fill="#e5404a"/>
<rect x="1899.2" y="552.7" width="11.6" height="11.6" fill="#e5404a"/>
<rect x="1921.2" y="607.2" width="11.6" height="11.6" fill="#e5404a"/>
<path d="M1134.0,574.5L1136.2,568.6L1138.4,562.9L1140.6,557.5L1142.8,552.4L1145.0,547.4L1147.2,542.7L1149.4,538.1L1151.6,533.7L1153.8,529.5L1156.0,525.4L1158.2,521.3L1160.4,517.4L1162.6,513.6L1164.8,509.8L1167.0,506.2L1169.2,502.7L1171.4,499.4L1173.7,496.1L1175.9,493.0L1178.1,490.1L1180.3,487.2L1182.5,484.3L1184.7,481.4L1186.9,478.6L1189.1,476.0L1191.3,473.5L1193.5,471.1L1195.7,469.0L1197.9,467.1L1200.1,465.5L1202.3,464.0L1204.5,462.5L1206.7,461.0L1208.9,459.6L1211.1,458.3L1213.3,457.1L1215.5,456.2L1217.7,455.5L1219.9,455.0L1222.1,454.8L1224.3,454.9L1226.5,455.2L1228.7,455.6L1230.9,456.2L1233.1,456.9L1235.3,457.7L1237.5,458.6L1239.7,459.6L1241.9,460.7L1244.1,461.9L1246.3,463.4L1248.5,465.7L1250.7,468.6L1253.0,472.1L1255.2,476.2L1257.4,480.7L1259.6,485.8L1261.8,491.2L1264.0,496.9L1266.2,502.9L1268.4,510.1L1270.6,519.6L1272.8,531.5L1275.0,545.7L1277.2,562.4L1279.4,581.3L1281.6,601.8L1283.8,622.1L1286.0,638.4L1288.2,645.0L1290.4,627.7L1292.6,610.3L1294.8,593.0L1296.3,580.8L1297.0,572.0L1299.2,547.5L1301.4,528.1L1303.6,512.1L1305.8,498.7L1308.0,487.1L1310.2,477.1L1312.4,468.2L1314.6,460.5L1316.8,453.6L1319.0,447.6L1321.2,442.3L1323.4,437.6L1325.6,433.6L1327.8,430.1L1330.0,427.2L1332.2,424.9L1334.5,423.0L1336.7,421.7L1338.9,420.9L1341.1,420.7L1343.3,420.9L1345.5,421.8L1347.7,423.2L1349.9,425.2L1352.1,427.9L1354.3,431.3L1356.5,435.6L1358.7,440.7L1360.9,446.8L1363.1,454.0L1365.3,462.7L1367.5,473.1L1369.7,485.7L1371.9,501.2L1374.1,520.8L1376.3,547.0L1377.4,564.0L1378.5,572.2L1380.7,588.5L1382.9,604.9L1385.1,621.3L1386.4,631.1L1387.3,587.6L1387.8,565.8L1389.5,538.1L1391.7,512.5L1393.9,492.8L1396.1,477.0L1398.3,464.0L1400.5,453.2L1402.7,444.0L1404.9,436.3L1407.1,429.9L1409.3,424.5L1411.5,420.1L1413.8,416.6L1416.0,414.0L1418.2,412.2L1420.4,411.2L1422.6,411.1L1424.8,411.8L1427.0,413.3L1429.2,415.8L1431.4,419.2L1433.6,423.7L1435.8,429.5L1438.0,436.6L1440.2,445.4L1442.4,456.2L1444.6,469.6L1446.8,486.7L1449.0,509.1L1451.2,540.5L1452.5,567.1L1453.4,574.9L1455.6,594.4L1457.8,613.8L1460.0,633.3L1460.2,564.3L1462.2,525.8L1464.4,496.3L1466.6,474.4L1468.8,457.2L1471.0,443.3L1473.2,431.8L1475.4,422.3L1477.6,414.4L1479.8,407.9L1482.0,402.6L1484.2,398.4L1486.4,395.3L1488.6,393.1L1490.8,391.9L1493.1,391.7L1495.3,392.5L1497.5,394.3L1499.7,397.2L1501.9,401.2L1504.1,406.6L1506.3,413.6L1508.5,422.3L1510.7,433.4L1512.9,447.4L1515.1,465.5L1517.3,490.0L1519.5,525.9L1521.7,589.3L1522.1,610.1L1523.9,645.2L1525.4,676.0L1525.7,604.4L1526.1,583.9L1528.3,519.5L1530.5,481.7L1532.7,455.1L1534.9,434.9L1537.1,419.0L1539.3,406.1L1541.5,395.7L1543.7,387.1L1545.9,380.0L1548.1,374.3L1550.3,369.8L1552.5,366.2L1554.7,363.5L1556.9,361.6L1559.1,360.5L1561.3,360.2L1563.5,360.7L1565.7,362.0L1567.9,364.3L1570.2,367.7L1572.4,372.3L1574.6,378.6L1576.8,386.8L1579.0,397.5L1581.2,411.9L1583.4,431.5L1585.6,459.9L1587.8,506.4L1588.9,545.8L1590.0,582.5L1590.9,611.9L1592.2,564.6L1592.8,540.9L1594.4,485.8L1596.6,438.6L1598.8,406.4L1601.0,381.9L1603.2,362.1L1605.4,345.4L1607.6,331.2L1609.8,318.7L1612.0,307.7L1614.2,297.9L1616.4,289.1L1618.6,281.1L1620.8,273.9L1623.0,267.4L1625.2,261.5L1627.4,256.1L1629.6,251.3L1631.8,246.9L1634.0,242.9L1636.2,239.4L1638.4,236.2L1640.6,233.4L1642.8,230.9L1645.0,228.8L1647.2,226.9L1649.5,225.4L1651.7,224.1L1653.9,223.2L1656.1,222.5L1658.3,222.1L1660.5,221.9L1662.7,222.0L1664.9,222.3L1667.1,222.9L1669.3,223.8L1671.5,224.9L1673.7,226.2L1675.9,227.8L1678.1,229.6L1680.3,231.6L1682.5,233.9L1684.7,236.5L1686.9,239.3L1689.1,242.4L1691.3,245.7L1693.5,249.3L1695.7,253.1L1697.9,257.3L1700.1,261.7L1702.3,266.5L1704.5,271.6L1706.7,277.0L1708.9,282.8L1711.1,288.9L1713.3,295.5L1715.5,302.6L1717.7,310.1L1719.9,318.2L1722.1,326.9L1724.3,336.3L1726.5,346.5L1728.8,357.7L1731.0,370.0L1733.2,383.7L1735.4,399.2L1737.6,417.0L1739.8,438.0L1742.0,463.8L1744.2,497.7L1745.9,535.9L1746.4,541.8L1748.6,571.5L1750.8,601.2L1753.0,553.4L1753.9,534.3L1755.2,510.8L1757.4,482.8L1759.6,462.7L1761.8,447.3L1764.0,435.1L1766.2,425.1L1768.4,416.7L1770.6,409.7L1772.8,403.8L1775.0,398.7L1777.2,394.5L1779.4,390.8L1781.6,387.8L1783.8,385.3L1786.0,383.2L1788.2,381.6L1790.4,380.5L1792.6,379.7L1794.8,379.3L1797.0,379.3L1799.2,379.5L1801.4,380.2L1803.6,381.1L1805.8,382.3L1808.0,383.1L1810.3,384.3L1812.5,385.7L1814.7,387.2L1816.9,389.0L1819.1,390.7L1821.3,392.6L1823.5,394.7L1825.7,397.0L1827.9,399.4L1830.1,401.9L1832.3,404.6L1834.5,407.4L1836.7,410.2L1838.9,413.2L1841.1,416.2L1843.3,419.5L1845.5,423.0L1847.7,426.7L1849.9,430.6L1852.1,434.6L1854.3,438.8L1856.5,443.0L1858.7,447.3L1860.9,451.6L1863.1,456.0L1865.3,460.7L1867.5,465.5L1869.7,470.5L1871.9,475.6L1874.1,480.9L1876.3,486.3L1878.5,491.7L1880.7,497.1L1882.9,502.4L1885.1,507.6L1887.3,512.8L1889.6,518.1L1891.8,523.4L1894.0,528.8L1896.2,534.3L1898.4,540.0L1900.6,545.9L1902.8,552.0L1905.0,558.5L1907.2,565.3L1909.4,572.5L1911.6,580.1L1913.8,588.1L1916.0,596.7L1918.2,605.9L1920.4,615.7L1922.6,626.3L1924.8,637.8L1927.0,650.4" stroke="#2a60b4" stroke-width="4"/>
<path d="M1134.0,566.9L1141.2,579.1L1126.8,579.1Z" fill="#2064d4"/>
<path d="M1156.0,517.8L1163.2,529.9L1148.8,529.9Z" fill="#2064d4"/>
<path d="M1178.1,482.5L1185.3,494.7L1170.8,494.7Z" fill="#2064d4"/>
<path d="M1200.1,457.9L1207.3,470.1L1192.9,470.1Z" fill="#2064d4"/>
<path d="M1222.1,447.2L1229.3,459.4L1214.9,459.4Z" fill="#2064d4"/>
<path d="M1244.1,454.3L1251.4,466.4L1236.9,466.4Z" fill="#2064d4"/>
<path d="M1266.2,495.3L1273.4,507.5L1258.9,507.5Z" fill="#2064d4"/>
<path d="M1288.2,637.4L1295.4,649.6L1281.0,649.6Z" fill="#2064d4"/>
<path d="M1310.2,469.5L1317.4,481.6L1303.0,481.6Z" fill="#2064d4"/>
<path d="M1332.2,417.3L1339.5,429.4L1325.0,429.4Z" fill="#2064d4"/>
<path d="M1354.3,423.7L1361.5,435.9L1347.1,435.9Z" fill="#2064d4"/>
<path d="M1376.3,539.4L1383.5,551.6L1369.1,551.6Z" fill="#2064d4"/>
<path d="M1398.3,456.4L1405.6,468.6L1391.1,468.6Z" fill="#2064d4"/>
<path d="M1420.4,403.6L1427.6,415.8L1413.1,415.8Z" fill="#2064d4"/>
<path d="M1442.4,448.6L1449.6,460.7L1435.2,460.7Z" fill="#2064d4"/>
<path d="M1464.4,488.7L1471.6,500.9L1457.2,500.9Z" fill="#2064d4"/>
<path d="M1486.4,387.7L1493.7,399.8L1479.2,399.8Z" fill="#2064d4"/>
<path d="M1508.5,414.7L1515.7,426.9L1501.3,426.9Z" fill="#2064d4"/>
<path d="M1530.5,474.1L1537.7,486.2L1523.3,486.2Z" fill="#2064d4"/>
<path d="M1552.5,358.6L1559.7,370.7L1545.3,370.7Z" fill="#2064d4"/>
<path d="M1574.6,371.0L1581.8,383.1L1567.3,383.1Z" fill="#2064d4"/>
<path d="M1596.6,431.0L1603.8,443.1L1589.4,443.1Z" fill="#2064d4"/>
<path d="M1618.6,273.5L1625.8,285.7L1611.4,285.7Z" fill="#2064d4"/>
<path d="M1640.6,225.8L1647.9,237.9L1633.4,237.9Z" fill="#2064d4"/>
<path d="M1662.7,214.4L1669.9,226.6L1655.4,226.6Z" fill="#2064d4"/>
<path d="M1684.7,228.9L1691.9,241.1L1677.5,241.1Z" fill="#2064d4"/>
<path d="M1706.7,269.4L1713.9,281.5L1699.5,281.5Z" fill="#2064d4"/>
<path d="M1728.8,350.1L1736.0,362.2L1721.5,362.2Z" fill="#2064d4"/>
<path d="M1750.8,593.6L1758.0,605.8L1743.6,605.8Z" fill="#2064d4"/>
<path d="M1772.8,396.2L1780.0,408.4L1765.6,408.4Z" fill="#2064d4"/>
<path d="M1794.8,371.7L1802.1,383.9L1787.6,383.9Z" fill="#2064d4"/>
<path d="M1816.9,381.4L1824.1,393.6L1809.6,393.6Z" fill="#2064d4"/>
<path d="M1838.9,405.6L1846.1,417.7L1831.7,417.7Z" fill="#2064d4"/>
<path d="M1860.9,444.0L1868.1,456.2L1853.7,456.2Z" fill="#2064d4"/>
<path d="M1882.9,494.8L1890.2,506.9L1875.7,506.9Z" fill="#2064d4"/>
<path d="M1905.0,550.9L1912.2,563.0L1897.8,563.0Z" fill="#2064d4"/>
<path d="M1927.0,642.8L1934.2,654.9L1919.8,654.9Z" fill="#2064d4"/>
<path d="M1134.0,506.1L1136.2,503.9L1138.4,501.7L1140.6,499.6L1142.8,497.6L1145.0,495.7L1147.2,493.8L1149.4,492.0L1151.6,490.2L1153.8,488.5L1156.0,486.9L1158.2,485.2L1160.4,483.5L1162.6,481.8L1164.8,480.1L1167.0,478.5L1169.2,477.0L1171.4,475.7L1173.7,474.6L1175.9,473.7L1178.1,473.0L1180.3,472.5L1182.5,472.0L1184.7,471.5L1186.9,471.1L1189.1,470.7L1191.3,470.4L1193.5,470.2L1195.7,470.0L1197.9,469.8L1200.1,469.8L1202.3,469.9L1204.5,470.4L1206.7,471.1L1208.9,472.1L1211.1,473.2L1213.3,474.5L1215.5,476.0L1217.7,477.6L1219.9,479.3L1222.1,481.0L1224.3,483.1L1226.5,485.9L1228.7,489.4L1230.9,493.3L1233.1,497.7L1235.3,502.4L1237.5,507.3L1239.7,512.2L1241.9,516.9L1244.1,521.1L1246.3,525.3L1248.5,530.0L1250.7,534.9L1253.0,539.4L1255.2,543.0L1257.4,545.3L1258.7,545.7L1259.6,545.3L1261.8,541.9L1264.0,536.5L1266.2,530.7L1268.4,524.3L1270.6,516.7L1272.8,508.3L1275.0,499.8L1277.2,491.4L1279.4,483.5L1281.6,476.0L1283.8,469.3L1286.0,463.3L1288.2,458.0L1290.4,453.4L1292.6,448.9L1294.8,444.8L1297.0,440.8L1299.2,437.0L1301.4,433.4L1303.6,430.0L1305.8,426.7L1308.0,423.6L1310.2,420.6L1312.4,417.7L1314.6,415.2L1316.8,413.1L1319.0,411.4L1321.2,410.2L1323.4,410.9L1325.6,412.0L1327.8,413.6L1330.0,415.7L1332.2,418.4L1334.5,421.8L1336.7,425.8L1338.9,430.5L1341.1,436.1L1343.3,442.7L1345.5,450.4L1347.7,459.4L1349.9,470.1L1352.1,482.8L1354.3,498.4L1354.5,500.2L1356.5,509.6L1358.7,520.0L1360.9,530.5L1363.1,540.9L1365.3,551.3L1367.5,561.8L1368.4,566.0L1369.7,554.4L1371.9,535.3L1374.1,516.1L1375.9,500.7L1376.3,497.1L1378.5,481.2L1380.7,468.1L1382.9,457.3L1385.1,448.1L1387.3,440.4L1389.5,434.0L1391.7,428.6L1393.9,424.1L1396.1,420.6L1398.3,417.8L1400.5,415.9L1402.7,414.8L1404.9,414.4L1407.1,414.8L1409.3,416.0L1411.5,418.0L1413.8,420.9L1416.0,424.7L1418.2,429.5L1420.4,435.5L1422.6,442.8L1424.8,451.7L1427.0,462.6L1429.2,475.9L1431.4,492.5L1433.6,513.9L1434.2,521.7L1435.8,534.3L1438.0,552.3L1440.2,570.4L1442.4,588.4L1444.6,564.5L1446.8,540.7L1448.3,524.0L1449.0,515.7L1451.2,492.8L1453.4,475.1L1455.6,460.9L1457.8,449.3L1460.0,439.8L1462.2,431.9L1464.4,425.5L1466.6,420.3L1468.8,416.2L1471.0,413.2L1473.2,411.2L1475.4,410.1L1477.6,410.0L1479.8,410.8L1482.0,412.7L1484.2,415.5L1486.4,419.5L1488.6,424.8L1490.8,431.4L1493.1,439.7L1495.3,450.0L1497.5,462.8L1499.7,479.1L1501.9,500.2L1504.1,529.4L1506.3,574.3L1506.5,580.4L1508.5,601.5L1510.7,625.0L1512.7,646.1L1512.9,578.9L1515.1,530.3L1517.3,498.9L1519.5,476.0L1521.7,458.2L1523.9,444.0L1526.1,432.3L1528.3,422.8L1530.5,414.9L1532.7,408.5L1534.9,403.3L1537.1,399.3L1539.3,396.3L1541.5,394.4L1543.7,393.5L1545.9,393.6L1548.1,394.6L1550.3,396.7L1552.5,400.0L1554.7,404.4L1556.9,410.2L1559.1,417.6L1561.3,426.9L1563.5,438.5L1565.7,453.2L1567.9,472.4L1570.2,498.4L1572.4,537.1L1574.6,608.9L1576.8,649.5L1578.1,673.9L1578.3,603.2L1579.0,575.5L1581.2,517.8L1583.4,482.6L1585.6,457.5L1587.8,438.3L1590.0,423.0L1592.2,410.5L1594.4,400.2L1596.6,391.6L1598.8,384.5L1601.0,378.6L1603.2,373.8L1605.4,370.0L1607.6,367.1L1609.8,365.0L1612.0,363.8L1614.2,363.3L1616.4,363.7L1618.6,364.9L1620.8,367.0L1623.0,370.0L1625.2,374.1L1627.4,379.4L1629.6,386.2L1631.8,394.8L1634.0,405.7L1636.2,419.8L1638.4,438.3L1640.6,464.0L1642.8,503.5L1643.7,527.0L1645.0,552.0L1647.2,593.7L1649.2,529.5L1649.5,521.7L1651.7,466.1L1653.9,430.5L1656.1,404.0L1658.3,383.1L1660.5,365.7L1662.7,351.0L1664.9,338.2L1667.1,327.0L1669.3,317.0L1671.5,308.0L1673.7,299.9L1675.9,292.6L1678.1,285.9L1680.3,279.8L1682.5,274.3L1684.7,269.3L1686.9,264.7L1689.1,260.5L1691.3,256.6L1693.5,253.2L1695.7,250.0L1697.9,247.2L1700.1,244.7L1702.3,242.4L1704.5,240.4L1706.7,238.7L1708.9,237.2L1711.1,235.9L1713.3,234.8L1715.5,234.0L1717.7,233.3L1719.9,232.9L1722.1,232.6L1724.3,232.6L1726.5,232.7L1728.8,233.0L1731.0,233.5L1733.2,234.1L1735.4,234.9L1737.6,235.8L1739.8,236.9L1742.0,238.2L1744.2,239.6L1746.4,241.2L1748.6,242.9L1750.8,244.8L1753.0,246.8L1755.2,248.9L1757.4,251.2L1759.6,253.7L1761.8,256.2L1764.0,258.9L1766.2,261.8L1768.4,264.7L1770.6,267.9L1772.8,271.1L1775.0,274.5L1777.2,278.0L1779.4,281.7L1781.6,285.5L1783.8,289.5L1786.0,293.6L1788.2,297.8L1790.4,302.2L1792.6,306.7L1794.8,311.4L1797.0,316.3L1799.2,321.3L1801.4,326.5L1803.6,331.9L1805.8,337.4L1808.0,341.7L1810.3,346.1L1812.5,350.8L1814.7,355.7L1816.9,360.8L1819.1,365.9L1821.3,371.3L1823.5,377.2L1825.7,383.6L1827.9,390.3L1830.1,397.4L1832.3,404.8L1834.5,412.4L1836.7,420.3L1838.9,428.1L1841.1,436.2L1843.3,444.9L1845.5,454.1L1847.7,464.1L1849.9,474.7L1852.1,486.1L1854.3,498.1L1856.5,510.9L1858.7,524.3L1860.9,538.2L1863.1,553.9L1865.3,573.3L1867.5,596.8L1869.7,625.1L1871.9,657.8L1874.1,691.9L1876.3,716.1L1877.2,718.8L1878.5,712.3L1880.7,687.0L1882.9,664.3L1885.1,647.3L1887.3,631.5L1889.6,617.2L1891.8,604.4L1894.0,593.0L1896.2,583.2L1898.4,574.7L1900.6,567.6L1902.8,561.8L1905.0,557.4L1907.2,553.8L1909.4,550.4L1911.6,547.2L1913.8,544.3L1916.0,541.8L1918.2,539.5L1920.4,537.6L1922.6,536.0L1924.8,534.7L1927.0,533.9" stroke="#3a9060" stroke-width="4"/>
<circle cx="1134.0" cy="506.1" r="6.3" fill="#2fa05e"/>
<circle cx="1156.0" cy="486.9" r="6.3" fill="#2fa05e"/>
<circle cx="1178.1" cy="473.0" r="6.3" fill="#2fa05e"/>
<circle cx="1200.1" cy="469.8" r="6.3" fill="#2fa05e"/>
<circle cx="1222.1" cy="481.0" r="6.3" fill="#2fa05e"/>
<circle cx="1244.1" cy="521.1" r="6.3" fill="#2fa05e"/>
<circle cx="1266.2" cy="530.7" r="6.3" fill="#2fa05e"/>
<circle cx="1288.2" cy="458.0" r="6.3" fill="#2fa05e"/>
<circle cx="1310.2" cy="420.6" r="6.3" fill="#2fa05e"/>
<circle cx="1332.2" cy="418.4" r="6.3" fill="#2fa05e"/>
<circle cx="1354.3" cy="498.4" r="6.3" fill="#2fa05e"/>
<circle cx="1376.3" cy="497.1" r="6.3" fill="#2fa05e"/>
<circle cx="1398.3" cy="417.8" r="6.3" fill="#2fa05e"/>
<circle cx="1420.4" cy="435.5" r="6.3" fill="#2fa05e"/>
<circle cx="1442.4" cy="588.4" r="6.3" fill="#2fa05e"/>
<circle cx="1464.4" cy="425.5" r="6.3" fill="#2fa05e"/>
<circle cx="1486.4" cy="419.5" r="6.3" fill="#2fa05e"/>
<circle cx="1508.5" cy="601.5" r="6.3" fill="#2fa05e"/>
<circle cx="1530.5" cy="414.9" r="6.3" fill="#2fa05e"/>
<circle cx="1552.5" cy="400.0" r="6.3" fill="#2fa05e"/>
<circle cx="1574.6" cy="608.9" r="6.3" fill="#2fa05e"/>
<circle cx="1596.6" cy="391.6" r="6.3" fill="#2fa05e"/>
<circle cx="1618.6" cy="364.9" r="6.3" fill="#2fa05e"/>
<circle cx="1640.6" cy="464.0" r="6.3" fill="#2fa05e"/>
<circle cx="1662.7" cy="351.0" r="6.3" fill="#2fa05e"/>
<circle cx="1684.7" cy="269.3" r="6.3" fill="#2fa05e"/>
<circle cx="1706.7" cy="238.7" r="6.3" fill="#2fa05e"/>
<circle cx="1728.8" cy="233.0" r="6.3" fill="#2fa05e"/>
<circle cx="1750.8" cy="244.8" r="6.3" fill="#2fa05e"/>
<circle cx="1772.8" cy="271.1" r="6.3" fill="#2fa05e"/>
<circle cx="1794.8" cy="311.4" r="6.3" fill="#2fa05e"/>
<circle cx="1816.9" cy="360.8" r="6.3" fill="#2fa05e"/>
<circle cx="1838.9" cy="428.1" r="6.3" fill="#2fa05e"/>
<circle cx="1860.9" cy="538.2" r="6.3" fill="#2fa05e"/>
<circle cx="1882.9" cy="664.3" r="6.3" fill="#2fa05e"/>
<circle cx="1905.0" cy="557.4" r="6.3" fill="#2fa05e"/>
<circle cx="1927.0" cy="533.9" r="6.3" fill="#2fa05e"/>
<path d="M1134.0,536.0L1136.2,538.1L1138.4,540.0L1140.6,541.4L1142.8,542.6L1145.0,543.3L1147.2,543.5L1149.4,543.3L1151.6,542.9L1153.8,542.2L1156.0,541.4L1158.2,539.8L1160.4,536.9L1162.6,533.0L1164.8,528.3L1167.0,523.2L1169.2,517.9L1171.4,512.5L1173.7,507.3L1175.9,502.3L1178.1,497.6L1180.3,492.9L1182.5,488.0L1184.7,482.9L1186.9,477.8L1189.1,472.8L1191.3,467.8L1193.5,462.9L1195.7,458.2L1197.9,453.7L1200.1,449.5L1202.3,445.3L1204.5,441.2L1206.7,437.1L1208.9,433.0L1211.1,429.1L1213.3,425.4L1215.5,421.8L1217.7,418.3L1219.9,415.1L1222.1,412.1L1224.3,409.1L1226.5,406.1L1228.7,403.2L1230.9,400.3L1233.1,397.6L1235.3,395.1L1237.5,392.8L1239.7,390.8L1241.9,389.2L1244.1,387.9L1246.3,386.9L1248.5,385.9L1250.7,384.9L1253.0,384.0L1255.2,383.2L1257.4,382.5L1259.6,381.9L1261.8,381.5L1264.0,381.2L1266.2,381.1L1268.4,381.3L1270.6,381.7L1272.8,382.5L1275.0,383.5L1277.2,384.8L1279.4,386.2L1281.6,387.8L1283.8,389.6L1286.0,391.4L1288.2,393.4L1290.4,396.2L1292.6,400.5L1294.8,406.0L1297.0,412.5L1299.2,419.7L1301.4,427.3L1303.6,434.7L1305.8,441.1L1308.0,445.6L1310.2,447.4L1312.4,446.5L1314.6,446.5L1316.8,447.5L1319.0,449.8L1321.2,453.4L1323.4,465.6L1324.8,474.0L1325.6,478.3L1327.8,489.2L1330.0,500.1L1332.2,511.0L1334.5,521.8L1336.7,532.7L1337.8,538.2L1338.9,532.9L1341.1,522.4L1343.3,511.8L1345.5,501.3L1347.7,490.7L1349.9,480.2L1351.2,473.9L1352.1,468.5L1354.3,456.7L1356.5,446.8L1358.7,438.5L1360.9,431.4L1363.1,425.5L1365.3,420.5L1367.5,416.4L1369.7,413.1L1371.9,410.6L1374.1,408.9L1376.3,407.8L1378.5,407.5L1380.7,407.8L1382.9,408.9L1385.1,410.7L1387.3,413.3L1389.5,416.6L1391.7,420.9L1393.9,426.2L1396.1,432.6L1398.3,440.2L1400.5,449.4L1402.7,460.4L1404.9,473.8L1407.1,490.3L1409.1,509.0L1409.3,512.9L1411.5,551.4L1412.9,574.5L1413.8,570.1L1416.0,559.2L1418.2,548.3L1420.4,537.4L1422.6,526.5L1424.8,515.6L1425.9,510.1L1427.0,499.2L1429.2,481.3L1431.4,467.0L1433.6,455.4L1435.8,445.9L1438.0,438.1L1440.2,431.7L1442.4,426.6L1444.6,422.7L1446.8,419.7L1449.0,417.8L1451.2,416.8L1453.4,416.8L1455.6,417.7L1457.8,419.6L1460.0,422.5L1462.2,426.4L1464.4,431.6L1466.6,438.1L1468.8,446.1L1471.0,456.0L1473.2,468.2L1475.4,483.4L1477.6,502.9L1479.8,528.9L1480.9,545.7L1482.0,559.2L1484.2,586.1L1486.4,613.0L1488.6,584.3L1490.8,555.7L1491.5,547.1L1493.1,523.7L1495.3,498.6L1497.5,479.6L1499.7,464.7L1501.9,452.6L1504.1,442.8L1506.3,434.9L1508.5,428.5L1510.7,423.4L1512.9,419.6L1515.1,416.9L1517.3,415.2L1519.5,414.6L1521.7,415.0L1523.9,416.5L1526.1,419.0L1528.3,422.7L1530.5,427.7L1532.7,434.1L1534.9,442.2L1537.1,452.2L1539.3,464.7L1541.5,480.5L1543.7,501.1L1545.9,529.1L1547.2,552.0L1548.1,562.7L1550.3,589.4L1552.5,616.2L1554.7,578.2L1556.3,551.7L1556.9,539.0L1559.1,506.4L1561.3,482.9L1563.5,464.8L1565.7,450.4L1567.9,438.7L1570.2,429.1L1572.4,421.2L1574.6,414.8L1576.8,409.7L1579.0,405.7L1581.2,402.8L1583.4,401.0L1585.6,400.1L1587.8,400.2L1590.0,401.3L1592.2,403.4L1594.4,406.6L1596.6,411.0L1598.8,416.7L1601.0,423.9L1603.2,432.9L1605.4,444.1L1607.6,458.2L1609.8,476.2L1612.0,500.3L1614.2,534.9L1616.4,593.8L1616.6,602.6L1618.6,667.5L1620.8,605.9L1621.0,599.7L1623.0,540.0L1625.2,500.7L1627.4,473.4L1629.6,452.6L1631.8,436.0L1634.0,422.5L1636.2,411.2L1638.4,401.7L1640.6,393.7L1642.8,386.9L1645.0,381.3L1647.2,376.6L1649.5,372.9L1651.7,370.0L1653.9,367.9L1656.1,366.6L1658.3,366.1L1660.5,366.4L1662.7,367.4L1664.9,369.3L1667.1,372.1L1669.3,375.9L1671.5,380.7L1673.7,386.8L1675.9,394.3L1678.1,403.5L1680.3,414.9L1682.5,429.2L1684.7,447.6L1686.9,472.4L1689.1,509.0L1689.8,524.0L1691.3,542.0L1693.5,567.8L1695.3,588.4L1695.7,569.3L1696.8,521.7L1697.9,495.3L1700.1,457.4L1702.3,430.0L1704.5,408.6L1706.7,391.0L1708.9,376.1L1711.1,363.2L1713.3,351.9L1715.5,341.8L1717.7,332.8L1719.9,324.7L1722.1,317.4L1724.3,310.7L1726.5,304.6L1728.8,299.0L1731.0,293.9L1733.2,289.2L1735.4,284.9L1737.6,280.9L1739.8,277.3L1742.0,274.0L1744.2,271.0L1746.4,268.2L1748.6,265.7L1750.8,263.4L1753.0,261.4L1755.2,259.5L1757.4,257.9L1759.6,256.5L1761.8,255.2L1764.0,254.1L1766.2,253.2L1768.4,252.4L1770.6,251.8L1772.8,251.3L1775.0,251.0L1777.2,250.8L1779.4,250.7L1781.6,250.8L1783.8,251.0L1786.0,251.3L1788.2,251.7L1790.4,252.2L1792.6,252.8L1794.8,253.5L1797.0,254.3L1799.2,255.2L1801.4,256.2L1803.6,257.3L1805.8,258.4L1808.0,259.3L1810.3,260.3L1812.5,261.3L1814.7,262.4L1816.9,263.6L1819.1,265.0L1821.3,266.6L1823.5,268.5L1825.7,270.6L1827.9,272.8L1830.1,275.2L1832.3,277.6L1834.5,280.1L1836.7,282.6L1838.9,284.9L1841.1,287.3L1843.3,289.7L1845.5,292.1L1847.7,294.6L1849.9,297.2L1852.1,299.8L1854.3,302.4L1856.5,305.1L1858.7,307.8L1860.9,310.6L1863.1,313.4L1865.3,316.4L1867.5,319.4L1869.7,322.5L1871.9,325.6L1874.1,328.8L1876.3,332.1L1878.5,335.3L1880.7,338.5L1882.9,341.6L1885.1,344.6L1887.3,347.7L1889.6,350.8L1891.8,353.9L1894.0,356.9L1896.2,360.0L1898.4,363.1L1900.6,366.2L1902.8,369.4L1905.0,372.6L1907.2,375.8L1909.4,379.0L1911.6,382.3L1913.8,385.6L1916.0,389.0L1918.2,392.4L1920.4,395.8L1922.6,399.2L1924.8,402.6L1927.0,406.0" stroke="#9d74cb" stroke-width="4"/>
<path d="M1134.0,527.8L1141.4,536.0L1134.0,544.2L1126.6,536.0Z" fill="#a87ade"/>
<path d="M1156.0,533.2L1163.4,541.4L1156.0,549.6L1148.6,541.4Z" fill="#a87ade"/>
<path d="M1178.1,489.4L1185.4,497.6L1178.1,505.8L1170.7,497.6Z" fill="#a87ade"/>
<path d="M1200.1,441.3L1207.5,449.5L1200.1,457.7L1192.7,449.5Z" fill="#a87ade"/>
<path d="M1222.1,403.9L1229.5,412.1L1222.1,420.3L1214.7,412.1Z" fill="#a87ade"/>
<path d="M1244.1,379.7L1251.5,387.9L1244.1,396.1L1236.8,387.9Z" fill="#a87ade"/>
<path d="M1266.2,372.9L1273.5,381.1L1266.2,389.3L1258.8,381.1Z" fill="#a87ade"/>
<path d="M1288.2,385.2L1295.6,393.4L1288.2,401.6L1280.8,393.4Z" fill="#a87ade"/>
<path d="M1310.2,439.2L1317.6,447.4L1310.2,455.6L1302.8,447.4Z" fill="#a87ade"/>
<path d="M1332.2,502.8L1339.6,511.0L1332.2,519.2L1324.9,511.0Z" fill="#a87ade"/>
<path d="M1354.3,448.5L1361.7,456.7L1354.3,464.9L1346.9,456.7Z" fill="#a87ade"/>
<path d="M1376.3,399.6L1383.7,407.8L1376.3,416.0L1368.9,407.8Z" fill="#a87ade"/>
<path d="M1398.3,432.0L1405.7,440.2L1398.3,448.4L1391.0,440.2Z" fill="#a87ade"/>
<path d="M1420.4,529.2L1427.7,537.4L1420.4,545.6L1413.0,537.4Z" fill="#a87ade"/>
<path d="M1442.4,418.4L1449.8,426.6L1442.4,434.8L1435.0,426.6Z" fill="#a87ade"/>
<path d="M1464.4,423.4L1471.8,431.6L1464.4,439.8L1457.0,431.6Z" fill="#a87ade"/>
<path d="M1486.4,604.8L1493.8,613.0L1486.4,621.2L1479.1,613.0Z" fill="#a87ade"/>
<path d="M1508.5,420.3L1515.9,428.5L1508.5,436.7L1501.1,428.5Z" fill="#a87ade"/>
<path d="M1530.5,419.5L1537.9,427.7L1530.5,435.9L1523.1,427.7Z" fill="#a87ade"/>
<path d="M1552.5,608.0L1559.9,616.2L1552.5,624.4L1545.1,616.2Z" fill="#a87ade"/>
<path d="M1574.6,406.6L1581.9,414.8L1574.6,423.0L1567.2,414.8Z" fill="#a87ade"/>
<path d="M1596.6,402.8L1604.0,411.0L1596.6,419.2L1589.2,411.0Z" fill="#a87ade"/>
<path d="M1618.6,659.3L1626.0,667.5L1618.6,675.7L1611.2,667.5Z" fill="#a87ade"/>
<path d="M1640.6,385.5L1648.0,393.7L1640.6,401.9L1633.3,393.7Z" fill="#a87ade"/>
<path d="M1662.7,359.2L1670.0,367.4L1662.7,375.6L1655.3,367.4Z" fill="#a87ade"/>
<path d="M1684.7,439.4L1692.1,447.6L1684.7,455.8L1677.3,447.6Z" fill="#a87ade"/>
<path d="M1706.7,382.8L1714.1,391.0L1706.7,399.2L1699.3,391.0Z" fill="#a87ade"/>
<path d="M1728.8,290.8L1736.1,299.0L1728.8,307.2L1721.4,299.0Z" fill="#a87ade"/>
<path d="M1750.8,255.2L1758.2,263.4L1750.8,271.6L1743.4,263.4Z" fill="#a87ade"/>
<path d="M1772.8,243.1L1780.2,251.3L1772.8,259.5L1765.4,251.3Z" fill="#a87ade"/>
<path d="M1794.8,245.3L1802.2,253.5L1794.8,261.7L1787.5,253.5Z" fill="#a87ade"/>
<path d="M1816.9,255.4L1824.2,263.6L1816.9,271.8L1809.5,263.6Z" fill="#a87ade"/>
<path d="M1838.9,276.7L1846.3,284.9L1838.9,293.1L1831.5,284.9Z" fill="#a87ade"/>
<path d="M1860.9,302.4L1868.3,310.6L1860.9,318.8L1853.5,310.6Z" fill="#a87ade"/>
<path d="M1882.9,333.4L1890.3,341.6L1882.9,349.8L1875.6,341.6Z" fill="#a87ade"/>
<path d="M1905.0,364.4L1912.4,372.6L1905.0,380.8L1897.6,372.6Z" fill="#a87ade"/>
<path d="M1927.0,397.8L1934.4,406.0L1927.0,414.2L1919.6,406.0Z" fill="#a87ade"/>
</g>
<rect x="163.5" y="184.5" width="792.0" height="639.0" fill="none" stroke="#222" stroke-width="3"/>
<line x1="151.5" y1="823.5" x2="163.5" y2="823.5" stroke="#1a1a1a" stroke-width="3"/>
<text x="144.5" y="841.1" text-anchor="end" font-size="56.5">-40</text>
<line x1="151.5" y1="717.0" x2="163.5" y2="717.0" stroke="#1a1a1a" stroke-width="3"/>
<text x="144.5" y="734.6" text-anchor="end" font-size="56.5">-30</text>
<line x1="151.5" y1="610.5" x2="163.5" y2="610.5" stroke="#1a1a1a" stroke-width="3"/>
<text x="144.5" y="628.1" text-anchor="end" font-size="56.5">-20</text>
<line x1="151.5" y1="504.0" x2="163.5" y2="504.0" stroke="#1a1a1a" stroke-width="3"/>
<text x="144.5" y="521.6" text-anchor="end" font-size="56.5">-10</text>
<line x1="151.5" y1="397.5" x2="163.5" y2="397.5" stroke="#1a1a1a" stroke-width="3"/>
<text x="144.5" y="415.1" text-anchor="end" font-size="56.5">0</text>
<line x1="151.5" y1="291.0" x2="163.5" y2="291.0" stroke="#1a1a1a" stroke-width="3"/>
<text x="144.5" y="308.6" text-anchor="end" font-size="56.5">10</text>
<line x1="151.5" y1="184.5" x2="163.5" y2="184.5" stroke="#1a1a1a" stroke-width="3"/>
<text x="144.5" y="202.1" text-anchor="end" font-size="56.5">20</text>
<line x1="156.5" y1="770.2" x2="163.5" y2="770.2" stroke="#1a1a1a" stroke-width="3"/>
<line x1="156.5" y1="663.8" x2="163.5" y2="663.8" stroke="#1a1a1a" stroke-width="3"/>
<line x1="156.5" y1="557.2" x2="163.5" y2="557.2" stroke="#1a1a1a" stroke-width="3"/>
<line x1="156.5" y1="450.8" x2="163.5" y2="450.8" stroke="#1a1a1a" stroke-width="3"/>
<line x1="156.5" y1="344.2" x2="163.5" y2="344.2" stroke="#1a1a1a" stroke-width="3"/>
<line x1="156.5" y1="237.8" x2="163.5" y2="237.8" stroke="#1a1a1a" stroke-width="3"/>
<line x1="163.5" y1="823.5" x2="163.5" y2="835.5" stroke="#1a1a1a" stroke-width="3"/>
<text x="163.5" y="888.0" text-anchor="middle" font-size="56.5">-90</text>
<line x1="295.5" y1="823.5" x2="295.5" y2="835.5" stroke="#1a1a1a" stroke-width="3"/>
<text x="295.5" y="888.0" text-anchor="middle" font-size="56.5">-60</text>
<line x1="427.5" y1="823.5" x2="427.5" y2="835.5" stroke="#1a1a1a" stroke-width="3"/>
<text x="427.5" y="888.0" text-anchor="middle" font-size="56.5">-30</text>
<line x1="559.5" y1="823.5" x2="559.5" y2="835.5" stroke="#1a1a1a" stroke-width="3"/>
<text x="559.5" y="888.0" text-anchor="middle" font-size="56.5">0</text>
<line x1="691.5" y1="823.5" x2="691.5" y2="835.5" stroke="#1a1a1a" stroke-width="3"/>
<text x="691.5" y="888.0" text-anchor="middle" font-size="56.5">30</text>
<line x1="823.5" y1="823.5" x2="823.5" y2="835.5" stroke="#1a1a1a" stroke-width="3"/>
<text x="823.5" y="888.0" text-anchor="middle" font-size="56.5">60</text>
<line x1="955.5" y1="823.5" x2="955.5" y2="835.5" stroke="#1a1a1a" stroke-width="3"/>
<text x="955.5" y="888.0" text-anchor="middle" font-size="56.5">90</text>
<line x1="229.5" y1="823.5" x2="229.5" y2="829.5" stroke="#1a1a1a" stroke-width="3"/>
<line x1="361.5" y1="823.5" x2="361.5" y2="829.5" stroke="#1a1a1a" stroke-width="3"/>
<line x1="493.5" y1="823.5" x2="493.5" y2="829.5" stroke="#1a1a1a" stroke-width="3"/>
<line x1="625.5" y1="823.5" x2="625.5" y2="829.5" stroke="#1a1a1a" stroke-width="3"/>
<line x1="757.5" y1="823.5" x2="757.5" y2="829.5" stroke="#1a1a1a" stroke-width="3"/>
<line x1="889.5" y1="823.5" x2="889.5" y2="829.5" stroke="#1a1a1a" stroke-width="3"/>
<text x="560.0" y="956.5" text-anchor="middle" font-size="58">Theta (deg)</text>
<text x="0" y="0" text-anchor="middle" font-size="57.6" transform="translate(59.0,504.0) rotate(-90)">Realized Gain(dBi)</text>
<rect x="1134.0" y="184.5" width="793.0" height="641.1" fill="none" stroke="#222" stroke-width="3"/>
<line x1="1122.0" y1="825.6" x2="1134.0" y2="825.6" stroke="#1a1a1a" stroke-width="3"/>
<text x="1113.0" y="843.2" text-anchor="end" font-size="56.5">-40</text>
<line x1="1122.0" y1="718.8" x2="1134.0" y2="718.8" stroke="#1a1a1a" stroke-width="3"/>
<text x="1113.0" y="736.4" text-anchor="end" font-size="56.5">-30</text>
<line x1="1122.0" y1="611.9" x2="1134.0" y2="611.9" stroke="#1a1a1a" stroke-width="3"/>
<text x="1113.0" y="629.5" text-anchor="end" font-size="56.5">-20</text>
<line x1="1122.0" y1="505.1" x2="1134.0" y2="505.1" stroke="#1a1a1a" stroke-width="3"/>
<text x="1113.0" y="522.6" text-anchor="end" font-size="56.5">-10</text>
<line x1="1122.0" y1="398.2" x2="1134.0" y2="398.2" stroke="#1a1a1a" stroke-width="3"/>
<text x="1113.0" y="415.8" text-anchor="end" font-size="56.5">0</text>
<line x1="1122.0" y1="291.4" x2="1134.0" y2="291.4" stroke="#1a1a1a" stroke-width="3"/>
<text x="1113.0" y="309.0" text-anchor="end" font-size="56.5">10</text>
<line x1="1122.0" y1="184.5" x2="1134.0" y2="184.5" stroke="#1a1a1a" stroke-width="3"/>
<text x="1113.0" y="202.1" text-anchor="end" font-size="56.5">20</text>
<line x1="1127.0" y1="772.2" x2="1134.0" y2="772.2" stroke="#1a1a1a" stroke-width="3"/>
<line x1="1127.0" y1="665.3" x2="1134.0" y2="665.3" stroke="#1a1a1a" stroke-width="3"/>
<line x1="1127.0" y1="558.5" x2="1134.0" y2="558.5" stroke="#1a1a1a" stroke-width="3"/>
<line x1="1127.0" y1="451.6" x2="1134.0" y2="451.6" stroke="#1a1a1a" stroke-width="3"/>
<line x1="1127.0" y1="344.8" x2="1134.0" y2="344.8" stroke="#1a1a1a" stroke-width="3"/>
<line x1="1127.0" y1="237.9" x2="1134.0" y2="237.9" stroke="#1a1a1a" stroke-width="3"/>
<line x1="1132.5" y1="830.8" x2="1928.5" y2="830.8" stroke="#444" stroke-width="3"/>
<line x1="1134.0" y1="825.6" x2="1134.0" y2="842.8" stroke="#1a1a1a" stroke-width="3"/>
<text x="1134.0" y="890.1" text-anchor="middle" font-size="56.5">-90</text>
<line x1="1266.2" y1="825.6" x2="1266.2" y2="842.8" stroke="#1a1a1a" stroke-width="3"/>
<text x="1266.2" y="890.1" text-anchor="middle" font-size="56.5">-60</text>
<line x1="1398.3" y1="825.6" x2="1398.3" y2="842.8" stroke="#1a1a1a" stroke-width="3"/>
<text x="1398.3" y="890.1" text-anchor="middle" font-size="56.5">-30</text>
<line x1="1530.5" y1="825.6" x2="1530.5" y2="842.8" stroke="#1a1a1a" stroke-width="3"/>
<text x="1530.5" y="890.1" text-anchor="middle" font-size="56.5">0</text>
<line x1="1662.7" y1="825.6" x2="1662.7" y2="842.8" stroke="#1a1a1a" stroke-width="3"/>
<text x="1662.7" y="890.1" text-anchor="middle" font-size="56.5">30</text>
<line x1="1794.8" y1="825.6" x2="1794.8" y2="842.8" stroke="#1a1a1a" stroke-width="3"/>
<text x="1794.8" y="890.1" text-anchor="middle" font-size="56.5">60</text>
<line x1="1927.0" y1="825.6" x2="1927.0" y2="842.8" stroke="#1a1a1a" stroke-width="3"/>
<text x="1927.0" y="890.1" text-anchor="middle" font-size="56.5">90</text>
<line x1="1200.1" y1="825.6" x2="1200.1" y2="836.8" stroke="#1a1a1a" stroke-width="3"/>
<line x1="1332.2" y1="825.6" x2="1332.2" y2="836.8" stroke="#1a1a1a" stroke-width="3"/>
<line x1="1464.4" y1="825.6" x2="1464.4" y2="836.8" stroke="#1a1a1a" stroke-width="3"/>
<line x1="1596.6" y1="825.6" x2="1596.6" y2="836.8" stroke="#1a1a1a" stroke-width="3"/>
<line x1="1728.8" y1="825.6" x2="1728.8" y2="836.8" stroke="#1a1a1a" stroke-width="3"/>
<line x1="1860.9" y1="825.6" x2="1860.9" y2="836.8" stroke="#1a1a1a" stroke-width="3"/>
<text x="1531.0" y="958.6" text-anchor="middle" font-size="58">Theta (deg)</text>
<text x="0" y="0" text-anchor="middle" font-size="57.6" transform="translate(1030.5,505.1) rotate(-90)">Realized Gain(dBi)</text>
<rect x="70.0" y="16.0" width="939.3" height="134.8" fill="#fff" stroke="#b0b0b0" stroke-width="2"/>
<line x1="77.0" y1="51.3" x2="196.0" y2="51.3" stroke="#353535" stroke-width="3.5"/>
<text x="207.0" y="70.3" font-size="53">Co-0°</text>
<line x1="384.0" y1="51.3" x2="503.0" y2="51.3" stroke="#c4454b" stroke-width="3.5"/>
<rect x="437.7" y="45.5" width="11.6" height="11.6" fill="#e5404a"/>
<text x="515.0" y="70.3" font-size="53">Co-15°</text>
<line x1="692.5" y1="51.3" x2="811.0" y2="51.3" stroke="#2a60b4" stroke-width="3.5"/>
<path d="M751.8,43.7L759.0,55.9L744.5,55.9Z" fill="#2064d4"/>
<text x="823.0" y="70.3" font-size="53">Co-30°</text>
<line x1="77.0" y1="115.3" x2="196.0" y2="115.3" stroke="#3a9060" stroke-width="3.5"/>
<circle cx="136.5" cy="115.3" r="6.3" fill="#2fa05e"/>
<text x="207.0" y="134.3" font-size="53">Co-45°</text>
<line x1="384.0" y1="115.3" x2="503.0" y2="115.3" stroke="#9d74cb" stroke-width="3.5"/>
<path d="M443.5,107.1L450.9,115.3L443.5,123.5L436.1,115.3Z" fill="#a87ade"/>
<text x="515.0" y="134.3" font-size="53">Co-55°</text>
<rect x="1060.2" y="17.6" width="938.2" height="134.7" fill="#fff" stroke="#b0b0b0" stroke-width="2"/>
<line x1="1066.5" y1="53.3" x2="1185.5" y2="53.3" stroke="#353535" stroke-width="3.5"/>
<text x="1196.5" y="72.3" font-size="53">Co-0°</text>
<line x1="1373.5" y1="53.3" x2="1492.5" y2="53.3" stroke="#c4454b" stroke-width="3.5"/>
<rect x="1427.2" y="47.5" width="11.6" height="11.6" fill="#e5404a"/>
<text x="1504.5" y="72.3" font-size="53">Co-15°</text>
<line x1="1682.0" y1="53.3" x2="1800.5" y2="53.3" stroke="#2a60b4" stroke-width="3.5"/>
<path d="M1741.2,45.7L1748.5,57.9L1734.0,57.9Z" fill="#2064d4"/>
<text x="1812.5" y="72.3" font-size="53">Co-30°</text>
<line x1="1066.5" y1="117.3" x2="1185.5" y2="117.3" stroke="#3a9060" stroke-width="3.5"/>
<circle cx="1126.0" cy="117.3" r="6.3" fill="#2fa05e"/>
<text x="1196.5" y="136.3" font-size="53">Co-45°</text>
<line x1="1373.5" y1="117.3" x2="1492.5" y2="117.3" stroke="#9d74cb" stroke-width="3.5"/>
<path d="M1433.0,109.1L1440.4,117.3L1433.0,125.5L1425.6,117.3Z" fill="#a87ade"/>
<text x="1504.5" y="136.3" font-size="53">Co-55°</text>
<text x="519.3" y="1073.5" text-anchor="middle" font-size="68">(a)</text>
<text x="1507" y="1062.5" text-anchor="middle" font-size="68">(b)</text>
</svg></body></html>
